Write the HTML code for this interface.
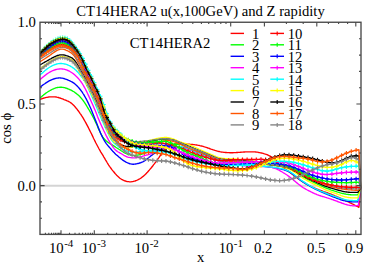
<!DOCTYPE html>
<html><head><meta charset="utf-8"><style>
html,body{margin:0;padding:0;background:#fff}
#w{position:relative;width:374px;height:262px;overflow:hidden;background:#fff;font-family:"Liberation Serif",serif;color:#000}
.t{position:absolute;white-space:nowrap;line-height:1;}
</style></head><body><div id="w">
<svg width="374" height="262" viewBox="0 0 374 262" style="position:absolute;left:0;top:0">
<rect width="374" height="262" fill="#fff"/>
<line x1="40.0" x2="361.0" y1="185.75" y2="185.75" stroke="#d4d4d4" stroke-width="1.9"/>
<clipPath id="c"><rect x="40.0" y="22.25" width="321.6" height="212.15"/></clipPath><g clip-path="url(#c)" fill="none" stroke-linejoin="round">
<path d="M40.0,99.4 L40.8,99.1 L41.6,98.8 L42.4,98.5 L43.2,98.3 L44.0,98.0 L44.8,97.8 L45.6,97.6 L46.4,97.4 L47.2,97.3 L48.0,97.1 L48.8,97.0 L49.6,96.9 L50.4,96.9 L51.2,96.8 L52.0,96.8 L52.8,96.8 L53.6,96.8 L54.4,96.9 L55.2,96.9 L56.0,97.0 L56.8,97.2 L57.6,97.3 L58.4,97.5 L59.2,97.8 L60.0,98.0 L60.8,98.3 L61.6,98.6 L62.4,98.9 L63.2,99.2 L64.0,99.6 L64.8,99.9 L65.6,100.2 L66.4,100.5 L67.2,100.9 L68.0,101.2 L68.8,101.6 L69.6,102.0 L70.4,102.5 L71.2,103.1 L72.0,103.8 L72.8,104.5 L73.6,105.3 L74.4,106.1 L75.2,107.0 L76.0,108.0 L76.8,108.9 L77.6,110.0 L78.4,111.0 L79.2,112.1 L80.0,113.3 L80.8,114.4 L81.6,115.7 L82.4,116.9 L83.2,118.2 L84.0,119.6 L84.8,121.0 L85.6,122.4 L86.4,123.9 L87.2,125.4 L88.0,126.9 L88.8,128.5 L89.6,130.1 L90.4,131.7 L91.2,133.3 L92.0,134.9 L92.8,136.6 L93.5,138.2 L94.3,139.8 L95.1,141.4 L95.9,143.0 L96.7,144.5 L97.5,146.0 L98.3,147.5 L99.1,149.0 L99.9,150.4 L100.7,151.8 L101.5,153.1 L102.3,154.4 L103.1,155.7 L103.9,157.1 L104.7,158.4 L105.5,159.8 L106.3,161.1 L107.1,162.5 L107.9,163.8 L108.7,165.1 L109.5,166.3 L110.3,167.4 L111.1,168.5 L111.9,169.6 L112.7,170.6 L113.5,171.5 L114.3,172.5 L115.1,173.5 L115.9,174.4 L116.7,175.3 L117.5,176.1 L118.3,176.8 L119.1,177.5 L119.9,178.2 L120.7,178.7 L121.5,179.3 L122.3,179.7 L123.1,180.1 L123.9,180.5 L124.7,180.8 L125.5,181.0 L126.3,181.3 L127.1,181.5 L127.9,181.6 L128.7,181.7 L129.5,181.8 L130.3,181.8 L131.1,181.8 L131.9,181.7 L132.7,181.6 L133.5,181.4 L134.3,181.2 L135.1,181.0 L135.9,180.7 L136.7,180.4 L137.5,180.0 L138.3,179.6 L139.1,179.2 L139.9,178.7 L140.7,178.2 L141.5,177.6 L142.3,177.0 L143.1,176.4 L143.9,175.7 L144.7,175.0 L145.5,174.2 L146.3,173.4 L147.1,172.6 L147.9,171.7 L148.7,170.8 L149.5,169.9 L150.3,168.9 L151.1,168.0 L151.9,167.0 L152.7,166.0 L153.5,164.9 L154.3,163.9 L155.1,162.8 L155.9,161.8 L156.7,160.7 L157.5,159.6 L158.3,158.4 L159.1,157.3 L159.9,156.1 L160.7,154.9 L161.5,153.7 L162.3,152.4 L163.1,151.2 L163.9,150.1 L164.7,149.1 L165.5,148.3 L166.3,147.6 L167.1,147.0 L167.9,146.5 L168.7,146.1 L169.5,145.7 L170.3,145.4 L171.1,145.1 L171.9,144.9 L172.7,144.6 L173.5,144.4 L174.3,144.3 L175.1,144.1 L175.9,144.0 L176.7,143.9 L177.5,143.8 L178.3,143.8 L179.1,143.8 L179.9,143.7 L180.7,143.7 L181.5,143.8 L182.3,143.8 L183.1,143.8 L183.9,143.8 L184.7,143.9 L185.5,143.9 L186.3,144.0 L187.1,144.1 L187.9,144.1 L188.7,144.2 L189.5,144.2 L190.3,144.3 L191.1,144.4 L191.9,144.4 L192.7,144.5 L193.5,144.6 L194.3,144.7 L195.1,144.8 L195.9,144.9 L196.7,145.0 L197.5,145.2 L198.3,145.3 L199.1,145.4 L199.8,145.6 L200.6,145.8 L201.4,146.0 L202.2,146.2 L203.0,146.4 L203.8,146.7 L204.6,146.9 L205.4,147.2 L206.2,147.4 L207.0,147.7 L207.8,148.0 L208.6,148.2 L209.4,148.5 L210.2,148.8 L211.0,149.1 L211.8,149.3 L212.6,149.6 L213.4,149.9 L214.2,150.1 L215.0,150.4 L215.8,150.6 L216.6,150.9 L217.4,151.1 L218.2,151.3 L219.0,151.5 L219.8,151.7 L220.6,151.8 L221.4,152.0 L222.2,152.1 L223.0,152.2 L223.8,152.3 L224.6,152.4 L225.4,152.5 L226.2,152.5 L227.0,152.6 L227.8,152.6 L228.6,152.6 L229.4,152.7 L230.2,152.7 L231.0,152.7 L231.8,152.7 L232.6,152.7 L233.4,152.7 L234.2,152.6 L235.0,152.6 L235.8,152.6 L236.6,152.5 L237.4,152.5 L238.2,152.4 L239.0,152.4 L239.8,152.3 L240.6,152.2 L241.4,152.2 L242.2,152.1 L243.0,152.1 L243.8,152.0 L244.6,152.0 L245.4,151.9 L246.2,151.9 L247.0,151.8 L247.8,151.8 L248.6,151.8 L249.4,151.8 L250.2,151.8 L251.0,151.8 L251.8,151.8 L252.6,151.8 L253.4,151.8 L254.2,151.9 L255.0,151.9 L255.8,152.0 L256.6,152.1 L257.4,152.2 L258.2,152.3 L259.0,152.5 L259.8,152.6 L260.6,152.8 L261.4,153.0 L262.2,153.2 L263.0,153.4 L263.8,153.7 L264.6,153.9 L265.4,154.2 L266.2,154.4 L267.0,154.7 L267.8,155.0 L268.6,155.4 L269.4,155.8 L270.2,156.2 L271.0,156.6 L271.8,157.1 L272.6,157.6 L273.4,158.2 L274.2,158.8 L275.0,159.5 L275.8,160.2 L276.6,161.0 L277.4,161.8 L278.2,162.6 L279.0,163.5 L279.8,164.3 L280.6,165.0 L281.4,165.8 L282.2,166.5 L283.0,167.1 L283.8,167.8 L284.6,168.4 L285.4,169.0 L286.2,169.6 L287.0,170.2 L287.8,170.8 L288.6,171.4 L289.4,172.0 L290.2,172.6 L291.0,173.2 L291.8,173.9 L292.6,174.5 L293.4,175.1 L294.2,175.7 L295.0,176.3 L295.8,176.9 L296.6,177.5 L297.4,178.1 L298.2,178.7 L299.0,179.3 L299.8,179.8 L300.6,180.4 L301.4,180.9 L302.2,181.4 L303.0,181.9 L303.8,182.4 L304.6,182.9 L305.4,183.4 L306.1,183.8 L306.9,184.3 L307.7,184.7 L308.5,185.1 L309.3,185.5 L310.1,185.9 L310.9,186.3 L311.7,186.7 L312.5,187.1 L313.3,187.4 L314.1,187.8 L314.9,188.2 L315.7,188.5 L316.5,188.8 L317.3,189.2 L318.1,189.5 L318.9,189.8 L319.7,190.1 L320.5,190.4 L321.3,190.7 L322.1,191.0 L322.9,191.3 L323.7,191.6 L324.5,191.8 L325.3,192.1 L326.1,192.4 L326.9,192.7 L327.7,193.0 L328.5,193.3 L329.3,193.6 L330.1,193.9 L330.9,194.2 L331.7,194.5 L332.5,194.8 L333.3,195.1 L334.1,195.4 L334.9,195.8 L335.7,196.1 L336.5,196.4 L337.3,196.8 L338.1,197.1 L338.9,197.5 L339.7,197.8 L340.5,198.2 L341.3,198.5 L342.1,198.9 L342.9,199.2 L343.7,199.6 L344.5,200.0 L345.3,200.4 L346.1,200.8 L346.9,201.2 L347.7,201.6 L348.5,202.0 L349.3,202.4 L350.1,202.8 L350.9,203.2 L351.7,203.6 L352.5,204.0 L353.3,204.4 L354.1,204.8 L354.9,205.2 L355.7,205.7 L356.5,206.1 L357.3,206.5 L358.1,206.9 L358.9,207.3 L360.8,188.0" stroke="#ff0000" stroke-width="1.35"/>
<path d="M40.0,97.9 L40.8,97.2 L41.6,96.6 L42.4,95.9 L43.2,95.3 L44.0,94.6 L44.8,94.0 L45.6,93.4 L46.4,92.8 L47.2,92.3 L48.0,91.7 L48.8,91.2 L49.6,90.8 L50.4,90.3 L51.2,89.9 L51.9,89.5 L52.7,89.1 L53.5,88.8 L54.3,88.4 L55.1,88.2 L55.9,87.9 L56.7,87.7 L57.5,87.5 L58.3,87.4 L59.1,87.3 L59.9,87.2 L60.7,87.2 L61.5,87.2 L62.3,87.3 L63.1,87.4 L63.9,87.6 L64.7,87.7 L65.5,88.0 L66.3,88.2 L67.1,88.5 L67.9,88.8 L68.7,89.1 L69.5,89.5 L70.3,89.8 L71.1,90.2 L71.9,90.6 L72.7,91.1 L73.5,91.5 L74.3,92.0 L75.0,92.6 L75.8,93.1 L76.6,93.7 L77.4,94.4 L78.2,95.1 L79.0,95.8 L79.8,96.6 L80.6,97.5 L81.4,98.4 L82.2,99.4 L83.0,100.4 L83.8,101.5 L84.6,102.7 L85.4,103.9 L86.2,105.2 L87.0,106.5 L87.8,107.8 L88.6,109.2 L89.4,110.5 L90.2,111.9 L91.0,113.3 L91.8,114.7 L92.6,116.2 L93.4,117.7 L94.2,119.3 L95.0,120.9 L95.8,122.6 L96.6,124.3 L97.4,126.1 L98.1,127.9 L98.9,129.6 L99.7,131.3 L100.5,133.0 L101.3,134.5 L102.1,135.9 L102.9,137.1 L103.7,138.2 L104.5,139.1 L105.3,140.0 L106.1,140.8 L106.9,141.4 L107.7,142.1 L108.5,142.6 L109.3,143.1 L110.1,143.6 L110.9,144.1 L111.7,144.6 L112.5,145.1 L113.3,145.6 L114.1,146.1 L114.9,146.6 L115.7,147.2 L116.5,147.7 L117.3,148.2 L118.1,148.7 L118.9,149.3 L119.7,149.8 L120.5,150.3 L121.2,150.8 L122.0,151.3 L122.8,151.8 L123.6,152.3 L124.4,152.7 L125.2,153.1 L126.0,153.5 L126.8,153.9 L127.6,154.2 L128.4,154.5 L129.2,154.7 L130.0,154.9 L130.8,155.1 L131.6,155.2 L132.4,155.3 L133.2,155.3 L134.0,155.4 L134.8,155.3 L135.6,155.3 L136.4,155.2 L137.2,155.1 L138.0,155.0 L138.8,154.9 L139.6,154.7 L140.4,154.5 L141.2,154.3 L142.0,154.0 L142.8,153.8 L143.6,153.5 L144.4,153.2 L145.1,152.9 L145.9,152.6 L146.7,152.3 L147.5,152.0 L148.3,151.7 L149.1,151.3 L149.9,151.0 L150.7,150.7 L151.5,150.4 L152.3,150.1 L153.1,149.8 L153.9,149.5 L154.7,149.3 L155.5,149.0 L156.3,148.7 L157.1,148.4 L157.9,148.2 L158.7,147.9 L159.5,147.7 L160.3,147.4 L161.1,147.2 L161.9,146.9 L162.7,146.7 L163.5,146.4 L164.3,146.2 L165.1,146.0 L165.9,145.7 L166.7,145.5 L167.5,145.3 L168.2,145.1 L169.0,145.0 L169.8,144.8 L170.6,144.7 L171.4,144.6 L172.2,144.5 L173.0,144.4 L173.8,144.3 L174.6,144.2 L175.4,144.2 L176.2,144.2 L177.0,144.2 L177.8,144.2 L178.6,144.2 L179.4,144.2 L180.2,144.3 L181.0,144.4 L181.8,144.6 L182.6,144.7 L183.4,144.9 L184.2,145.1 L185.0,145.3 L185.8,145.5 L186.6,145.8 L187.4,146.0 L188.2,146.3 L189.0,146.6 L189.8,146.9 L190.6,147.2 L191.3,147.5 L192.1,147.9 L192.9,148.2 L193.7,148.6 L194.5,148.9 L195.3,149.3 L196.1,149.7 L196.9,150.0 L197.7,150.4 L198.5,150.8 L199.3,151.2 L200.1,151.6 L200.9,151.9 L201.7,152.3 L202.5,152.7 L203.3,153.1 L204.1,153.5 L204.9,153.8 L205.7,154.2 L206.5,154.6 L207.3,154.9 L208.1,155.3 L208.9,155.7 L209.7,156.0 L210.5,156.4 L211.3,156.7 L212.1,157.0 L212.9,157.3 L213.7,157.6 L214.4,157.9 L215.2,158.2 L216.0,158.4 L216.8,158.7 L217.6,158.9 L218.4,159.1 L219.2,159.3 L220.0,159.5 L220.8,159.7 L221.6,159.8 L222.4,159.9 L223.2,160.1 L224.0,160.2 L224.8,160.3 L225.6,160.3 L226.4,160.4 L227.2,160.5 L228.0,160.6 L228.8,160.6 L229.6,160.7 L230.4,160.7 L231.2,160.8 L232.0,160.8 L232.8,160.9 L233.6,160.9 L234.4,161.0 L235.2,161.0 L236.0,161.1 L236.8,161.1 L237.5,161.2 L238.3,161.3 L239.1,161.3 L239.9,161.4 L240.7,161.5 L241.5,161.5 L242.3,161.6 L243.1,161.7 L243.9,161.8 L244.7,161.9 L245.5,162.0 L246.3,162.1 L247.1,162.1 L247.9,162.2 L248.7,162.3 L249.5,162.4 L250.3,162.5 L251.1,162.6 L251.9,162.7 L252.7,162.9 L253.5,163.0 L254.3,163.1 L255.1,163.2 L255.9,163.3 L256.7,163.4 L257.5,163.5 L258.3,163.6 L259.1,163.7 L259.9,163.8 L260.6,163.9 L261.4,164.0 L262.2,164.2 L263.0,164.3 L263.8,164.4 L264.6,164.5 L265.4,164.6 L266.2,164.6 L267.0,164.7 L267.8,164.8 L268.6,164.9 L269.4,165.0 L270.2,165.1 L271.0,165.2 L271.8,165.3 L272.6,165.3 L273.4,165.4 L274.2,165.5 L275.0,165.6 L275.8,165.7 L276.6,165.8 L277.4,165.9 L278.2,166.0 L279.0,166.1 L279.8,166.3 L280.6,166.4 L281.4,166.5 L282.2,166.7 L283.0,166.8 L283.7,167.0 L284.5,167.2 L285.3,167.4 L286.1,167.6 L286.9,167.8 L287.7,168.1 L288.5,168.4 L289.3,168.7 L290.1,169.1 L290.9,169.4 L291.7,169.9 L292.5,170.3 L293.3,170.8 L294.1,171.3 L294.9,171.8 L295.7,172.3 L296.5,172.8 L297.3,173.3 L298.1,173.8 L298.9,174.3 L299.7,174.9 L300.5,175.4 L301.3,175.9 L302.1,176.3 L302.9,176.8 L303.7,177.3 L304.5,177.7 L305.3,178.1 L306.1,178.6 L306.9,179.0 L307.6,179.4 L308.4,179.8 L309.2,180.2 L310.0,180.6 L310.8,180.9 L311.6,181.3 L312.4,181.7 L313.2,182.1 L314.0,182.5 L314.8,182.8 L315.6,183.2 L316.4,183.6 L317.2,184.0 L318.0,184.3 L318.8,184.7 L319.6,185.1 L320.4,185.5 L321.2,185.9 L322.0,186.2 L322.8,186.6 L323.6,187.0 L324.4,187.3 L325.2,187.7 L326.0,188.0 L326.8,188.3 L327.6,188.6 L328.4,188.9 L329.2,189.2 L330.0,189.5 L330.7,189.8 L331.5,190.1 L332.3,190.3 L333.1,190.6 L333.9,190.9 L334.7,191.1 L335.5,191.4 L336.3,191.6 L337.1,191.9 L337.9,192.1 L338.7,192.4 L339.5,192.6 L340.3,192.9 L341.1,193.1 L341.9,193.3 L342.7,193.5 L343.5,193.7 L344.3,193.9 L345.1,194.0 L345.9,194.2 L346.7,194.3 L347.5,194.4 L348.3,194.5 L349.1,194.6 L349.9,194.7 L350.7,194.7 L351.5,194.8 L352.3,194.8 L353.1,194.8 L353.8,194.9 L354.6,194.9 L355.4,194.9 L356.2,194.9 L357.0,194.9 L357.8,194.9 L360.8,188.0" stroke="#00ff00" stroke-width="1.35"/>
<path d="M40.0,87.2 L40.8,86.6 L41.6,86.0 L42.4,85.4 L43.2,84.8 L44.0,84.2 L44.8,83.7 L45.6,83.1 L46.4,82.6 L47.2,82.1 L48.0,81.6 L48.8,81.1 L49.6,80.7 L50.4,80.3 L51.2,80.0 L51.9,79.6 L52.7,79.3 L53.5,79.0 L54.3,78.8 L55.1,78.5 L55.9,78.4 L56.7,78.2 L57.5,78.1 L58.3,78.0 L59.1,77.9 L59.9,77.9 L60.7,78.0 L61.5,78.1 L62.3,78.2 L63.1,78.3 L63.9,78.5 L64.7,78.8 L65.5,79.1 L66.3,79.4 L67.1,79.7 L67.9,80.0 L68.7,80.4 L69.5,80.7 L70.3,81.1 L71.1,81.5 L71.9,81.9 L72.7,82.4 L73.5,82.9 L74.3,83.4 L75.0,84.0 L75.8,84.7 L76.6,85.4 L77.4,86.2 L78.2,87.1 L79.0,88.0 L79.8,89.0 L80.6,90.0 L81.4,91.1 L82.2,92.2 L83.0,93.5 L83.8,94.7 L84.6,96.1 L85.4,97.5 L86.2,98.9 L87.0,100.5 L87.8,102.1 L88.6,103.7 L89.4,105.5 L90.2,107.2 L91.0,109.1 L91.8,111.0 L92.6,112.9 L93.4,114.9 L94.2,116.9 L95.0,118.9 L95.8,120.9 L96.6,123.0 L97.4,125.0 L98.1,127.1 L98.9,129.1 L99.7,131.0 L100.5,132.9 L101.3,134.7 L102.1,136.4 L102.9,138.0 L103.7,139.5 L104.5,140.9 L105.3,142.1 L106.1,143.3 L106.9,144.3 L107.7,145.3 L108.5,146.3 L109.3,147.2 L110.1,148.1 L110.9,149.0 L111.7,150.0 L112.5,150.9 L113.3,151.7 L114.1,152.6 L114.9,153.4 L115.7,154.2 L116.5,154.9 L117.3,155.6 L118.1,156.3 L118.9,157.0 L119.7,157.6 L120.5,158.3 L121.2,158.9 L122.0,159.5 L122.8,160.1 L123.6,160.6 L124.4,161.2 L125.2,161.6 L126.0,162.1 L126.8,162.5 L127.6,162.9 L128.4,163.2 L129.2,163.5 L130.0,163.8 L130.8,163.9 L131.6,164.1 L132.4,164.2 L133.2,164.2 L134.0,164.2 L134.8,164.1 L135.6,164.0 L136.4,163.9 L137.2,163.7 L138.0,163.5 L138.8,163.3 L139.6,163.0 L140.4,162.8 L141.2,162.5 L142.0,162.1 L142.8,161.8 L143.6,161.4 L144.4,160.9 L145.1,160.4 L145.9,159.8 L146.7,159.2 L147.5,158.6 L148.3,158.0 L149.1,157.3 L149.9,156.7 L150.7,156.0 L151.5,155.4 L152.3,154.9 L153.1,154.3 L153.9,153.8 L154.7,153.2 L155.5,152.7 L156.3,152.3 L157.1,151.8 L157.9,151.3 L158.7,150.9 L159.5,150.5 L160.3,150.1 L161.1,149.7 L161.9,149.3 L162.7,148.9 L163.5,148.6 L164.3,148.3 L165.1,148.0 L165.9,147.7 L166.7,147.5 L167.5,147.3 L168.2,147.1 L169.0,147.0 L169.8,146.8 L170.6,146.7 L171.4,146.6 L172.2,146.6 L173.0,146.5 L173.8,146.5 L174.6,146.5 L175.4,146.5 L176.2,146.5 L177.0,146.6 L177.8,146.7 L178.6,146.8 L179.4,146.9 L180.2,147.0 L181.0,147.1 L181.8,147.3 L182.6,147.5 L183.4,147.6 L184.2,147.8 L185.0,148.0 L185.8,148.2 L186.6,148.4 L187.4,148.6 L188.2,148.8 L189.0,149.1 L189.8,149.3 L190.6,149.6 L191.3,149.8 L192.1,150.1 L192.9,150.4 L193.7,150.6 L194.5,150.9 L195.3,151.2 L196.1,151.5 L196.9,151.8 L197.7,152.1 L198.5,152.4 L199.3,152.7 L200.1,153.0 L200.9,153.4 L201.7,153.7 L202.5,154.0 L203.3,154.3 L204.1,154.7 L204.9,155.0 L205.7,155.3 L206.5,155.6 L207.3,156.0 L208.1,156.3 L208.9,156.6 L209.7,156.9 L210.5,157.3 L211.3,157.6 L212.1,157.9 L212.9,158.2 L213.7,158.5 L214.4,158.8 L215.2,159.0 L216.0,159.3 L216.8,159.6 L217.6,159.8 L218.4,160.1 L219.2,160.3 L220.0,160.5 L220.8,160.7 L221.6,160.9 L222.4,161.1 L223.2,161.3 L224.0,161.4 L224.8,161.6 L225.6,161.7 L226.4,161.9 L227.2,162.0 L228.0,162.1 L228.8,162.2 L229.6,162.3 L230.4,162.5 L231.2,162.6 L232.0,162.7 L232.8,162.8 L233.6,162.8 L234.4,162.9 L235.2,163.0 L236.0,163.1 L236.8,163.2 L237.5,163.3 L238.3,163.3 L239.1,163.4 L239.9,163.5 L240.7,163.6 L241.5,163.6 L242.3,163.7 L243.1,163.8 L243.9,163.9 L244.7,163.9 L245.5,164.0 L246.3,164.1 L247.1,164.2 L247.9,164.3 L248.7,164.4 L249.5,164.4 L250.3,164.5 L251.1,164.6 L251.9,164.7 L252.7,164.8 L253.5,164.9 L254.3,165.0 L255.1,165.1 L255.9,165.2 L256.7,165.3 L257.5,165.5 L258.3,165.6 L259.1,165.7 L259.9,165.8 L260.6,165.9 L261.4,166.0 L262.2,166.1 L263.0,166.2 L263.8,166.3 L264.6,166.4 L265.4,166.6 L266.2,166.7 L267.0,166.8 L267.8,166.9 L268.6,167.0 L269.4,167.1 L270.2,167.2 L271.0,167.3 L271.8,167.4 L272.6,167.5 L273.4,167.6 L274.2,167.8 L275.0,167.9 L275.8,168.0 L276.6,168.2 L277.4,168.3 L278.2,168.4 L279.0,168.6 L279.8,168.8 L280.6,168.9 L281.4,169.1 L282.2,169.3 L283.0,169.5 L283.7,169.7 L284.5,170.0 L285.3,170.2 L286.1,170.5 L286.9,170.8 L287.7,171.2 L288.5,171.5 L289.3,171.9 L290.1,172.4 L290.9,172.8 L291.7,173.4 L292.5,173.9 L293.3,174.5 L294.1,175.1 L294.9,175.7 L295.7,176.4 L296.5,177.0 L297.3,177.6 L298.1,178.3 L298.9,178.9 L299.7,179.6 L300.5,180.2 L301.3,180.8 L302.1,181.4 L302.9,181.9 L303.7,182.4 L304.5,182.9 L305.3,183.4 L306.1,183.9 L306.9,184.4 L307.6,184.9 L308.4,185.3 L309.2,185.8 L310.0,186.3 L310.8,186.7 L311.6,187.2 L312.4,187.6 L313.2,188.0 L314.0,188.5 L314.8,188.9 L315.6,189.3 L316.4,189.6 L317.2,190.0 L318.0,190.4 L318.8,190.7 L319.6,191.1 L320.4,191.4 L321.2,191.8 L322.0,192.2 L322.8,192.5 L323.6,192.9 L324.4,193.2 L325.2,193.6 L326.0,193.9 L326.8,194.2 L327.6,194.6 L328.4,194.9 L329.2,195.2 L330.0,195.5 L330.7,195.9 L331.5,196.2 L332.3,196.5 L333.1,196.8 L333.9,197.1 L334.7,197.4 L335.5,197.7 L336.3,198.0 L337.1,198.3 L337.9,198.6 L338.7,198.9 L339.5,199.2 L340.3,199.5 L341.1,199.8 L341.9,200.0 L342.7,200.3 L343.5,200.5 L344.3,200.7 L345.1,200.9 L345.9,201.1 L346.7,201.2 L347.5,201.3 L348.3,201.4 L349.1,201.5 L349.9,201.6 L350.7,201.7 L351.5,201.7 L352.3,201.8 L353.1,201.8 L353.8,201.8 L354.6,201.8 L355.4,201.8 L356.2,201.8 L357.0,201.8 L357.8,201.8 L360.8,188.0" stroke="#0000ff" stroke-width="1.35"/>
<path d="M40.0,79.6 L40.8,78.9 L41.6,78.2 L42.4,77.5 L43.2,76.9 L44.0,76.2 L44.8,75.6 L45.6,75.0 L46.4,74.4 L47.2,73.8 L48.0,73.2 L48.8,72.7 L49.6,72.2 L50.4,71.8 L51.2,71.4 L52.0,71.0 L52.8,70.6 L53.6,70.3 L54.4,70.0 L55.2,69.8 L56.0,69.5 L56.8,69.3 L57.6,69.2 L58.4,69.1 L59.1,69.0 L59.9,68.9 L60.7,68.9 L61.5,68.9 L62.3,69.0 L63.1,69.1 L63.9,69.2 L64.7,69.4 L65.5,69.6 L66.3,69.9 L67.1,70.2 L67.9,70.5 L68.7,70.8 L69.5,71.2 L70.3,71.7 L71.1,72.2 L71.9,72.7 L72.7,73.3 L73.5,73.9 L74.3,74.5 L75.1,75.2 L75.9,76.0 L76.7,76.7 L77.5,77.6 L78.3,78.4 L79.1,79.4 L79.9,80.4 L80.7,81.4 L81.5,82.5 L82.3,83.7 L83.1,85.0 L83.9,86.4 L84.7,87.8 L85.5,89.3 L86.3,90.9 L87.1,92.5 L87.9,94.2 L88.7,95.9 L89.5,97.7 L90.3,99.4 L91.1,101.2 L91.9,103.0 L92.7,104.7 L93.5,106.6 L94.3,108.4 L95.1,110.3 L95.9,112.3 L96.7,114.3 L97.4,116.2 L98.2,118.2 L99.0,120.1 L99.8,122.0 L100.6,123.8 L101.4,125.5 L102.2,127.3 L103.0,129.0 L103.8,130.7 L104.6,132.3 L105.4,134.0 L106.2,135.6 L107.0,137.1 L107.8,138.6 L108.6,140.1 L109.4,141.4 L110.2,142.8 L111.0,144.0 L111.8,145.3 L112.6,146.5 L113.4,147.6 L114.2,148.6 L115.0,149.5 L115.8,150.3 L116.6,150.9 L117.4,151.5 L118.2,152.0 L119.0,152.4 L119.8,152.9 L120.6,153.3 L121.4,153.8 L122.2,154.3 L123.0,154.8 L123.8,155.3 L124.6,155.7 L125.4,156.1 L126.2,156.5 L127.0,156.8 L127.8,157.1 L128.6,157.3 L129.4,157.4 L130.2,157.6 L131.0,157.7 L131.8,157.8 L132.6,157.8 L133.4,157.8 L134.2,157.8 L135.0,157.8 L135.7,157.7 L136.5,157.6 L137.3,157.5 L138.1,157.4 L138.9,157.2 L139.7,157.1 L140.5,156.9 L141.3,156.6 L142.1,156.4 L142.9,156.1 L143.7,155.9 L144.5,155.6 L145.3,155.4 L146.1,155.2 L146.9,155.0 L147.7,154.8 L148.5,154.6 L149.3,154.3 L150.1,154.0 L150.9,153.6 L151.7,153.1 L152.5,152.6 L153.3,152.1 L154.1,151.6 L154.9,151.0 L155.7,150.5 L156.5,150.1 L157.3,149.7 L158.1,149.3 L158.9,149.0 L159.7,148.7 L160.5,148.4 L161.3,148.2 L162.1,148.0 L162.9,147.8 L163.7,147.7 L164.5,147.6 L165.3,147.5 L166.1,147.4 L166.9,147.3 L167.7,147.2 L168.5,147.1 L169.3,147.1 L170.1,147.0 L170.9,147.0 L171.7,147.0 L172.5,147.0 L173.3,147.0 L174.0,147.0 L174.8,147.0 L175.6,147.0 L176.4,147.1 L177.2,147.1 L178.0,147.2 L178.8,147.3 L179.6,147.4 L180.4,147.6 L181.2,147.7 L182.0,147.8 L182.8,148.0 L183.6,148.2 L184.4,148.4 L185.2,148.6 L186.0,148.8 L186.8,149.0 L187.6,149.2 L188.4,149.5 L189.2,149.7 L190.0,150.0 L190.8,150.3 L191.6,150.6 L192.4,150.9 L193.2,151.2 L194.0,151.5 L194.8,151.8 L195.6,152.2 L196.4,152.5 L197.2,152.8 L198.0,153.2 L198.8,153.5 L199.6,153.8 L200.4,154.2 L201.2,154.5 L202.0,154.8 L202.8,155.2 L203.6,155.5 L204.4,155.8 L205.2,156.1 L206.0,156.5 L206.8,156.8 L207.6,157.1 L208.4,157.4 L209.2,157.8 L210.0,158.1 L210.8,158.4 L211.6,158.7 L212.3,159.0 L213.1,159.3 L213.9,159.6 L214.7,159.9 L215.5,160.1 L216.3,160.4 L217.1,160.6 L217.9,160.9 L218.7,161.1 L219.5,161.4 L220.3,161.6 L221.1,161.8 L221.9,162.0 L222.7,162.2 L223.5,162.4 L224.3,162.6 L225.1,162.7 L225.9,162.9 L226.7,163.1 L227.5,163.2 L228.3,163.4 L229.1,163.5 L229.9,163.7 L230.7,163.8 L231.5,163.9 L232.3,164.1 L233.1,164.2 L233.9,164.3 L234.7,164.5 L235.5,164.6 L236.3,164.7 L237.1,164.8 L237.9,164.9 L238.7,165.0 L239.5,165.2 L240.3,165.3 L241.1,165.4 L241.9,165.5 L242.7,165.6 L243.5,165.7 L244.3,165.8 L245.1,165.9 L245.9,165.9 L246.7,166.0 L247.5,166.1 L248.3,166.2 L249.1,166.2 L249.8,166.3 L250.6,166.3 L251.4,166.4 L252.2,166.4 L253.0,166.5 L253.8,166.5 L254.6,166.5 L255.4,166.6 L256.2,166.6 L257.0,166.6 L257.8,166.6 L258.6,166.6 L259.4,166.6 L260.2,166.6 L261.0,166.6 L261.8,166.6 L262.6,166.6 L263.4,166.6 L264.2,166.6 L265.0,166.6 L265.8,166.6 L266.6,166.6 L267.4,166.7 L268.2,166.8 L269.0,166.9 L269.8,167.0 L270.6,167.1 L271.4,167.3 L272.2,167.4 L273.0,167.6 L273.8,167.9 L274.6,168.1 L275.4,168.4 L276.2,168.8 L277.0,169.2 L277.8,169.6 L278.6,170.0 L279.4,170.4 L280.2,170.9 L281.0,171.3 L281.8,171.8 L282.6,172.3 L283.4,172.8 L284.2,173.2 L285.0,173.7 L285.8,174.2 L286.6,174.8 L287.4,175.3 L288.1,175.9 L288.9,176.4 L289.7,177.0 L290.5,177.6 L291.3,178.2 L292.1,178.9 L292.9,179.5 L293.7,180.2 L294.5,180.9 L295.3,181.5 L296.1,182.2 L296.9,182.9 L297.7,183.5 L298.5,184.2 L299.3,184.8 L300.1,185.4 L300.9,186.0 L301.7,186.6 L302.5,187.1 L303.3,187.7 L304.1,188.2 L304.9,188.6 L305.7,189.1 L306.5,189.5 L307.3,190.0 L308.1,190.4 L308.9,190.8 L309.7,191.2 L310.5,191.6 L311.3,192.0 L312.1,192.4 L312.9,192.8 L313.7,193.2 L314.5,193.6 L315.3,193.9 L316.1,194.2 L316.9,194.6 L317.7,194.9 L318.5,195.2 L319.3,195.5 L320.1,195.7 L320.9,196.0 L321.7,196.2 L322.5,196.5 L323.3,196.7 L324.1,196.9 L324.9,197.2 L325.7,197.4 L326.4,197.6 L327.2,197.9 L328.0,198.1 L328.8,198.4 L329.6,198.7 L330.4,198.9 L331.2,199.2 L332.0,199.5 L332.8,199.7 L333.6,200.0 L334.4,200.3 L335.2,200.6 L336.0,200.9 L336.8,201.2 L337.6,201.5 L338.4,201.8 L339.2,202.1 L340.0,202.4 L340.8,202.7 L341.6,203.0 L342.4,203.3 L343.2,203.5 L344.0,203.8 L344.8,204.1 L345.6,204.3 L346.4,204.5 L347.2,204.8 L348.0,205.0 L348.8,205.1 L349.6,205.3 L350.4,205.5 L351.2,205.6 L352.0,205.7 L352.8,205.8 L353.6,205.8 L354.4,205.8 L355.2,205.8 L356.0,205.7 L356.8,205.6 L357.6,205.5 L358.4,205.4 L360.8,188.0" stroke="#ff00ff" stroke-width="1.35"/>
<path d="M40.0,75.0 L40.8,74.3 L41.6,73.6 L42.4,72.9 L43.2,72.2 L44.0,71.5 L44.8,70.8 L45.6,70.1 L46.4,69.5 L47.2,68.9 L48.0,68.3 L48.8,67.8 L49.6,67.3 L50.4,66.8 L51.2,66.3 L51.9,65.9 L52.7,65.5 L53.5,65.2 L54.3,64.8 L55.1,64.5 L55.9,64.3 L56.7,64.0 L57.5,63.9 L58.3,63.7 L59.1,63.6 L59.9,63.5 L60.7,63.5 L61.5,63.5 L62.3,63.6 L63.1,63.7 L63.9,63.8 L64.7,64.0 L65.5,64.2 L66.3,64.4 L67.1,64.7 L67.9,65.0 L68.7,65.4 L69.5,65.7 L70.3,66.1 L71.1,66.6 L71.9,67.0 L72.7,67.6 L73.5,68.1 L74.3,68.7 L75.0,69.4 L75.8,70.1 L76.6,70.9 L77.4,71.7 L78.2,72.6 L79.0,73.5 L79.8,74.5 L80.6,75.5 L81.4,76.5 L82.2,77.5 L83.0,78.7 L83.8,79.9 L84.6,81.2 L85.4,82.6 L86.2,84.1 L87.0,85.7 L87.8,87.4 L88.6,89.1 L89.4,90.9 L90.2,92.6 L91.0,94.4 L91.8,96.3 L92.6,98.1 L93.4,99.9 L94.2,101.8 L95.0,103.6 L95.8,105.5 L96.6,107.3 L97.4,109.2 L98.1,111.0 L98.9,112.9 L99.7,114.8 L100.5,116.6 L101.3,118.5 L102.1,120.3 L102.9,122.1 L103.7,123.9 L104.5,125.7 L105.3,127.4 L106.1,129.2 L106.9,130.9 L107.7,132.6 L108.5,134.3 L109.3,135.9 L110.1,137.5 L110.9,138.9 L111.7,140.1 L112.5,141.2 L113.3,142.1 L114.1,142.9 L114.9,143.7 L115.7,144.4 L116.5,145.0 L117.3,145.6 L118.1,146.1 L118.9,146.6 L119.7,147.1 L120.5,147.6 L121.2,148.1 L122.0,148.5 L122.8,149.0 L123.6,149.4 L124.4,149.8 L125.2,150.2 L126.0,150.6 L126.8,150.9 L127.6,151.2 L128.4,151.5 L129.2,151.7 L130.0,151.9 L130.8,152.1 L131.6,152.2 L132.4,152.3 L133.2,152.3 L134.0,152.3 L134.8,152.3 L135.6,152.2 L136.4,152.1 L137.2,152.0 L138.0,151.9 L138.8,151.8 L139.6,151.7 L140.4,151.6 L141.2,151.5 L142.0,151.4 L142.8,151.3 L143.6,151.2 L144.4,151.1 L145.1,151.0 L145.9,151.0 L146.7,150.9 L147.5,150.8 L148.3,150.7 L149.1,150.6 L149.9,150.5 L150.7,150.4 L151.5,150.3 L152.3,150.1 L153.1,150.0 L153.9,149.8 L154.7,149.7 L155.5,149.5 L156.3,149.3 L157.1,149.2 L157.9,149.0 L158.7,148.8 L159.5,148.6 L160.3,148.4 L161.1,148.3 L161.9,148.1 L162.7,147.9 L163.5,147.7 L164.3,147.5 L165.1,147.3 L165.9,147.2 L166.7,147.0 L167.5,146.9 L168.2,146.7 L169.0,146.6 L169.8,146.5 L170.6,146.4 L171.4,146.4 L172.2,146.3 L173.0,146.2 L173.8,146.2 L174.6,146.2 L175.4,146.2 L176.2,146.2 L177.0,146.2 L177.8,146.3 L178.6,146.3 L179.4,146.4 L180.2,146.5 L181.0,146.7 L181.8,146.8 L182.6,147.0 L183.4,147.2 L184.2,147.4 L185.0,147.7 L185.8,148.0 L186.6,148.2 L187.4,148.5 L188.2,148.8 L189.0,149.1 L189.8,149.4 L190.6,149.7 L191.3,150.0 L192.1,150.3 L192.9,150.6 L193.7,150.9 L194.5,151.3 L195.3,151.6 L196.1,151.9 L196.9,152.2 L197.7,152.6 L198.5,152.9 L199.3,153.2 L200.1,153.5 L200.9,153.9 L201.7,154.2 L202.5,154.5 L203.3,154.9 L204.1,155.2 L204.9,155.5 L205.7,155.9 L206.5,156.2 L207.3,156.5 L208.1,156.9 L208.9,157.2 L209.7,157.5 L210.5,157.8 L211.3,158.1 L212.1,158.4 L212.9,158.7 L213.7,159.0 L214.4,159.3 L215.2,159.6 L216.0,159.8 L216.8,160.1 L217.6,160.3 L218.4,160.6 L219.2,160.8 L220.0,161.0 L220.8,161.2 L221.6,161.4 L222.4,161.6 L223.2,161.7 L224.0,161.9 L224.8,162.1 L225.6,162.2 L226.4,162.3 L227.2,162.5 L228.0,162.6 L228.8,162.7 L229.6,162.8 L230.4,162.9 L231.2,163.0 L232.0,163.1 L232.8,163.2 L233.6,163.3 L234.4,163.4 L235.2,163.5 L236.0,163.6 L236.8,163.7 L237.5,163.8 L238.3,163.9 L239.1,163.9 L239.9,164.0 L240.7,164.1 L241.5,164.2 L242.3,164.3 L243.1,164.3 L243.9,164.4 L244.7,164.5 L245.5,164.6 L246.3,164.6 L247.1,164.7 L247.9,164.8 L248.7,164.9 L249.5,165.0 L250.3,165.0 L251.1,165.1 L251.9,165.2 L252.7,165.3 L253.5,165.4 L254.3,165.4 L255.1,165.5 L255.9,165.6 L256.7,165.7 L257.5,165.8 L258.3,165.8 L259.1,165.9 L259.9,166.0 L260.6,166.1 L261.4,166.2 L262.2,166.2 L263.0,166.3 L263.8,166.4 L264.6,166.5 L265.4,166.5 L266.2,166.6 L267.0,166.7 L267.8,166.8 L268.6,166.8 L269.4,166.9 L270.2,167.0 L271.0,167.1 L271.8,167.1 L272.6,167.2 L273.4,167.3 L274.2,167.4 L275.0,167.5 L275.8,167.6 L276.6,167.7 L277.4,167.8 L278.2,168.0 L279.0,168.1 L279.8,168.3 L280.6,168.4 L281.4,168.6 L282.2,168.8 L283.0,169.0 L283.7,169.2 L284.5,169.4 L285.3,169.7 L286.1,170.0 L286.9,170.3 L287.7,170.7 L288.5,171.0 L289.3,171.4 L290.1,171.9 L290.9,172.4 L291.7,172.9 L292.5,173.4 L293.3,174.0 L294.1,174.6 L294.9,175.2 L295.7,175.9 L296.5,176.5 L297.3,177.1 L298.1,177.8 L298.9,178.4 L299.7,179.1 L300.5,179.7 L301.3,180.3 L302.1,180.9 L302.9,181.4 L303.7,181.9 L304.5,182.4 L305.3,182.9 L306.1,183.4 L306.9,183.9 L307.6,184.4 L308.4,184.8 L309.2,185.3 L310.0,185.8 L310.8,186.2 L311.6,186.7 L312.4,187.1 L313.2,187.5 L314.0,188.0 L314.8,188.4 L315.6,188.8 L316.4,189.1 L317.2,189.5 L318.0,189.9 L318.8,190.2 L319.6,190.6 L320.4,190.9 L321.2,191.3 L322.0,191.6 L322.8,191.9 L323.6,192.2 L324.4,192.6 L325.2,192.9 L326.0,193.2 L326.8,193.5 L327.6,193.8 L328.4,194.1 L329.2,194.4 L330.0,194.7 L330.7,195.0 L331.5,195.3 L332.3,195.5 L333.1,195.8 L333.9,196.1 L334.7,196.4 L335.5,196.7 L336.3,197.0 L337.1,197.3 L337.9,197.5 L338.7,197.8 L339.5,198.1 L340.3,198.4 L341.1,198.6 L341.9,198.9 L342.7,199.1 L343.5,199.3 L344.3,199.5 L345.1,199.7 L345.9,199.9 L346.7,200.0 L347.5,200.1 L348.3,200.2 L349.1,200.3 L349.9,200.4 L350.7,200.5 L351.5,200.5 L352.3,200.5 L353.1,200.6 L353.8,200.6 L354.6,200.6 L355.4,200.6 L356.2,200.6 L357.0,200.6 L357.8,200.6 L360.8,188.0" stroke="#00ffff" stroke-width="1.35"/>
<path d="M40.0,68.9 L40.8,68.3 L41.6,67.7 L42.4,67.0 L43.2,66.4 L44.0,65.8 L44.8,65.2 L45.6,64.6 L46.4,64.0 L47.2,63.5 L48.0,62.9 L48.8,62.3 L49.6,61.8 L50.4,61.3 L51.2,60.7 L51.9,60.2 L52.7,59.7 L53.5,59.3 L54.3,58.8 L55.1,58.4 L55.9,58.0 L56.7,57.6 L57.5,57.3 L58.3,57.0 L59.1,56.8 L59.9,56.7 L60.7,56.5 L61.5,56.5 L62.3,56.5 L63.1,56.6 L63.9,56.7 L64.7,56.9 L65.5,57.1 L66.3,57.4 L67.1,57.6 L67.9,57.9 L68.7,58.2 L69.5,58.4 L70.3,58.8 L71.1,59.2 L71.9,59.7 L72.7,60.4 L73.5,61.2 L74.3,62.3 L75.0,63.5 L75.8,65.0 L76.6,66.5 L77.4,68.0 L78.2,69.5 L79.0,70.9 L79.8,72.3 L80.6,73.6 L81.4,74.9 L82.2,76.2 L83.0,77.6 L83.8,79.1 L84.6,80.5 L85.4,82.0 L86.2,83.5 L87.0,85.1 L87.8,86.6 L88.6,88.1 L89.4,89.7 L90.2,91.2 L91.0,92.8 L91.8,94.4 L92.6,96.0 L93.4,97.6 L94.2,99.3 L95.0,101.0 L95.8,102.7 L96.6,104.5 L97.4,106.4 L98.1,108.2 L98.9,110.1 L99.7,112.0 L100.5,113.9 L101.3,115.9 L102.1,117.8 L102.9,119.8 L103.7,121.8 L104.5,123.8 L105.3,125.8 L106.1,127.8 L106.9,129.7 L107.7,131.6 L108.5,133.3 L109.3,135.0 L110.1,136.5 L110.9,137.8 L111.7,139.0 L112.5,140.1 L113.3,141.0 L114.1,141.8 L114.9,142.6 L115.7,143.2 L116.5,143.9 L117.3,144.4 L118.1,145.0 L118.9,145.5 L119.7,146.0 L120.5,146.4 L121.2,146.7 L122.0,147.0 L122.8,147.3 L123.6,147.5 L124.4,147.6 L125.2,147.7 L126.0,147.8 L126.8,147.9 L127.6,147.9 L128.4,147.8 L129.2,147.8 L130.0,147.7 L130.8,147.5 L131.6,147.4 L132.4,147.2 L133.2,147.0 L134.0,146.7 L134.8,146.4 L135.6,146.2 L136.4,145.9 L137.2,145.5 L138.0,145.2 L138.8,144.8 L139.6,144.5 L140.4,144.1 L141.2,143.7 L142.0,143.3 L142.8,143.0 L143.6,142.6 L144.4,142.3 L145.1,141.9 L145.9,141.6 L146.7,141.3 L147.5,141.1 L148.3,140.8 L149.1,140.5 L149.9,140.3 L150.7,140.1 L151.5,139.9 L152.3,139.6 L153.1,139.4 L153.9,139.3 L154.7,139.1 L155.5,138.9 L156.3,138.7 L157.1,138.5 L157.9,138.4 L158.7,138.2 L159.5,138.1 L160.3,137.9 L161.1,137.8 L161.9,137.7 L162.7,137.6 L163.5,137.6 L164.3,137.5 L165.1,137.5 L165.9,137.5 L166.7,137.5 L167.5,137.6 L168.2,137.7 L169.0,137.8 L169.8,138.0 L170.6,138.1 L171.4,138.3 L172.2,138.6 L173.0,138.8 L173.8,139.2 L174.6,139.5 L175.4,139.8 L176.2,140.2 L177.0,140.6 L177.8,140.9 L178.6,141.3 L179.4,141.6 L180.2,141.9 L181.0,142.1 L181.8,142.4 L182.6,142.6 L183.4,142.8 L184.2,143.1 L185.0,143.3 L185.8,143.5 L186.6,143.8 L187.4,144.1 L188.2,144.4 L189.0,144.7 L189.8,145.0 L190.6,145.3 L191.3,145.7 L192.1,146.0 L192.9,146.4 L193.7,146.7 L194.5,147.1 L195.3,147.5 L196.1,147.8 L196.9,148.2 L197.7,148.5 L198.5,148.9 L199.3,149.3 L200.1,149.6 L200.9,150.0 L201.7,150.4 L202.5,150.7 L203.3,151.1 L204.1,151.4 L204.9,151.8 L205.7,152.1 L206.5,152.5 L207.3,152.8 L208.1,153.2 L208.9,153.5 L209.7,153.9 L210.5,154.2 L211.3,154.6 L212.1,154.9 L212.9,155.2 L213.7,155.6 L214.4,155.9 L215.2,156.2 L216.0,156.6 L216.8,156.9 L217.6,157.1 L218.4,157.4 L219.2,157.6 L220.0,157.8 L220.8,158.0 L221.6,158.1 L222.4,158.3 L223.2,158.4 L224.0,158.5 L224.8,158.6 L225.6,158.6 L226.4,158.7 L227.2,158.7 L228.0,158.8 L228.8,158.8 L229.6,158.8 L230.4,158.9 L231.2,158.9 L232.0,158.9 L232.8,158.9 L233.6,158.9 L234.4,159.0 L235.2,159.0 L236.0,159.0 L236.8,159.1 L237.5,159.1 L238.3,159.2 L239.1,159.3 L239.9,159.3 L240.7,159.4 L241.5,159.5 L242.3,159.6 L243.1,159.6 L243.9,159.7 L244.7,159.8 L245.5,159.9 L246.3,160.0 L247.1,160.1 L247.9,160.2 L248.7,160.3 L249.5,160.4 L250.3,160.5 L251.1,160.7 L251.9,160.8 L252.7,160.9 L253.5,161.0 L254.3,161.1 L255.1,161.3 L255.9,161.4 L256.7,161.5 L257.5,161.6 L258.3,161.8 L259.1,161.9 L259.9,162.0 L260.6,162.2 L261.4,162.3 L262.2,162.5 L263.0,162.6 L263.8,162.8 L264.6,162.9 L265.4,163.1 L266.2,163.2 L267.0,163.4 L267.8,163.6 L268.6,163.7 L269.4,163.9 L270.2,164.1 L271.0,164.2 L271.8,164.4 L272.6,164.6 L273.4,164.8 L274.2,164.9 L275.0,165.1 L275.8,165.3 L276.6,165.5 L277.4,165.7 L278.2,165.9 L279.0,166.1 L279.8,166.2 L280.6,166.4 L281.4,166.6 L282.2,166.8 L283.0,167.0 L283.7,167.2 L284.5,167.5 L285.3,167.7 L286.1,168.0 L286.9,168.2 L287.7,168.5 L288.5,168.8 L289.3,169.2 L290.1,169.6 L290.9,170.0 L291.7,170.4 L292.5,170.9 L293.3,171.3 L294.1,171.9 L294.9,172.4 L295.7,172.9 L296.5,173.5 L297.3,174.1 L298.1,174.7 L298.9,175.3 L299.7,175.8 L300.5,176.4 L301.3,177.0 L302.1,177.5 L302.9,178.1 L303.7,178.6 L304.5,179.1 L305.3,179.5 L306.1,180.0 L306.9,180.4 L307.6,180.9 L308.4,181.3 L309.2,181.7 L310.0,182.1 L310.8,182.6 L311.6,183.0 L312.4,183.4 L313.2,183.8 L314.0,184.2 L314.8,184.5 L315.6,184.9 L316.4,185.3 L317.2,185.7 L318.0,186.1 L318.8,186.5 L319.6,186.9 L320.4,187.3 L321.2,187.7 L322.0,188.1 L322.8,188.5 L323.6,188.9 L324.4,189.3 L325.2,189.7 L326.0,190.0 L326.8,190.3 L327.6,190.6 L328.4,190.9 L329.2,191.2 L330.0,191.5 L330.7,191.8 L331.5,192.0 L332.3,192.3 L333.1,192.6 L333.9,192.8 L334.7,193.1 L335.5,193.4 L336.3,193.7 L337.1,194.0 L337.9,194.3 L338.7,194.6 L339.5,194.9 L340.3,195.2 L341.1,195.6 L341.9,195.8 L342.7,196.1 L343.5,196.4 L344.3,196.6 L345.1,196.9 L345.9,197.0 L346.7,197.2 L347.5,197.4 L348.3,197.5 L349.1,197.6 L349.9,197.7 L350.7,197.7 L351.5,197.8 L352.3,197.8 L353.1,197.8 L353.8,197.8 L354.6,197.8 L355.4,197.8 L356.2,197.8 L357.0,197.8 L357.8,197.8 L360.8,188.0" stroke="#ffff00" stroke-width="1.35"/>
<path d="M40.0,64.9 L40.8,64.4 L41.6,64.0 L42.4,63.5 L43.2,63.0 L44.0,62.6 L44.8,62.1 L45.6,61.7 L46.4,61.2 L47.2,60.8 L48.0,60.3 L48.8,59.9 L49.6,59.4 L50.4,59.0 L51.2,58.6 L51.9,58.1 L52.7,57.7 L53.5,57.3 L54.3,56.9 L55.1,56.5 L55.9,56.2 L56.7,55.8 L57.5,55.5 L58.3,55.3 L59.1,55.1 L59.9,54.9 L60.7,54.8 L61.5,54.8 L62.3,54.8 L63.1,54.9 L63.9,55.0 L64.7,55.2 L65.5,55.4 L66.3,55.7 L67.1,55.9 L67.9,56.2 L68.7,56.5 L69.5,56.8 L70.3,57.1 L71.1,57.5 L71.9,57.9 L72.7,58.5 L73.5,59.2 L74.3,60.0 L75.0,60.9 L75.8,62.0 L76.6,63.2 L77.4,64.5 L78.2,65.9 L79.0,67.3 L79.8,68.7 L80.6,70.0 L81.4,71.4 L82.2,72.8 L83.0,74.2 L83.8,75.5 L84.6,76.9 L85.4,78.3 L86.2,79.8 L87.0,81.2 L87.8,82.7 L88.6,84.2 L89.4,85.8 L90.2,87.4 L91.0,89.0 L91.8,90.7 L92.6,92.4 L93.4,94.1 L94.2,95.9 L95.0,97.7 L95.8,99.5 L96.6,101.3 L97.4,103.1 L98.1,104.9 L98.9,106.7 L99.7,108.6 L100.5,110.4 L101.3,112.3 L102.1,114.2 L102.9,116.1 L103.7,118.1 L104.5,120.1 L105.3,122.1 L106.1,124.1 L106.9,126.1 L107.7,128.1 L108.5,130.0 L109.3,131.9 L110.1,133.6 L110.9,135.1 L111.7,136.5 L112.5,137.7 L113.3,138.7 L114.1,139.6 L114.9,140.3 L115.7,141.0 L116.5,141.6 L117.3,142.2 L118.1,142.7 L118.9,143.3 L119.7,143.8 L120.5,144.3 L121.2,144.7 L122.0,145.1 L122.8,145.4 L123.6,145.7 L124.4,146.0 L125.2,146.1 L126.0,146.3 L126.8,146.4 L127.6,146.5 L128.4,146.5 L129.2,146.5 L130.0,146.5 L130.8,146.4 L131.6,146.4 L132.4,146.3 L133.2,146.1 L134.0,146.0 L134.8,145.8 L135.6,145.6 L136.4,145.4 L137.2,145.2 L138.0,145.0 L138.8,144.8 L139.6,144.5 L140.4,144.2 L141.2,144.0 L142.0,143.7 L142.8,143.4 L143.6,143.1 L144.4,142.9 L145.1,142.6 L145.9,142.3 L146.7,142.1 L147.5,141.8 L148.3,141.6 L149.1,141.4 L149.9,141.2 L150.7,141.0 L151.5,140.9 L152.3,140.7 L153.1,140.5 L153.9,140.4 L154.7,140.2 L155.5,140.1 L156.3,140.0 L157.1,139.8 L157.9,139.7 L158.7,139.6 L159.5,139.5 L160.3,139.4 L161.1,139.3 L161.9,139.2 L162.7,139.1 L163.5,139.1 L164.3,139.0 L165.1,139.0 L165.9,139.0 L166.7,139.0 L167.5,139.1 L168.2,139.1 L169.0,139.2 L169.8,139.3 L170.6,139.5 L171.4,139.6 L172.2,139.8 L173.0,140.0 L173.8,140.3 L174.6,140.5 L175.4,140.8 L176.2,141.2 L177.0,141.5 L177.8,141.8 L178.6,142.2 L179.4,142.5 L180.2,142.9 L181.0,143.2 L181.8,143.5 L182.6,143.8 L183.4,144.2 L184.2,144.5 L185.0,144.8 L185.8,145.1 L186.6,145.4 L187.4,145.7 L188.2,146.1 L189.0,146.4 L189.8,146.7 L190.6,147.0 L191.3,147.4 L192.1,147.7 L192.9,148.0 L193.7,148.4 L194.5,148.7 L195.3,149.0 L196.1,149.4 L196.9,149.7 L197.7,150.0 L198.5,150.4 L199.3,150.7 L200.1,151.0 L200.9,151.4 L201.7,151.7 L202.5,152.1 L203.3,152.4 L204.1,152.8 L204.9,153.1 L205.7,153.4 L206.5,153.8 L207.3,154.1 L208.1,154.5 L208.9,154.8 L209.7,155.2 L210.5,155.5 L211.3,155.8 L212.1,156.2 L212.9,156.5 L213.7,156.9 L214.4,157.2 L215.2,157.5 L216.0,157.8 L216.8,158.1 L217.6,158.4 L218.4,158.6 L219.2,158.8 L220.0,159.0 L220.8,159.2 L221.6,159.3 L222.4,159.4 L223.2,159.5 L224.0,159.6 L224.8,159.7 L225.6,159.7 L226.4,159.8 L227.2,159.8 L228.0,159.8 L228.8,159.9 L229.6,159.9 L230.4,159.9 L231.2,159.9 L232.0,159.9 L232.8,159.9 L233.6,160.0 L234.4,160.0 L235.2,160.0 L236.0,160.0 L236.8,160.1 L237.5,160.1 L238.3,160.2 L239.1,160.3 L239.9,160.3 L240.7,160.4 L241.5,160.5 L242.3,160.6 L243.1,160.7 L243.9,160.7 L244.7,160.8 L245.5,160.9 L246.3,161.0 L247.1,161.1 L247.9,161.2 L248.7,161.3 L249.5,161.4 L250.3,161.5 L251.1,161.6 L251.9,161.7 L252.7,161.8 L253.5,161.9 L254.3,162.0 L255.1,162.1 L255.9,162.2 L256.7,162.3 L257.5,162.5 L258.3,162.6 L259.1,162.7 L259.9,162.8 L260.6,162.9 L261.4,163.0 L262.2,163.1 L263.0,163.2 L263.8,163.3 L264.6,163.4 L265.4,163.6 L266.2,163.7 L267.0,163.8 L267.8,163.9 L268.6,164.1 L269.4,164.2 L270.2,164.3 L271.0,164.5 L271.8,164.6 L272.6,164.7 L273.4,164.9 L274.2,165.0 L275.0,165.1 L275.8,165.3 L276.6,165.4 L277.4,165.5 L278.2,165.7 L279.0,165.8 L279.8,166.0 L280.6,166.1 L281.4,166.2 L282.2,166.4 L283.0,166.5 L283.7,166.7 L284.5,166.8 L285.3,167.0 L286.1,167.2 L286.9,167.4 L287.7,167.7 L288.5,167.9 L289.3,168.2 L290.1,168.6 L290.9,168.9 L291.7,169.3 L292.5,169.7 L293.3,170.1 L294.1,170.6 L294.9,171.1 L295.7,171.5 L296.5,172.0 L297.3,172.5 L298.1,172.9 L298.9,173.4 L299.7,173.9 L300.5,174.3 L301.3,174.8 L302.1,175.2 L302.9,175.7 L303.7,176.1 L304.5,176.5 L305.3,177.0 L306.1,177.4 L306.9,177.8 L307.6,178.2 L308.4,178.6 L309.2,178.9 L310.0,179.3 L310.8,179.7 L311.6,180.1 L312.4,180.4 L313.2,180.8 L314.0,181.1 L314.8,181.5 L315.6,181.9 L316.4,182.2 L317.2,182.6 L318.0,183.0 L318.8,183.3 L319.6,183.7 L320.4,184.0 L321.2,184.4 L322.0,184.8 L322.8,185.1 L323.6,185.4 L324.4,185.8 L325.2,186.1 L326.0,186.4 L326.8,186.7 L327.6,186.9 L328.4,187.2 L329.2,187.5 L330.0,187.7 L330.7,188.0 L331.5,188.2 L332.3,188.4 L333.1,188.7 L333.9,188.9 L334.7,189.1 L335.5,189.4 L336.3,189.6 L337.1,189.8 L337.9,190.0 L338.7,190.3 L339.5,190.5 L340.3,190.7 L341.1,190.9 L341.9,191.1 L342.7,191.3 L343.5,191.5 L344.3,191.6 L345.1,191.8 L345.9,191.9 L346.7,192.0 L347.5,192.1 L348.3,192.2 L349.1,192.2 L349.9,192.3 L350.7,192.3 L351.5,192.4 L352.3,192.4 L353.1,192.4 L353.8,192.4 L354.6,192.4 L355.4,192.4 L356.2,192.4 L357.0,192.4 L357.8,192.4 L360.8,188.0" stroke="#000000" stroke-width="1.35"/>
<path d="M40.0,61.7 L40.8,61.2 L41.6,60.7 L42.4,60.2 L43.2,59.7 L44.0,59.2 L44.8,58.7 L45.6,58.2 L46.4,57.6 L47.2,57.1 L48.0,56.6 L48.8,56.1 L49.6,55.5 L50.4,55.0 L51.2,54.4 L51.9,53.8 L52.7,53.2 L53.5,52.7 L54.3,52.1 L55.1,51.6 L55.9,51.1 L56.7,50.7 L57.5,50.2 L58.3,49.9 L59.1,49.6 L59.9,49.3 L60.7,49.2 L61.5,49.1 L62.3,49.1 L63.1,49.2 L63.9,49.4 L64.7,49.6 L65.5,49.9 L66.3,50.3 L67.1,50.6 L67.9,51.0 L68.7,51.4 L69.5,51.9 L70.3,52.3 L71.1,52.9 L71.9,53.5 L72.7,54.2 L73.5,55.0 L74.3,56.0 L75.0,57.1 L75.8,58.3 L76.6,59.7 L77.4,61.1 L78.2,62.6 L79.0,64.2 L79.8,65.8 L80.6,67.3 L81.4,68.9 L82.2,70.4 L83.0,71.9 L83.8,73.4 L84.6,74.8 L85.4,76.3 L86.2,77.8 L87.0,79.3 L87.8,80.8 L88.6,82.3 L89.4,83.8 L90.2,85.4 L91.0,87.0 L91.8,88.6 L92.6,90.2 L93.4,91.9 L94.2,93.6 L95.0,95.3 L95.8,97.1 L96.6,99.0 L97.4,100.8 L98.1,102.8 L98.9,104.8 L99.7,106.8 L100.5,108.8 L101.3,110.8 L102.1,112.8 L102.9,114.8 L103.7,116.6 L104.5,118.4 L105.3,120.0 L106.1,121.6 L106.9,123.0 L107.7,124.4 L108.5,125.7 L109.3,126.9 L110.1,128.0 L110.9,129.0 L111.7,130.0 L112.5,131.0 L113.3,131.9 L114.1,132.8 L114.9,133.6 L115.7,134.4 L116.5,135.1 L117.3,135.9 L118.1,136.6 L118.9,137.2 L119.7,137.9 L120.5,138.5 L121.2,139.1 L122.0,139.7 L122.8,140.2 L123.6,140.8 L124.4,141.3 L125.2,141.8 L126.0,142.3 L126.8,142.8 L127.6,143.2 L128.4,143.7 L129.2,144.0 L130.0,144.4 L130.8,144.7 L131.6,145.0 L132.4,145.3 L133.2,145.5 L134.0,145.7 L134.8,145.8 L135.6,146.0 L136.4,146.1 L137.2,146.2 L138.0,146.2 L138.8,146.3 L139.6,146.3 L140.4,146.3 L141.2,146.3 L142.0,146.2 L142.8,146.2 L143.6,146.1 L144.4,146.0 L145.1,145.9 L145.9,145.8 L146.7,145.7 L147.5,145.5 L148.3,145.4 L149.1,145.2 L149.9,145.0 L150.7,144.8 L151.5,144.6 L152.3,144.4 L153.1,144.2 L153.9,143.9 L154.7,143.7 L155.5,143.4 L156.3,143.2 L157.1,142.9 L157.9,142.7 L158.7,142.4 L159.5,142.2 L160.3,141.9 L161.1,141.7 L161.9,141.4 L162.7,141.2 L163.5,141.0 L164.3,140.8 L165.1,140.7 L165.9,140.6 L166.7,140.5 L167.5,140.5 L168.2,140.5 L169.0,140.6 L169.8,140.7 L170.6,140.8 L171.4,141.0 L172.2,141.1 L173.0,141.4 L173.8,141.6 L174.6,141.9 L175.4,142.1 L176.2,142.5 L177.0,142.8 L177.8,143.1 L178.6,143.5 L179.4,143.8 L180.2,144.2 L181.0,144.6 L181.8,145.0 L182.6,145.4 L183.4,145.7 L184.2,146.1 L185.0,146.5 L185.8,146.8 L186.6,147.2 L187.4,147.5 L188.2,147.9 L189.0,148.2 L189.8,148.5 L190.6,148.9 L191.3,149.2 L192.1,149.5 L192.9,149.8 L193.7,150.1 L194.5,150.4 L195.3,150.7 L196.1,151.0 L196.9,151.3 L197.7,151.6 L198.5,151.9 L199.3,152.2 L200.1,152.5 L200.9,152.9 L201.7,153.2 L202.5,153.5 L203.3,153.8 L204.1,154.1 L204.9,154.4 L205.7,154.8 L206.5,155.1 L207.3,155.4 L208.1,155.7 L208.9,156.0 L209.7,156.4 L210.5,156.7 L211.3,157.0 L212.1,157.3 L212.9,157.6 L213.7,158.0 L214.4,158.3 L215.2,158.5 L216.0,158.8 L216.8,159.1 L217.6,159.4 L218.4,159.6 L219.2,159.8 L220.0,160.0 L220.8,160.2 L221.6,160.3 L222.4,160.5 L223.2,160.6 L224.0,160.7 L224.8,160.8 L225.6,160.9 L226.4,161.0 L227.2,161.1 L228.0,161.1 L228.8,161.2 L229.6,161.2 L230.4,161.3 L231.2,161.3 L232.0,161.4 L232.8,161.4 L233.6,161.4 L234.4,161.5 L235.2,161.5 L236.0,161.5 L236.8,161.6 L237.5,161.6 L238.3,161.7 L239.1,161.7 L239.9,161.8 L240.7,161.8 L241.5,161.9 L242.3,161.9 L243.1,162.0 L243.9,162.0 L244.7,162.1 L245.5,162.1 L246.3,162.2 L247.1,162.3 L247.9,162.3 L248.7,162.4 L249.5,162.5 L250.3,162.5 L251.1,162.6 L251.9,162.7 L252.7,162.7 L253.5,162.8 L254.3,162.9 L255.1,163.0 L255.9,163.0 L256.7,163.1 L257.5,163.2 L258.3,163.3 L259.1,163.3 L259.9,163.4 L260.6,163.5 L261.4,163.6 L262.2,163.7 L263.0,163.8 L263.8,163.9 L264.6,164.0 L265.4,164.1 L266.2,164.1 L267.0,164.2 L267.8,164.3 L268.6,164.4 L269.4,164.5 L270.2,164.6 L271.0,164.7 L271.8,164.8 L272.6,164.9 L273.4,165.1 L274.2,165.2 L275.0,165.3 L275.8,165.4 L276.6,165.5 L277.4,165.6 L278.2,165.7 L279.0,165.8 L279.8,166.0 L280.6,166.1 L281.4,166.2 L282.2,166.3 L283.0,166.5 L283.7,166.6 L284.5,166.8 L285.3,166.9 L286.1,167.1 L286.9,167.3 L287.7,167.5 L288.5,167.8 L289.3,168.1 L290.1,168.3 L290.9,168.7 L291.7,169.0 L292.5,169.4 L293.3,169.8 L294.1,170.2 L294.9,170.6 L295.7,171.1 L296.5,171.5 L297.3,171.9 L298.1,172.4 L298.9,172.8 L299.7,173.3 L300.5,173.7 L301.3,174.1 L302.1,174.5 L302.9,174.9 L303.7,175.3 L304.5,175.7 L305.3,176.1 L306.1,176.5 L306.9,176.8 L307.6,177.2 L308.4,177.5 L309.2,177.9 L310.0,178.2 L310.8,178.6 L311.6,178.9 L312.4,179.3 L313.2,179.6 L314.0,179.9 L314.8,180.3 L315.6,180.6 L316.4,180.9 L317.2,181.3 L318.0,181.6 L318.8,181.9 L319.6,182.3 L320.4,182.6 L321.2,183.0 L322.0,183.3 L322.8,183.6 L323.6,183.9 L324.4,184.3 L325.2,184.6 L326.0,184.9 L326.8,185.1 L327.6,185.4 L328.4,185.7 L329.2,186.0 L330.0,186.2 L330.7,186.5 L331.5,186.7 L332.3,186.9 L333.1,187.1 L333.9,187.3 L334.7,187.5 L335.5,187.7 L336.3,187.9 L337.1,188.1 L337.9,188.3 L338.7,188.4 L339.5,188.6 L340.3,188.7 L341.1,188.9 L341.9,189.0 L342.7,189.1 L343.5,189.2 L344.3,189.3 L345.1,189.4 L345.9,189.5 L346.7,189.6 L347.5,189.7 L348.3,189.8 L349.1,189.8 L349.9,189.9 L350.7,189.9 L351.5,190.0 L352.3,190.0 L353.1,190.1 L353.8,190.1 L354.6,190.2 L355.4,190.2 L356.2,190.2 L357.0,190.3 L357.8,190.3 L360.8,188.0" stroke="#ff5500" stroke-width="1.35"/>
<path d="M40.0,59.2 L40.8,58.7 L41.6,58.2 L42.4,57.7 L43.2,57.2 L44.0,56.7 L44.8,56.2 L45.6,55.7 L46.4,55.2 L47.2,54.7 L48.0,54.2 L48.8,53.7 L49.6,53.2 L50.4,52.7 L51.2,52.2 L51.9,51.7 L52.7,51.1 L53.5,50.6 L54.3,50.2 L55.1,49.7 L55.9,49.3 L56.7,48.9 L57.5,48.5 L58.3,48.1 L59.1,47.9 L59.9,47.6 L60.7,47.5 L61.5,47.3 L62.3,47.3 L63.1,47.3 L63.9,47.4 L64.7,47.5 L65.5,47.7 L66.3,48.0 L67.1,48.3 L67.9,48.6 L68.7,49.0 L69.5,49.5 L70.3,50.1 L71.1,50.7 L71.9,51.4 L72.7,52.3 L73.5,53.2 L74.3,54.2 L75.0,55.4 L75.8,56.7 L76.6,58.1 L77.4,59.5 L78.2,61.0 L79.0,62.6 L79.8,64.2 L80.6,65.7 L81.4,67.3 L82.2,68.9 L83.0,70.4 L83.8,71.9 L84.6,73.4 L85.4,74.8 L86.2,76.3 L87.0,77.8 L87.8,79.3 L88.6,80.8 L89.4,82.4 L90.2,83.9 L91.0,85.5 L91.8,87.2 L92.6,88.8 L93.4,90.5 L94.2,92.2 L95.0,93.9 L95.8,95.6 L96.6,97.4 L97.4,99.2 L98.1,101.0 L98.9,102.9 L99.7,104.8 L100.5,106.7 L101.3,108.6 L102.1,110.5 L102.9,112.5 L103.7,114.4 L104.5,116.4 L105.3,118.3 L106.1,120.3 L106.9,122.2 L107.7,124.2 L108.5,126.1 L109.3,128.0 L110.1,129.7 L110.9,131.4 L111.7,132.9 L112.5,134.2 L113.3,135.4 L114.1,136.4 L114.9,137.2 L115.7,137.9 L116.5,138.5 L117.3,139.1 L118.1,139.5 L118.9,139.9 L119.7,140.3 L120.5,140.7 L121.2,141.0 L122.0,141.4 L122.8,141.7 L123.6,141.9 L124.4,142.2 L125.2,142.4 L126.0,142.5 L126.8,142.6 L127.6,142.7 L128.4,142.7 L129.2,142.7 L130.0,142.7 L130.8,142.7 L131.6,142.6 L132.4,142.6 L133.2,142.5 L134.0,142.4 L134.8,142.3 L135.6,142.2 L136.4,142.0 L137.2,141.9 L138.0,141.8 L138.8,141.7 L139.6,141.6 L140.4,141.5 L141.2,141.4 L142.0,141.3 L142.8,141.2 L143.6,141.1 L144.4,141.1 L145.1,141.0 L145.9,140.9 L146.7,140.8 L147.5,140.8 L148.3,140.7 L149.1,140.6 L149.9,140.5 L150.7,140.4 L151.5,140.3 L152.3,140.2 L153.1,140.0 L153.9,139.9 L154.7,139.8 L155.5,139.7 L156.3,139.5 L157.1,139.4 L157.9,139.3 L158.7,139.2 L159.5,139.1 L160.3,139.0 L161.1,138.9 L161.9,138.8 L162.7,138.8 L163.5,138.7 L164.3,138.7 L165.1,138.7 L165.9,138.7 L166.7,138.8 L167.5,138.9 L168.2,139.0 L169.0,139.1 L169.8,139.3 L170.6,139.4 L171.4,139.6 L172.2,139.8 L173.0,140.0 L173.8,140.2 L174.6,140.5 L175.4,140.7 L176.2,141.0 L177.0,141.3 L177.8,141.6 L178.6,141.9 L179.4,142.2 L180.2,142.6 L181.0,143.0 L181.8,143.4 L182.6,143.8 L183.4,144.2 L184.2,144.6 L185.0,145.0 L185.8,145.4 L186.6,145.7 L187.4,146.1 L188.2,146.4 L189.0,146.7 L189.8,147.1 L190.6,147.4 L191.3,147.7 L192.1,148.0 L192.9,148.3 L193.7,148.6 L194.5,148.9 L195.3,149.2 L196.1,149.5 L196.9,149.8 L197.7,150.1 L198.5,150.4 L199.3,150.7 L200.1,151.0 L200.9,151.4 L201.7,151.7 L202.5,152.1 L203.3,152.4 L204.1,152.8 L204.9,153.2 L205.7,153.5 L206.5,153.9 L207.3,154.3 L208.1,154.6 L208.9,155.0 L209.7,155.4 L210.5,155.7 L211.3,156.1 L212.1,156.4 L212.9,156.8 L213.7,157.1 L214.4,157.4 L215.2,157.7 L216.0,158.0 L216.8,158.3 L217.6,158.6 L218.4,158.8 L219.2,159.0 L220.0,159.2 L220.8,159.4 L221.6,159.5 L222.4,159.7 L223.2,159.8 L224.0,159.9 L224.8,160.0 L225.6,160.0 L226.4,160.1 L227.2,160.1 L228.0,160.2 L228.8,160.2 L229.6,160.3 L230.4,160.3 L231.2,160.3 L232.0,160.4 L232.8,160.4 L233.6,160.4 L234.4,160.5 L235.2,160.5 L236.0,160.6 L236.8,160.6 L237.5,160.7 L238.3,160.8 L239.1,160.8 L239.9,160.9 L240.7,161.0 L241.5,161.1 L242.3,161.1 L243.1,161.2 L243.9,161.3 L244.7,161.4 L245.5,161.5 L246.3,161.6 L247.1,161.7 L247.9,161.8 L248.7,161.9 L249.5,161.9 L250.3,162.0 L251.1,162.1 L251.9,162.2 L252.7,162.3 L253.5,162.3 L254.3,162.4 L255.1,162.5 L255.9,162.6 L256.7,162.6 L257.5,162.7 L258.3,162.8 L259.1,162.9 L259.9,162.9 L260.6,163.0 L261.4,163.1 L262.2,163.2 L263.0,163.3 L263.8,163.4 L264.6,163.5 L265.4,163.6 L266.2,163.7 L267.0,163.8 L267.8,163.9 L268.6,164.0 L269.4,164.1 L270.2,164.2 L271.0,164.3 L271.8,164.5 L272.6,164.6 L273.4,164.7 L274.2,164.8 L275.0,165.0 L275.8,165.1 L276.6,165.2 L277.4,165.4 L278.2,165.5 L279.0,165.6 L279.8,165.8 L280.6,165.9 L281.4,166.0 L282.2,166.2 L283.0,166.3 L283.7,166.4 L284.5,166.6 L285.3,166.7 L286.1,166.9 L286.9,167.1 L287.7,167.3 L288.5,167.5 L289.3,167.8 L290.1,168.0 L290.9,168.3 L291.7,168.7 L292.5,169.0 L293.3,169.4 L294.1,169.8 L294.9,170.2 L295.7,170.6 L296.5,171.0 L297.3,171.4 L298.1,171.9 L298.9,172.3 L299.7,172.8 L300.5,173.2 L301.3,173.6 L302.1,174.0 L302.9,174.4 L303.7,174.8 L304.5,175.1 L305.3,175.5 L306.1,175.8 L306.9,176.2 L307.6,176.5 L308.4,176.8 L309.2,177.2 L310.0,177.5 L310.8,177.8 L311.6,178.1 L312.4,178.5 L313.2,178.8 L314.0,179.1 L314.8,179.5 L315.6,179.8 L316.4,180.1 L317.2,180.4 L318.0,180.7 L318.8,181.1 L319.6,181.4 L320.4,181.7 L321.2,182.0 L322.0,182.3 L322.8,182.7 L323.6,183.0 L324.4,183.3 L325.2,183.6 L326.0,183.9 L326.8,184.1 L327.6,184.4 L328.4,184.7 L329.2,184.9 L330.0,185.2 L330.7,185.4 L331.5,185.7 L332.3,185.9 L333.1,186.1 L333.9,186.3 L334.7,186.5 L335.5,186.7 L336.3,186.9 L337.1,187.1 L337.9,187.2 L338.7,187.4 L339.5,187.5 L340.3,187.7 L341.1,187.8 L341.9,187.9 L342.7,188.0 L343.5,188.1 L344.3,188.2 L345.1,188.3 L345.9,188.3 L346.7,188.4 L347.5,188.5 L348.3,188.5 L349.1,188.6 L349.9,188.6 L350.7,188.6 L351.5,188.7 L352.3,188.7 L353.1,188.7 L353.8,188.7 L354.6,188.8 L355.4,188.8 L356.2,188.8 L357.0,188.8 L357.8,188.8 L360.8,188.0" stroke="#858585" stroke-width="1.35"/>
<path d="M40.0,56.8 L40.8,56.1 L41.6,55.4 L42.4,54.8 L43.2,54.1 L44.0,53.5 L44.8,52.8 L45.6,52.2 L46.4,51.6 L47.2,51.0 L48.0,50.4 L48.8,49.8 L49.6,49.3 L50.4,48.7 L51.2,48.2 L52.0,47.8 L52.8,47.3 L53.6,46.8 L54.4,46.4 L55.2,46.1 L56.0,45.7 L56.8,45.4 L57.6,45.1 L58.4,44.9 L59.2,44.7 L60.0,44.6 L60.8,44.5 L61.6,44.5 L62.4,44.5 L63.2,44.6 L64.0,44.8 L64.8,45.0 L65.6,45.2 L66.4,45.5 L67.2,45.8 L68.0,46.1 L68.8,46.5 L69.6,46.8 L70.4,47.3 L71.2,47.8 L72.0,48.3 L72.8,49.0 L73.6,49.7 L74.4,50.5 L75.2,51.4 L76.0,52.5 L76.8,53.7 L77.6,55.0 L78.4,56.4 L79.2,57.9 L80.0,59.5 L80.8,61.2 L81.6,63.0 L82.4,64.9 L83.2,66.9 L84.0,68.8 L84.8,70.6 L85.6,72.2 L86.4,73.8 L87.2,75.3 L88.0,76.9 L88.8,78.4 L89.6,80.0 L90.4,81.6 L91.2,83.2 L92.0,84.9 L92.8,86.5 L93.5,88.1 L94.3,89.8 L95.1,91.5 L95.9,93.2 L96.7,94.9 L97.5,96.7 L98.3,98.5 L99.1,100.3 L99.9,102.3 L100.7,104.2 L101.5,106.2 L102.3,108.3 L103.1,110.3 L103.9,112.4 L104.7,114.4 L105.5,116.4 L106.3,118.4 L107.1,120.3 L107.9,122.2 L108.7,124.1 L109.5,125.8 L110.3,127.5 L111.1,129.2 L111.9,130.7 L112.7,132.1 L113.5,133.3 L114.3,134.4 L115.1,135.4 L115.9,136.3 L116.7,137.1 L117.5,137.8 L118.3,138.4 L119.1,139.0 L119.9,139.5 L120.7,139.9 L121.5,140.3 L122.3,140.7 L123.1,141.0 L123.9,141.3 L124.7,141.6 L125.5,141.9 L126.3,142.1 L127.1,142.3 L127.9,142.4 L128.7,142.6 L129.5,142.7 L130.3,142.8 L131.1,142.9 L131.9,142.9 L132.7,143.0 L133.5,143.0 L134.3,143.0 L135.1,143.0 L135.9,143.1 L136.7,143.1 L137.5,143.0 L138.3,143.0 L139.1,143.0 L139.9,143.0 L140.7,143.0 L141.5,143.0 L142.3,142.9 L143.1,142.9 L143.9,142.9 L144.7,142.9 L145.5,142.9 L146.3,142.9 L147.1,142.8 L147.9,142.8 L148.7,142.8 L149.5,142.8 L150.3,142.8 L151.1,142.8 L151.9,142.8 L152.7,142.8 L153.5,142.8 L154.3,142.8 L155.1,142.8 L155.9,142.8 L156.7,142.9 L157.5,142.9 L158.3,142.9 L159.1,143.0 L159.9,143.0 L160.7,143.0 L161.5,143.1 L162.3,143.2 L163.1,143.3 L163.9,143.3 L164.7,143.5 L165.5,143.6 L166.3,143.7 L167.1,143.9 L167.9,144.0 L168.7,144.2 L169.5,144.4 L170.3,144.6 L171.1,144.8 L171.9,145.0 L172.7,145.3 L173.5,145.5 L174.3,145.8 L175.1,146.0 L175.9,146.3 L176.7,146.6 L177.5,146.9 L178.3,147.1 L179.1,147.4 L179.9,147.8 L180.7,148.1 L181.5,148.4 L182.3,148.7 L183.1,149.0 L183.9,149.3 L184.7,149.7 L185.5,150.0 L186.3,150.3 L187.1,150.6 L187.9,151.0 L188.7,151.3 L189.5,151.6 L190.3,151.9 L191.1,152.3 L191.9,152.6 L192.7,152.9 L193.5,153.2 L194.3,153.5 L195.1,153.8 L195.9,154.1 L196.7,154.4 L197.5,154.7 L198.3,155.0 L199.1,155.3 L199.8,155.6 L200.6,155.8 L201.4,156.1 L202.2,156.3 L203.0,156.6 L203.8,156.8 L204.6,157.0 L205.4,157.3 L206.2,157.5 L207.0,157.7 L207.8,157.9 L208.6,158.1 L209.4,158.4 L210.2,158.6 L211.0,158.8 L211.8,159.0 L212.6,159.2 L213.4,159.4 L214.2,159.6 L215.0,159.8 L215.8,160.0 L216.6,160.1 L217.4,160.3 L218.2,160.4 L219.0,160.5 L219.8,160.6 L220.6,160.6 L221.4,160.7 L222.2,160.7 L223.0,160.7 L223.8,160.7 L224.6,160.7 L225.4,160.6 L226.2,160.6 L227.0,160.5 L227.8,160.4 L228.6,160.4 L229.4,160.3 L230.2,160.2 L231.0,160.1 L231.8,160.1 L232.6,160.0 L233.4,159.9 L234.2,159.9 L235.0,159.8 L235.8,159.7 L236.6,159.7 L237.4,159.7 L238.2,159.6 L239.0,159.6 L239.8,159.6 L240.6,159.6 L241.4,159.5 L242.2,159.5 L243.0,159.5 L243.8,159.5 L244.6,159.5 L245.4,159.5 L246.2,159.5 L247.0,159.5 L247.8,159.5 L248.6,159.5 L249.4,159.5 L250.2,159.5 L251.0,159.5 L251.8,159.5 L252.6,159.5 L253.4,159.5 L254.2,159.5 L255.0,159.5 L255.8,159.5 L256.6,159.5 L257.4,159.5 L258.2,159.4 L259.0,159.4 L259.8,159.4 L260.6,159.4 L261.4,159.4 L262.2,159.5 L263.0,159.5 L263.8,159.5 L264.6,159.6 L265.4,159.7 L266.2,159.8 L267.0,159.9 L267.8,160.1 L268.6,160.2 L269.4,160.4 L270.2,160.6 L271.0,160.8 L271.8,161.0 L272.6,161.3 L273.4,161.5 L274.2,161.8 L275.0,162.0 L275.8,162.2 L276.6,162.5 L277.4,162.7 L278.2,163.0 L279.0,163.2 L279.8,163.5 L280.6,163.8 L281.4,164.0 L282.2,164.3 L283.0,164.6 L283.8,164.9 L284.6,165.2 L285.4,165.5 L286.2,165.8 L287.0,166.1 L287.8,166.5 L288.6,166.8 L289.4,167.2 L290.2,167.6 L291.0,168.0 L291.8,168.4 L292.6,168.8 L293.4,169.2 L294.2,169.7 L295.0,170.1 L295.8,170.6 L296.6,171.0 L297.4,171.5 L298.2,172.0 L299.0,172.4 L299.8,172.9 L300.6,173.4 L301.4,173.8 L302.2,174.3 L303.0,174.8 L303.8,175.2 L304.6,175.7 L305.4,176.1 L306.1,176.6 L306.9,177.0 L307.7,177.4 L308.5,177.8 L309.3,178.2 L310.1,178.6 L310.9,178.9 L311.7,179.3 L312.5,179.6 L313.3,179.9 L314.1,180.2 L314.9,180.5 L315.7,180.8 L316.5,181.1 L317.3,181.3 L318.1,181.6 L318.9,181.8 L319.7,182.1 L320.5,182.3 L321.3,182.5 L322.1,182.8 L322.9,183.0 L323.7,183.2 L324.5,183.4 L325.3,183.6 L326.1,183.8 L326.9,184.0 L327.7,184.2 L328.5,184.4 L329.3,184.6 L330.1,184.7 L330.9,184.9 L331.7,185.1 L332.5,185.3 L333.3,185.4 L334.1,185.6 L334.9,185.7 L335.7,185.9 L336.5,186.0 L337.3,186.1 L338.1,186.3 L338.9,186.4 L339.7,186.5 L340.5,186.6 L341.3,186.6 L342.1,186.7 L342.9,186.8 L343.7,186.9 L344.5,186.9 L345.3,187.0 L346.1,187.0 L346.9,187.1 L347.7,187.1 L348.5,187.2 L349.3,187.2 L350.1,187.2 L350.9,187.3 L351.7,187.3 L352.5,187.3 L353.3,187.3 L354.1,187.3 L354.9,187.4 L355.7,187.4 L356.5,187.4 L357.3,187.4 L358.1,187.4 L358.9,187.4 L360.8,188.0" stroke="#ff0000" stroke-width="1.35"/>
<path d="M39.8,55.2h4.2M41.9,53.1v4.2M42.1,53.3h4.2M44.2,51.2v4.2M44.4,51.5h4.2M46.5,49.4v4.2M46.7,49.8h4.2M48.8,47.7v4.2M49.0,48.3h4.2M51.1,46.2v4.2M51.3,46.9h4.2M53.4,44.8v4.2M53.6,45.8h4.2M55.7,43.7v4.2M55.9,45.0h4.2M58.0,42.9v4.2M58.2,44.6h4.2M60.3,42.5v4.2M60.5,44.5h4.2M62.6,42.4v4.2M62.8,45.0h4.2M64.9,42.9v4.2M65.2,45.8h4.2M67.3,43.7v4.2M67.6,46.9h4.2M69.7,44.8v4.2M70.1,48.5h4.2M72.2,46.4v4.2M72.6,50.9h4.2M74.7,48.8v4.2M75.2,54.6h4.2M77.3,52.5v4.2M77.9,59.5h4.2M80.0,57.4v4.2M80.6,65.8h4.2M82.7,63.7v4.2M83.4,72.1h4.2M85.5,70.0v4.2M86.2,77.6h4.2M88.3,75.5v4.2M89.2,83.5h4.2M91.3,81.4v4.2M92.2,89.6h4.2M94.3,87.5v4.2" stroke="#ff0000" stroke-width="0.8"/>
<path d="M95.2,96.1h4.2M97.3,94.0v4.2M98.3,103.5h4.2M100.4,101.4v4.2M101.5,111.6h4.2M103.6,109.5v4.2M104.8,119.8h4.2M106.9,117.7v4.2M108.2,127.4h4.2M110.3,125.3v4.2M111.6,133.6h4.2M113.7,131.5v4.2M115.1,137.6h4.2M117.2,135.5v4.2M118.7,140.0h4.2M120.8,137.9v4.2M122.4,141.6h4.2M124.5,139.5v4.2" stroke="#ff0000" stroke-width="0.95"/>
<path d="M126.2,142.5h4.2M128.3,140.4v4.2M130.0,143.0h4.2M132.1,140.9v4.2M134.0,143.1h4.2M136.1,141.0v4.2M138.0,143.0h4.2M140.1,140.9v4.2M142.2,142.9h4.2M144.3,140.8v4.2M146.4,142.8h4.2M148.5,140.7v4.2M150.7,142.8h4.2M152.8,140.7v4.2M155.1,142.9h4.2M157.2,140.8v4.2M159.5,143.1h4.2M161.6,141.0v4.2M163.9,143.7h4.2M166.0,141.6v4.2M168.3,144.6h4.2M170.4,142.5v4.2M172.7,145.9h4.2M174.8,143.8v4.2M177.2,147.5h4.2M179.3,145.4v4.2M181.6,149.3h4.2M183.7,147.2v4.2M186.1,151.1h4.2M188.2,149.0v4.2M190.5,152.9h4.2M192.6,150.8v4.2M195.0,154.6h4.2M197.1,152.5v4.2M199.5,156.1h4.2M201.6,154.0v4.2M204.0,157.4h4.2M206.1,155.3v4.2M208.5,158.7h4.2M210.6,156.6v4.2M213.0,159.8h4.2M215.1,157.7v4.2M217.5,160.6h4.2M219.6,158.5v4.2M222.1,160.7h4.2M224.2,158.6v4.2M226.6,160.4h4.2M228.7,158.3v4.2M231.2,159.9h4.2M233.3,157.8v4.2M235.8,159.6h4.2M237.9,157.5v4.2M240.4,159.5h4.2M242.5,157.4v4.2M245.0,159.5h4.2M247.1,157.4v4.2M249.6,159.5h4.2M251.7,157.4v4.2M254.2,159.5h4.2M256.3,157.4v4.2M258.9,159.4h4.2M261.0,157.3v4.2M263.5,159.7h4.2M265.6,157.6v4.2M268.2,160.6h4.2M270.3,158.5v4.2M272.8,162.0h4.2M274.9,159.9v4.2M277.5,163.4h4.2M279.6,161.3v4.2M282.2,165.1h4.2M284.3,163.0v4.2M286.9,167.0h4.2M289.0,164.9v4.2M291.6,169.4h4.2M293.7,167.3v4.2M296.4,172.1h4.2M298.5,170.0v4.2M301.1,174.9h4.2M303.2,172.8v4.2M305.9,177.5h4.2M308.0,175.4v4.2M310.6,179.7h4.2M312.7,177.6v4.2M315.4,181.4h4.2M317.5,179.3v4.2M320.2,182.8h4.2M322.3,180.7v4.2M325.0,184.0h4.2M327.1,181.9v4.2M329.8,185.1h4.2M331.9,183.0v4.2M334.6,186.0h4.2M336.7,183.9v4.2M339.5,186.7h4.2M341.6,184.6v4.2M344.3,187.1h4.2M346.4,185.0v4.2M349.2,187.3h4.2M351.3,185.2v4.2M354.0,187.4h4.2M356.1,185.3v4.2" stroke="#ff0000" stroke-width="1.15"/>
<path d="M40.0,55.6 L40.8,54.9 L41.6,54.2 L42.4,53.5 L43.2,52.9 L44.0,52.2 L44.8,51.5 L45.6,50.9 L46.4,50.2 L47.2,49.6 L48.0,49.0 L48.8,48.4 L49.6,47.9 L50.4,47.3 L51.2,46.8 L52.0,46.3 L52.8,45.8 L53.6,45.4 L54.4,44.9 L55.2,44.5 L56.0,44.2 L56.8,43.8 L57.6,43.5 L58.4,43.3 L59.2,43.1 L60.0,42.9 L60.8,42.8 L61.6,42.8 L62.4,42.8 L63.2,42.9 L64.0,43.0 L64.8,43.2 L65.6,43.5 L66.4,43.7 L67.2,44.0 L68.0,44.4 L68.8,44.8 L69.6,45.2 L70.4,45.7 L71.2,46.2 L72.0,46.8 L72.8,47.5 L73.6,48.3 L74.4,49.1 L75.2,50.1 L76.0,51.2 L76.8,52.3 L77.6,53.6 L78.4,55.0 L79.2,56.4 L80.0,58.0 L80.8,59.7 L81.6,61.4 L82.4,63.3 L83.2,65.2 L84.0,67.1 L84.8,69.0 L85.6,70.8 L86.4,72.4 L87.2,73.9 L88.0,75.5 L88.8,77.1 L89.6,78.7 L90.4,80.3 L91.2,81.9 L92.0,83.6 L92.8,85.2 L93.5,86.9 L94.3,88.6 L95.1,90.3 L95.9,92.0 L96.7,93.7 L97.5,95.5 L98.3,97.3 L99.1,99.2 L99.9,101.1 L100.7,103.0 L101.5,105.0 L102.3,107.1 L103.1,109.1 L103.9,111.2 L104.7,113.2 L105.5,115.3 L106.3,117.2 L107.1,119.1 L107.9,121.0 L108.7,122.8 L109.5,124.5 L110.3,126.2 L111.1,127.8 L111.9,129.2 L112.7,130.5 L113.5,131.7 L114.3,132.8 L115.1,133.7 L115.9,134.5 L116.7,135.1 L117.5,135.7 L118.3,136.2 L119.1,136.6 L119.9,137.0 L120.7,137.3 L121.5,137.6 L122.3,137.8 L123.1,138.0 L123.9,138.3 L124.7,138.5 L125.5,138.8 L126.3,139.1 L127.1,139.3 L127.9,139.6 L128.7,140.0 L129.5,140.3 L130.3,140.6 L131.1,140.9 L131.9,141.2 L132.7,141.4 L133.5,141.6 L134.3,141.9 L135.1,142.1 L135.9,142.2 L136.7,142.4 L137.5,142.5 L138.3,142.6 L139.1,142.7 L139.9,142.8 L140.7,142.8 L141.5,142.8 L142.3,142.8 L143.1,142.8 L143.9,142.8 L144.7,142.7 L145.5,142.7 L146.3,142.6 L147.1,142.6 L147.9,142.5 L148.7,142.4 L149.5,142.3 L150.3,142.3 L151.1,142.2 L151.9,142.1 L152.7,142.1 L153.5,142.0 L154.3,141.9 L155.1,141.9 L155.9,141.8 L156.7,141.7 L157.5,141.7 L158.3,141.6 L159.1,141.6 L159.9,141.5 L160.7,141.5 L161.5,141.4 L162.3,141.4 L163.1,141.3 L163.9,141.3 L164.7,141.4 L165.5,141.4 L166.3,141.6 L167.1,141.7 L167.9,141.9 L168.7,142.2 L169.5,142.4 L170.3,142.7 L171.1,143.1 L171.9,143.4 L172.7,143.8 L173.5,144.3 L174.3,144.7 L175.1,145.2 L175.9,145.7 L176.7,146.2 L177.5,146.7 L178.3,147.2 L179.1,147.8 L179.9,148.3 L180.7,148.8 L181.5,149.4 L182.3,149.9 L183.1,150.4 L183.9,150.9 L184.7,151.3 L185.5,151.7 L186.3,152.2 L187.1,152.6 L187.9,152.9 L188.7,153.3 L189.5,153.6 L190.3,153.9 L191.1,154.3 L191.9,154.6 L192.7,154.9 L193.5,155.2 L194.3,155.4 L195.1,155.7 L195.9,156.0 L196.7,156.3 L197.5,156.6 L198.3,156.9 L199.1,157.1 L199.8,157.4 L200.6,157.8 L201.4,158.1 L202.2,158.4 L203.0,158.7 L203.8,159.1 L204.6,159.4 L205.4,159.7 L206.2,160.1 L207.0,160.4 L207.8,160.7 L208.6,161.1 L209.4,161.4 L210.2,161.7 L211.0,162.0 L211.8,162.3 L212.6,162.6 L213.4,162.8 L214.2,163.1 L215.0,163.3 L215.8,163.5 L216.6,163.7 L217.4,163.9 L218.2,164.1 L219.0,164.3 L219.8,164.4 L220.6,164.5 L221.4,164.7 L222.2,164.8 L223.0,164.8 L223.8,164.9 L224.6,165.0 L225.4,165.0 L226.2,165.1 L227.0,165.1 L227.8,165.1 L228.6,165.1 L229.4,165.1 L230.2,165.1 L231.0,165.1 L231.8,165.1 L232.6,165.1 L233.4,165.0 L234.2,165.0 L235.0,165.0 L235.8,165.0 L236.6,165.0 L237.4,164.9 L238.2,164.9 L239.0,164.9 L239.8,164.9 L240.6,164.8 L241.4,164.8 L242.2,164.8 L243.0,164.8 L243.8,164.7 L244.6,164.7 L245.4,164.7 L246.2,164.6 L247.0,164.6 L247.8,164.5 L248.6,164.5 L249.4,164.4 L250.2,164.4 L251.0,164.3 L251.8,164.3 L252.6,164.2 L253.4,164.1 L254.2,164.1 L255.0,164.0 L255.8,163.9 L256.6,163.8 L257.4,163.7 L258.2,163.6 L259.0,163.5 L259.8,163.4 L260.6,163.4 L261.4,163.3 L262.2,163.2 L263.0,163.1 L263.8,163.1 L264.6,163.0 L265.4,163.0 L266.2,163.0 L267.0,163.0 L267.8,163.0 L268.6,163.0 L269.4,163.0 L270.2,163.1 L271.0,163.1 L271.8,163.2 L272.6,163.3 L273.4,163.3 L274.2,163.4 L275.0,163.5 L275.8,163.6 L276.6,163.7 L277.4,163.8 L278.2,163.9 L279.0,164.1 L279.8,164.2 L280.6,164.4 L281.4,164.5 L282.2,164.7 L283.0,164.9 L283.8,165.1 L284.6,165.3 L285.4,165.5 L286.2,165.7 L287.0,166.0 L287.8,166.2 L288.6,166.5 L289.4,166.8 L290.2,167.1 L291.0,167.4 L291.8,167.7 L292.6,168.0 L293.4,168.4 L294.2,168.7 L295.0,169.1 L295.8,169.5 L296.6,169.9 L297.4,170.3 L298.2,170.7 L299.0,171.1 L299.8,171.5 L300.6,171.9 L301.4,172.3 L302.2,172.7 L303.0,173.1 L303.8,173.6 L304.6,174.0 L305.4,174.4 L306.1,174.7 L306.9,175.1 L307.7,175.5 L308.5,175.9 L309.3,176.2 L310.1,176.6 L310.9,176.9 L311.7,177.2 L312.5,177.5 L313.3,177.8 L314.1,178.1 L314.9,178.4 L315.7,178.6 L316.5,178.9 L317.3,179.1 L318.1,179.4 L318.9,179.6 L319.7,179.8 L320.5,180.0 L321.3,180.2 L322.1,180.4 L322.9,180.6 L323.7,180.8 L324.5,180.9 L325.3,181.1 L326.1,181.2 L326.9,181.3 L327.7,181.4 L328.5,181.6 L329.3,181.7 L330.1,181.8 L330.9,181.9 L331.7,182.0 L332.5,182.0 L333.3,182.1 L334.1,182.2 L334.9,182.2 L335.7,182.3 L336.5,182.4 L337.3,182.4 L338.1,182.4 L338.9,182.5 L339.7,182.5 L340.5,182.5 L341.3,182.5 L342.1,182.5 L342.9,182.6 L343.7,182.6 L344.5,182.6 L345.3,182.6 L346.1,182.6 L346.9,182.6 L347.7,182.6 L348.5,182.6 L349.3,182.5 L350.1,182.5 L350.9,182.5 L351.7,182.5 L352.5,182.5 L353.3,182.5 L354.1,182.4 L354.9,182.4 L355.7,182.4 L356.5,182.4 L357.3,182.4 L358.1,182.3 L358.9,182.3 L360.8,188.0" stroke="#00ff00" stroke-width="1.35"/>
<path d="M39.8,54.0h4.2M41.9,51.9v4.2M42.1,52.0h4.2M44.2,49.9v4.2M44.4,50.2h4.2M46.5,48.1v4.2M46.7,48.4h4.2M48.8,46.3v4.2M49.0,46.9h4.2M51.1,44.8v4.2M51.3,45.5h4.2M53.4,43.4v4.2M53.6,44.3h4.2M55.7,42.2v4.2M55.9,43.4h4.2M58.0,41.3v4.2M58.2,42.9h4.2M60.3,40.8v4.2M60.5,42.8h4.2M62.6,40.7v4.2M62.8,43.3h4.2M64.9,41.2v4.2M65.2,44.1h4.2M67.3,42.0v4.2M67.6,45.3h4.2M69.7,43.2v4.2M70.1,47.0h4.2M72.2,44.9v4.2M72.6,49.5h4.2M74.7,47.4v4.2M75.2,53.2h4.2M77.3,51.1v4.2M77.9,58.0h4.2M80.0,55.9v4.2M80.6,64.1h4.2M82.7,62.0v4.2M83.4,70.6h4.2M85.5,68.5v4.2M86.2,76.3h4.2M88.3,74.2v4.2M89.2,82.2h4.2M91.3,80.1v4.2M92.2,88.4h4.2M94.3,86.3v4.2" stroke="#00ff00" stroke-width="0.8"/>
<path d="M95.2,95.0h4.2M97.3,92.9v4.2M98.3,102.3h4.2M100.4,100.2v4.2M101.5,110.4h4.2M103.6,108.3v4.2M104.8,118.6h4.2M106.9,116.5v4.2M108.2,126.1h4.2M110.3,124.0v4.2M111.6,132.0h4.2M113.7,129.9v4.2M115.1,135.5h4.2M117.2,133.4v4.2M118.7,137.3h4.2M120.8,135.2v4.2M122.4,138.5h4.2M124.5,136.4v4.2" stroke="#00ff00" stroke-width="0.95"/>
<path d="M126.2,139.8h4.2M128.3,137.7v4.2M130.0,141.2h4.2M132.1,139.1v4.2M134.0,142.3h4.2M136.1,140.2v4.2M138.0,142.8h4.2M140.1,140.7v4.2M142.2,142.8h4.2M144.3,140.7v4.2M146.4,142.4h4.2M148.5,140.3v4.2M150.7,142.1h4.2M152.8,140.0v4.2M155.1,141.7h4.2M157.2,139.6v4.2M159.5,141.4h4.2M161.6,139.3v4.2M163.9,141.5h4.2M166.0,139.4v4.2M168.3,142.8h4.2M170.4,140.7v4.2M172.7,145.0h4.2M174.8,142.9v4.2M177.2,147.9h4.2M179.3,145.8v4.2M181.6,150.8h4.2M183.7,148.7v4.2M186.1,153.1h4.2M188.2,151.0v4.2M190.5,154.8h4.2M192.6,152.7v4.2M195.0,156.4h4.2M197.1,154.3v4.2M199.5,158.1h4.2M201.6,156.0v4.2M204.0,160.0h4.2M206.1,157.9v4.2M208.5,161.8h4.2M210.6,159.7v4.2M213.0,163.3h4.2M215.1,161.2v4.2M217.5,164.4h4.2M219.6,162.3v4.2M222.1,164.9h4.2M224.2,162.8v4.2M226.6,165.1h4.2M228.7,163.0v4.2M231.2,165.0h4.2M233.3,162.9v4.2M235.8,164.9h4.2M237.9,162.8v4.2M240.4,164.8h4.2M242.5,162.7v4.2M245.0,164.6h4.2M247.1,162.5v4.2M249.6,164.3h4.2M251.7,162.2v4.2M254.2,163.8h4.2M256.3,161.7v4.2M258.9,163.3h4.2M261.0,161.2v4.2M263.5,163.0h4.2M265.6,160.9v4.2M268.2,163.1h4.2M270.3,161.0v4.2M272.8,163.5h4.2M274.9,161.4v4.2M277.5,164.2h4.2M279.6,162.1v4.2M282.2,165.2h4.2M284.3,163.1v4.2M286.9,166.6h4.2M289.0,164.5v4.2M291.6,168.5h4.2M293.7,166.4v4.2M296.4,170.8h4.2M298.5,168.7v4.2M301.1,173.3h4.2M303.2,171.2v4.2M305.9,175.6h4.2M308.0,173.5v4.2M310.6,177.6h4.2M312.7,175.5v4.2M315.4,179.2h4.2M317.5,177.1v4.2M320.2,180.5h4.2M322.3,178.4v4.2M325.0,181.3h4.2M327.1,179.2v4.2M329.8,182.0h4.2M331.9,179.9v4.2M334.6,182.4h4.2M336.7,180.3v4.2M339.5,182.5h4.2M341.6,180.4v4.2M344.3,182.6h4.2M346.4,180.5v4.2M349.2,182.5h4.2M351.3,180.4v4.2M354.0,182.4h4.2M356.1,180.3v4.2" stroke="#00ff00" stroke-width="1.15"/>
<path d="M40.0,54.6 L40.8,53.9 L41.6,53.2 L42.4,52.5 L43.2,51.8 L44.0,51.1 L44.8,50.4 L45.6,49.8 L46.4,49.1 L47.2,48.5 L48.0,47.8 L48.8,47.2 L49.6,46.6 L50.4,46.0 L51.2,45.4 L52.0,44.9 L52.8,44.3 L53.6,43.8 L54.4,43.3 L55.2,42.9 L56.0,42.5 L56.8,42.1 L57.6,41.7 L58.4,41.4 L59.2,41.2 L60.0,41.0 L60.8,40.9 L61.6,40.8 L62.4,40.8 L63.2,40.9 L64.0,41.0 L64.8,41.2 L65.6,41.5 L66.4,41.8 L67.2,42.1 L68.0,42.6 L68.8,43.1 L69.6,43.6 L70.4,44.2 L71.2,44.9 L72.0,45.7 L72.8,46.5 L73.6,47.4 L74.4,48.3 L75.2,49.3 L76.0,50.3 L76.8,51.5 L77.6,52.7 L78.4,54.0 L79.2,55.4 L80.0,56.9 L80.8,58.4 L81.6,60.1 L82.4,61.9 L83.2,63.7 L84.0,65.7 L84.8,67.6 L85.6,69.5 L86.4,71.2 L87.2,72.8 L88.0,74.3 L88.8,75.9 L89.6,77.5 L90.4,79.1 L91.2,80.7 L92.0,82.3 L92.8,84.0 L93.5,85.6 L94.3,87.3 L95.1,89.0 L95.9,90.7 L96.7,92.5 L97.5,94.3 L98.3,96.1 L99.1,98.0 L99.9,99.9 L100.7,101.8 L101.5,103.8 L102.3,105.9 L103.1,107.9 L103.9,110.0 L104.7,112.1 L105.5,114.1 L106.3,116.1 L107.1,118.0 L107.9,119.9 L108.7,121.6 L109.5,123.3 L110.3,125.0 L111.1,126.5 L111.9,127.9 L112.7,129.3 L113.5,130.5 L114.3,131.7 L115.1,132.7 L115.9,133.5 L116.7,134.3 L117.5,135.0 L118.3,135.6 L119.1,136.2 L119.9,136.7 L120.7,137.1 L121.5,137.5 L122.3,137.9 L123.1,138.3 L123.9,138.6 L124.7,139.0 L125.5,139.3 L126.3,139.6 L127.1,140.0 L127.9,140.4 L128.7,140.7 L129.5,141.1 L130.3,141.5 L131.1,141.8 L131.9,142.1 L132.7,142.4 L133.5,142.7 L134.3,142.9 L135.1,143.1 L135.9,143.3 L136.7,143.4 L137.5,143.6 L138.3,143.7 L139.1,143.8 L139.9,143.9 L140.7,144.0 L141.5,144.1 L142.3,144.2 L143.1,144.3 L143.9,144.4 L144.7,144.5 L145.5,144.6 L146.3,144.7 L147.1,144.7 L147.9,144.8 L148.7,144.9 L149.5,145.0 L150.3,145.0 L151.1,145.1 L151.9,145.1 L152.7,145.2 L153.5,145.3 L154.3,145.3 L155.1,145.4 L155.9,145.4 L156.7,145.4 L157.5,145.5 L158.3,145.5 L159.1,145.5 L159.9,145.5 L160.7,145.5 L161.5,145.5 L162.3,145.5 L163.1,145.5 L163.9,145.5 L164.7,145.6 L165.5,145.6 L166.3,145.8 L167.1,145.9 L167.9,146.1 L168.7,146.3 L169.5,146.5 L170.3,146.8 L171.1,147.1 L171.9,147.4 L172.7,147.8 L173.5,148.2 L174.3,148.6 L175.1,149.0 L175.9,149.5 L176.7,150.0 L177.5,150.4 L178.3,150.9 L179.1,151.4 L179.9,151.9 L180.7,152.5 L181.5,152.9 L182.3,153.4 L183.1,153.9 L183.9,154.4 L184.7,154.8 L185.5,155.2 L186.3,155.6 L187.1,156.0 L187.9,156.4 L188.7,156.8 L189.5,157.1 L190.3,157.4 L191.1,157.7 L191.9,158.0 L192.7,158.3 L193.5,158.6 L194.3,158.9 L195.1,159.1 L195.9,159.4 L196.7,159.6 L197.5,159.8 L198.3,160.0 L199.1,160.3 L199.8,160.5 L200.6,160.7 L201.4,160.9 L202.2,161.0 L203.0,161.2 L203.8,161.4 L204.6,161.6 L205.4,161.7 L206.2,161.9 L207.0,162.1 L207.8,162.2 L208.6,162.4 L209.4,162.5 L210.2,162.7 L211.0,162.8 L211.8,162.9 L212.6,163.1 L213.4,163.2 L214.2,163.3 L215.0,163.4 L215.8,163.5 L216.6,163.6 L217.4,163.7 L218.2,163.8 L219.0,163.9 L219.8,164.0 L220.6,164.1 L221.4,164.1 L222.2,164.2 L223.0,164.3 L223.8,164.3 L224.6,164.4 L225.4,164.4 L226.2,164.5 L227.0,164.5 L227.8,164.6 L228.6,164.6 L229.4,164.6 L230.2,164.7 L231.0,164.7 L231.8,164.7 L232.6,164.7 L233.4,164.7 L234.2,164.7 L235.0,164.7 L235.8,164.7 L236.6,164.7 L237.4,164.7 L238.2,164.6 L239.0,164.6 L239.8,164.6 L240.6,164.5 L241.4,164.5 L242.2,164.4 L243.0,164.4 L243.8,164.3 L244.6,164.3 L245.4,164.2 L246.2,164.2 L247.0,164.1 L247.8,164.0 L248.6,164.0 L249.4,163.9 L250.2,163.9 L251.0,163.8 L251.8,163.7 L252.6,163.7 L253.4,163.6 L254.2,163.5 L255.0,163.5 L255.8,163.4 L256.6,163.4 L257.4,163.3 L258.2,163.3 L259.0,163.2 L259.8,163.2 L260.6,163.1 L261.4,163.1 L262.2,163.1 L263.0,163.0 L263.8,163.0 L264.6,163.0 L265.4,163.0 L266.2,163.0 L267.0,163.0 L267.8,163.0 L268.6,163.1 L269.4,163.1 L270.2,163.2 L271.0,163.2 L271.8,163.3 L272.6,163.3 L273.4,163.4 L274.2,163.4 L275.0,163.5 L275.8,163.6 L276.6,163.6 L277.4,163.7 L278.2,163.8 L279.0,163.9 L279.8,164.0 L280.6,164.1 L281.4,164.2 L282.2,164.3 L283.0,164.4 L283.8,164.6 L284.6,164.7 L285.4,164.9 L286.2,165.0 L287.0,165.2 L287.8,165.4 L288.6,165.6 L289.4,165.8 L290.2,166.0 L291.0,166.3 L291.8,166.6 L292.6,166.8 L293.4,167.1 L294.2,167.4 L295.0,167.7 L295.8,168.1 L296.6,168.4 L297.4,168.8 L298.2,169.1 L299.0,169.5 L299.8,169.8 L300.6,170.2 L301.4,170.5 L302.2,170.9 L303.0,171.3 L303.8,171.6 L304.6,172.0 L305.4,172.4 L306.1,172.7 L306.9,173.1 L307.7,173.4 L308.5,173.7 L309.3,174.0 L310.1,174.4 L310.9,174.7 L311.7,174.9 L312.5,175.2 L313.3,175.5 L314.1,175.8 L314.9,176.0 L315.7,176.3 L316.5,176.5 L317.3,176.7 L318.1,177.0 L318.9,177.2 L319.7,177.4 L320.5,177.6 L321.3,177.8 L322.1,177.9 L322.9,178.1 L323.7,178.3 L324.5,178.4 L325.3,178.6 L326.1,178.7 L326.9,178.8 L327.7,179.0 L328.5,179.1 L329.3,179.2 L330.1,179.3 L330.9,179.4 L331.7,179.5 L332.5,179.6 L333.3,179.7 L334.1,179.7 L334.9,179.8 L335.7,179.8 L336.5,179.9 L337.3,179.9 L338.1,180.0 L338.9,180.0 L339.7,180.0 L340.5,180.0 L341.3,180.0 L342.1,180.0 L342.9,180.0 L343.7,179.9 L344.5,179.9 L345.3,179.9 L346.1,179.8 L346.9,179.8 L347.7,179.7 L348.5,179.6 L349.3,179.6 L350.1,179.5 L350.9,179.4 L351.7,179.4 L352.5,179.3 L353.3,179.2 L354.1,179.1 L354.9,179.0 L355.7,178.9 L356.5,178.8 L357.3,178.7 L358.1,178.6 L358.9,178.5 L360.8,188.0" stroke="#0000ff" stroke-width="1.35"/>
<path d="M39.8,52.9h4.2M41.9,50.8v4.2M42.1,50.9h4.2M44.2,48.8v4.2M44.4,49.0h4.2M46.5,46.9v4.2M46.7,47.2h4.2M48.8,45.1v4.2M49.0,45.5h4.2M51.1,43.4v4.2M51.3,44.0h4.2M53.4,41.9v4.2M53.6,42.6h4.2M55.7,40.5v4.2M55.9,41.6h4.2M58.0,39.5v4.2M58.2,41.0h4.2M60.3,38.9v4.2M60.5,40.8h4.2M62.6,38.7v4.2M62.8,41.2h4.2M64.9,39.1v4.2M65.2,42.2h4.2M67.3,40.1v4.2M67.6,43.7h4.2M69.7,41.6v4.2M70.1,45.9h4.2M72.2,43.8v4.2M72.6,48.7h4.2M74.7,46.6v4.2M75.2,52.3h4.2M77.3,50.2v4.2M77.9,56.9h4.2M80.0,54.8v4.2M80.6,62.7h4.2M82.7,60.6v4.2M83.4,69.3h4.2M85.5,67.2v4.2M86.2,75.1h4.2M88.3,73.0v4.2M89.2,80.9h4.2M91.3,78.8v4.2M92.2,87.1h4.2M94.3,85.0v4.2" stroke="#0000ff" stroke-width="0.8"/>
<path d="M95.2,93.8h4.2M97.3,91.7v4.2M98.3,101.1h4.2M100.4,99.0v4.2M101.5,109.2h4.2M103.6,107.1v4.2M104.8,117.5h4.2M106.9,115.4v4.2M108.2,124.9h4.2M110.3,122.8v4.2M111.6,130.8h4.2M113.7,128.7v4.2M115.1,134.8h4.2M117.2,132.7v4.2M118.7,137.2h4.2M120.8,135.1v4.2M122.4,138.9h4.2M124.5,136.8v4.2" stroke="#0000ff" stroke-width="0.95"/>
<path d="M126.2,140.5h4.2M128.3,138.4v4.2M130.0,142.2h4.2M132.1,140.1v4.2M134.0,143.3h4.2M136.1,141.2v4.2M138.0,144.0h4.2M140.1,141.9v4.2M142.2,144.4h4.2M144.3,142.3v4.2M146.4,144.9h4.2M148.5,142.8v4.2M150.7,145.2h4.2M152.8,143.1v4.2M155.1,145.4h4.2M157.2,143.3v4.2M159.5,145.5h4.2M161.6,143.4v4.2M163.9,145.7h4.2M166.0,143.6v4.2M168.3,146.9h4.2M170.4,144.8v4.2M172.7,148.9h4.2M174.8,146.8v4.2M177.2,151.6h4.2M179.3,149.5v4.2M181.6,154.3h4.2M183.7,152.2v4.2M186.1,156.5h4.2M188.2,154.4v4.2M190.5,158.3h4.2M192.6,156.2v4.2M195.0,159.7h4.2M197.1,157.6v4.2M199.5,160.9h4.2M201.6,158.8v4.2M204.0,161.9h4.2M206.1,159.8v4.2M208.5,162.7h4.2M210.6,160.6v4.2M213.0,163.4h4.2M215.1,161.3v4.2M217.5,164.0h4.2M219.6,161.9v4.2M222.1,164.4h4.2M224.2,162.3v4.2M226.6,164.6h4.2M228.7,162.5v4.2M231.2,164.7h4.2M233.3,162.6v4.2M235.8,164.6h4.2M237.9,162.5v4.2M240.4,164.4h4.2M242.5,162.3v4.2M245.0,164.1h4.2M247.1,162.0v4.2M249.6,163.7h4.2M251.7,161.6v4.2M254.2,163.4h4.2M256.3,161.3v4.2M258.9,163.1h4.2M261.0,161.0v4.2M263.5,163.0h4.2M265.6,160.9v4.2M268.2,163.2h4.2M270.3,161.1v4.2M272.8,163.5h4.2M274.9,161.4v4.2M277.5,164.0h4.2M279.6,161.9v4.2M282.2,164.7h4.2M284.3,162.6v4.2M286.9,165.7h4.2M289.0,163.6v4.2M291.6,167.3h4.2M293.7,165.2v4.2M296.4,169.2h4.2M298.5,167.1v4.2M301.1,171.4h4.2M303.2,169.3v4.2M305.9,173.5h4.2M308.0,171.4v4.2M310.6,175.3h4.2M312.7,173.2v4.2M315.4,176.8h4.2M317.5,174.7v4.2M320.2,178.0h4.2M322.3,175.9v4.2M325.0,178.9h4.2M327.1,176.8v4.2M329.8,179.5h4.2M331.9,177.4v4.2M334.6,179.9h4.2M336.7,177.8v4.2M339.5,180.0h4.2M341.6,177.9v4.2M344.3,179.8h4.2M346.4,177.7v4.2M349.2,179.4h4.2M351.3,177.3v4.2M354.0,178.9h4.2M356.1,176.8v4.2" stroke="#0000ff" stroke-width="1.15"/>
<path d="M40.0,53.6 L40.8,52.8 L41.6,51.9 L42.4,51.1 L43.2,50.3 L44.0,49.5 L44.8,48.7 L45.6,47.9 L46.4,47.2 L47.2,46.5 L48.0,45.8 L48.8,45.1 L49.6,44.5 L50.4,43.9 L51.2,43.4 L52.0,42.8 L52.8,42.4 L53.6,41.9 L54.4,41.5 L55.2,41.1 L56.0,40.7 L56.8,40.4 L57.6,40.0 L58.4,39.8 L59.2,39.5 L60.0,39.3 L60.8,39.1 L61.6,39.0 L62.4,38.9 L63.2,38.9 L64.0,39.0 L64.8,39.1 L65.6,39.3 L66.4,39.6 L67.2,40.0 L68.0,40.4 L68.8,41.0 L69.6,41.7 L70.4,42.5 L71.2,43.4 L72.0,44.4 L72.8,45.4 L73.6,46.4 L74.4,47.5 L75.2,48.5 L76.0,49.7 L76.8,50.8 L77.6,52.0 L78.4,53.3 L79.2,54.6 L80.0,56.0 L80.8,57.5 L81.6,59.1 L82.4,60.8 L83.2,62.5 L84.0,64.5 L84.8,66.4 L85.6,68.3 L86.4,70.1 L87.2,71.8 L88.0,73.4 L88.8,74.9 L89.6,76.5 L90.4,78.0 L91.2,79.6 L92.0,81.3 L92.8,82.9 L93.5,84.6 L94.3,86.3 L95.1,88.0 L95.9,89.7 L96.7,91.5 L97.5,93.3 L98.3,95.1 L99.1,97.0 L99.9,98.9 L100.7,100.8 L101.5,102.9 L102.3,104.9 L103.1,107.0 L103.9,109.1 L104.7,111.2 L105.5,113.2 L106.3,115.2 L107.1,117.1 L107.9,119.0 L108.7,120.7 L109.5,122.4 L110.3,124.0 L111.1,125.4 L111.9,126.8 L112.7,128.2 L113.5,129.4 L114.3,130.5 L115.1,131.5 L115.9,132.5 L116.7,133.4 L117.5,134.2 L118.3,134.9 L119.1,135.6 L119.9,136.2 L120.7,136.8 L121.5,137.4 L122.3,137.9 L123.1,138.4 L123.9,138.8 L124.7,139.3 L125.5,139.7 L126.3,140.1 L127.1,140.6 L127.9,141.0 L128.7,141.4 L129.5,141.9 L130.3,142.3 L131.1,142.7 L131.9,143.0 L132.7,143.4 L133.5,143.7 L134.3,144.0 L135.1,144.2 L135.9,144.5 L136.7,144.7 L137.5,144.9 L138.3,145.1 L139.1,145.2 L139.9,145.4 L140.7,145.5 L141.5,145.7 L142.3,145.8 L143.1,145.9 L143.9,146.1 L144.7,146.2 L145.5,146.3 L146.3,146.4 L147.1,146.5 L147.9,146.6 L148.7,146.7 L149.5,146.7 L150.3,146.8 L151.1,146.9 L151.9,147.0 L152.7,147.0 L153.5,147.1 L154.3,147.2 L155.1,147.2 L155.9,147.3 L156.7,147.3 L157.5,147.4 L158.3,147.4 L159.1,147.5 L159.9,147.5 L160.7,147.5 L161.5,147.6 L162.3,147.6 L163.1,147.7 L163.9,147.7 L164.7,147.8 L165.5,147.8 L166.3,147.9 L167.1,148.0 L167.9,148.1 L168.7,148.3 L169.5,148.4 L170.3,148.6 L171.1,148.8 L171.9,149.0 L172.7,149.2 L173.5,149.4 L174.3,149.7 L175.1,149.9 L175.9,150.2 L176.7,150.5 L177.5,150.8 L178.3,151.2 L179.1,151.5 L179.9,151.8 L180.7,152.2 L181.5,152.5 L182.3,152.8 L183.1,153.2 L183.9,153.5 L184.7,153.9 L185.5,154.2 L186.3,154.5 L187.1,154.8 L187.9,155.2 L188.7,155.5 L189.5,155.8 L190.3,156.1 L191.1,156.4 L191.9,156.7 L192.7,157.0 L193.5,157.3 L194.3,157.5 L195.1,157.8 L195.9,158.1 L196.7,158.4 L197.5,158.6 L198.3,158.9 L199.1,159.1 L199.8,159.4 L200.6,159.6 L201.4,159.8 L202.2,160.0 L203.0,160.3 L203.8,160.5 L204.6,160.7 L205.4,160.9 L206.2,161.1 L207.0,161.3 L207.8,161.5 L208.6,161.7 L209.4,161.8 L210.2,162.0 L211.0,162.1 L211.8,162.3 L212.6,162.4 L213.4,162.6 L214.2,162.7 L215.0,162.8 L215.8,162.9 L216.6,163.0 L217.4,163.0 L218.2,163.1 L219.0,163.2 L219.8,163.2 L220.6,163.2 L221.4,163.2 L222.2,163.2 L223.0,163.2 L223.8,163.2 L224.6,163.2 L225.4,163.2 L226.2,163.2 L227.0,163.1 L227.8,163.1 L228.6,163.1 L229.4,163.0 L230.2,163.0 L231.0,162.9 L231.8,162.9 L232.6,162.8 L233.4,162.8 L234.2,162.7 L235.0,162.7 L235.8,162.7 L236.6,162.6 L237.4,162.6 L238.2,162.6 L239.0,162.5 L239.8,162.5 L240.6,162.5 L241.4,162.4 L242.2,162.4 L243.0,162.4 L243.8,162.4 L244.6,162.3 L245.4,162.3 L246.2,162.3 L247.0,162.3 L247.8,162.2 L248.6,162.2 L249.4,162.2 L250.2,162.2 L251.0,162.1 L251.8,162.1 L252.6,162.1 L253.4,162.1 L254.2,162.0 L255.0,162.0 L255.8,162.0 L256.6,161.9 L257.4,161.9 L258.2,161.8 L259.0,161.8 L259.8,161.7 L260.6,161.7 L261.4,161.7 L262.2,161.6 L263.0,161.6 L263.8,161.6 L264.6,161.5 L265.4,161.5 L266.2,161.5 L267.0,161.5 L267.8,161.5 L268.6,161.4 L269.4,161.4 L270.2,161.4 L271.0,161.4 L271.8,161.4 L272.6,161.4 L273.4,161.5 L274.2,161.5 L275.0,161.5 L275.8,161.5 L276.6,161.6 L277.4,161.6 L278.2,161.7 L279.0,161.7 L279.8,161.8 L280.6,161.9 L281.4,161.9 L282.2,162.0 L283.0,162.1 L283.8,162.3 L284.6,162.4 L285.4,162.5 L286.2,162.7 L287.0,162.8 L287.8,163.0 L288.6,163.2 L289.4,163.3 L290.2,163.5 L291.0,163.8 L291.8,164.0 L292.6,164.2 L293.4,164.5 L294.2,164.8 L295.0,165.0 L295.8,165.3 L296.6,165.6 L297.4,165.9 L298.2,166.2 L299.0,166.6 L299.8,166.9 L300.6,167.2 L301.4,167.5 L302.2,167.9 L303.0,168.2 L303.8,168.5 L304.6,168.9 L305.4,169.2 L306.1,169.5 L306.9,169.8 L307.7,170.2 L308.5,170.5 L309.3,170.8 L310.1,171.1 L310.9,171.3 L311.7,171.6 L312.5,171.9 L313.3,172.2 L314.1,172.4 L314.9,172.7 L315.7,172.9 L316.5,173.1 L317.3,173.3 L318.1,173.5 L318.9,173.7 L319.7,173.9 L320.5,174.0 L321.3,174.2 L322.1,174.3 L322.9,174.4 L323.7,174.4 L324.5,174.5 L325.3,174.5 L326.1,174.5 L326.9,174.5 L327.7,174.5 L328.5,174.4 L329.3,174.4 L330.1,174.3 L330.9,174.2 L331.7,174.1 L332.5,174.0 L333.3,173.9 L334.1,173.8 L334.9,173.7 L335.7,173.6 L336.5,173.5 L337.3,173.4 L338.1,173.2 L338.9,173.1 L339.7,173.0 L340.5,172.9 L341.3,172.9 L342.1,172.8 L342.9,172.7 L343.7,172.6 L344.5,172.6 L345.3,172.5 L346.1,172.4 L346.9,172.4 L347.7,172.4 L348.5,172.3 L349.3,172.3 L350.1,172.2 L350.9,172.2 L351.7,172.2 L352.5,172.1 L353.3,172.1 L354.1,172.1 L354.9,172.1 L355.7,172.1 L356.5,172.0 L357.3,172.0 L358.1,172.0 L358.9,172.0 L360.8,188.0" stroke="#ff00ff" stroke-width="1.35"/>
<path d="M39.8,51.6h4.2M41.9,49.5v4.2M42.1,49.3h4.2M44.2,47.2v4.2M44.4,47.1h4.2M46.5,45.0v4.2M46.7,45.1h4.2M48.8,43.0v4.2M49.0,43.4h4.2M51.1,41.3v4.2M51.3,42.0h4.2M53.4,39.9v4.2M53.6,40.8h4.2M55.7,38.7v4.2M55.9,39.9h4.2M58.0,37.8v4.2M58.2,39.2h4.2M60.3,37.1v4.2M60.5,38.9h4.2M62.6,36.8v4.2M62.8,39.1h4.2M64.9,37.0v4.2M65.2,40.0h4.2M67.3,37.9v4.2M67.6,41.9h4.2M69.7,39.8v4.2M70.1,44.7h4.2M72.2,42.6v4.2M72.6,48.0h4.2M74.7,45.9v4.2M75.2,51.6h4.2M77.3,49.5v4.2M77.9,56.0h4.2M80.0,53.9v4.2M80.6,61.5h4.2M82.7,59.4v4.2M83.4,68.2h4.2M85.5,66.1v4.2M86.2,74.1h4.2M88.3,72.0v4.2M89.2,79.9h4.2M91.3,77.8v4.2M92.2,86.1h4.2M94.3,84.0v4.2" stroke="#ff00ff" stroke-width="0.8"/>
<path d="M95.2,92.7h4.2M97.3,90.6v4.2M98.3,100.1h4.2M100.4,98.0v4.2M101.5,108.3h4.2M103.6,106.2v4.2M104.8,116.6h4.2M106.9,114.5v4.2M108.2,123.9h4.2M110.3,121.8v4.2M111.6,129.6h4.2M113.7,127.5v4.2M115.1,133.9h4.2M117.2,131.8v4.2M118.7,136.9h4.2M120.8,134.8v4.2M122.4,139.2h4.2M124.5,137.1v4.2" stroke="#ff00ff" stroke-width="0.95"/>
<path d="M126.2,141.2h4.2M128.3,139.1v4.2M130.0,143.1h4.2M132.1,141.0v4.2M134.0,144.5h4.2M136.1,142.4v4.2M138.0,145.4h4.2M140.1,143.3v4.2M142.2,146.1h4.2M144.3,144.0v4.2M146.4,146.6h4.2M148.5,144.5v4.2M150.7,147.0h4.2M152.8,144.9v4.2M155.1,147.3h4.2M157.2,145.2v4.2M159.5,147.6h4.2M161.6,145.5v4.2M163.9,147.9h4.2M166.0,145.8v4.2M168.3,148.6h4.2M170.4,146.5v4.2M172.7,149.9h4.2M174.8,147.8v4.2M177.2,151.6h4.2M179.3,149.5v4.2M181.6,153.5h4.2M183.7,151.4v4.2M186.1,155.3h4.2M188.2,153.2v4.2M190.5,157.0h4.2M192.6,154.9v4.2M195.0,158.5h4.2M197.1,156.4v4.2M199.5,159.9h4.2M201.6,157.8v4.2M204.0,161.1h4.2M206.1,159.0v4.2M208.5,162.1h4.2M210.6,160.0v4.2M213.0,162.8h4.2M215.1,160.7v4.2M217.5,163.2h4.2M219.6,161.1v4.2M222.1,163.2h4.2M224.2,161.1v4.2M226.6,163.1h4.2M228.7,161.0v4.2M231.2,162.8h4.2M233.3,160.7v4.2M235.8,162.6h4.2M237.9,160.5v4.2M240.4,162.4h4.2M242.5,160.3v4.2M245.0,162.3h4.2M247.1,160.2v4.2M249.6,162.1h4.2M251.7,160.0v4.2M254.2,161.9h4.2M256.3,159.8v4.2M258.9,161.7h4.2M261.0,159.6v4.2M263.5,161.5h4.2M265.6,159.4v4.2M268.2,161.4h4.2M270.3,159.3v4.2M272.8,161.5h4.2M274.9,159.4v4.2M277.5,161.8h4.2M279.6,159.7v4.2M282.2,162.3h4.2M284.3,160.2v4.2M286.9,163.3h4.2M289.0,161.2v4.2M291.6,164.6h4.2M293.7,162.5v4.2M296.4,166.4h4.2M298.5,164.3v4.2M301.1,168.3h4.2M303.2,166.2v4.2M305.9,170.2h4.2M308.0,168.1v4.2M310.6,171.9h4.2M312.7,169.8v4.2M315.4,173.4h4.2M317.5,171.3v4.2M320.2,174.3h4.2M322.3,172.2v4.2M325.0,174.5h4.2M327.1,172.4v4.2M329.8,174.1h4.2M331.9,172.0v4.2M334.6,173.4h4.2M336.7,171.3v4.2M339.5,172.8h4.2M341.6,170.7v4.2M344.3,172.4h4.2M346.4,170.3v4.2M349.2,172.2h4.2M351.3,170.1v4.2M354.0,172.1h4.2M356.1,170.0v4.2" stroke="#ff00ff" stroke-width="1.15"/>
<path d="M40.0,53.3 L40.8,52.4 L41.6,51.5 L42.4,50.6 L43.2,49.8 L44.0,48.9 L44.8,48.1 L45.6,47.3 L46.4,46.5 L47.2,45.7 L48.0,45.0 L48.8,44.3 L49.6,43.6 L50.4,43.0 L51.2,42.4 L52.0,41.8 L52.8,41.3 L53.6,40.8 L54.4,40.3 L55.2,39.9 L56.0,39.5 L56.8,39.1 L57.6,38.8 L58.4,38.5 L59.2,38.2 L60.0,38.0 L60.8,37.8 L61.6,37.7 L62.4,37.6 L63.2,37.6 L64.0,37.6 L64.8,37.8 L65.6,38.0 L66.4,38.2 L67.2,38.6 L68.0,39.1 L68.8,39.6 L69.6,40.3 L70.4,41.1 L71.2,41.9 L72.0,42.9 L72.8,43.8 L73.6,44.8 L74.4,45.8 L75.2,46.9 L76.0,47.9 L76.8,49.0 L77.6,50.1 L78.4,51.2 L79.2,52.4 L80.0,53.7 L80.8,55.0 L81.6,56.3 L82.4,57.7 L83.2,59.2 L84.0,60.8 L84.8,62.5 L85.6,64.2 L86.4,66.0 L87.2,67.8 L88.0,69.5 L88.8,71.1 L89.6,72.7 L90.4,74.3 L91.2,75.9 L92.0,77.6 L92.8,79.4 L93.5,81.1 L94.3,82.9 L95.1,84.7 L95.9,86.4 L96.7,88.2 L97.5,89.9 L98.3,91.6 L99.1,93.3 L99.9,95.1 L100.7,96.9 L101.5,98.9 L102.3,100.9 L103.1,103.0 L103.9,105.3 L104.7,107.6 L105.5,109.9 L106.3,112.2 L107.1,114.4 L107.9,116.6 L108.7,118.6 L109.5,120.4 L110.3,122.1 L111.1,123.5 L111.9,124.8 L112.7,125.9 L113.5,126.9 L114.3,127.9 L115.1,128.7 L115.9,129.5 L116.7,130.3 L117.5,131.1 L118.3,131.8 L119.1,132.5 L119.9,133.3 L120.7,134.0 L121.5,134.8 L122.3,135.6 L123.1,136.5 L123.9,137.3 L124.7,138.2 L125.5,139.0 L126.3,139.8 L127.1,140.6 L127.9,141.4 L128.7,142.1 L129.5,142.8 L130.3,143.5 L131.1,144.1 L131.9,144.7 L132.7,145.3 L133.5,145.9 L134.3,146.4 L135.1,146.9 L135.9,147.4 L136.7,147.8 L137.5,148.2 L138.3,148.6 L139.1,149.0 L139.9,149.3 L140.7,149.6 L141.5,149.8 L142.3,150.0 L143.1,150.2 L143.9,150.4 L144.7,150.5 L145.5,150.6 L146.3,150.7 L147.1,150.8 L147.9,150.9 L148.7,150.9 L149.5,151.0 L150.3,151.0 L151.1,151.1 L151.9,151.1 L152.7,151.1 L153.5,151.2 L154.3,151.2 L155.1,151.2 L155.9,151.3 L156.7,151.3 L157.5,151.3 L158.3,151.4 L159.1,151.4 L159.9,151.5 L160.7,151.6 L161.5,151.6 L162.3,151.7 L163.1,151.8 L163.9,151.9 L164.7,152.0 L165.5,152.1 L166.3,152.2 L167.1,152.3 L167.9,152.5 L168.7,152.6 L169.5,152.8 L170.3,153.0 L171.1,153.2 L171.9,153.5 L172.7,153.7 L173.5,154.0 L174.3,154.2 L175.1,154.5 L175.9,154.8 L176.7,155.2 L177.5,155.5 L178.3,155.8 L179.1,156.1 L179.9,156.5 L180.7,156.8 L181.5,157.1 L182.3,157.5 L183.1,157.8 L183.9,158.1 L184.7,158.4 L185.5,158.7 L186.3,158.9 L187.1,159.2 L187.9,159.5 L188.7,159.7 L189.5,159.9 L190.3,160.2 L191.1,160.4 L191.9,160.6 L192.7,160.8 L193.5,161.0 L194.3,161.2 L195.1,161.4 L195.9,161.6 L196.7,161.8 L197.5,162.0 L198.3,162.1 L199.1,162.3 L199.8,162.5 L200.6,162.6 L201.4,162.8 L202.2,163.0 L203.0,163.1 L203.8,163.3 L204.6,163.4 L205.4,163.6 L206.2,163.7 L207.0,163.9 L207.8,164.0 L208.6,164.2 L209.4,164.3 L210.2,164.4 L211.0,164.6 L211.8,164.7 L212.6,164.8 L213.4,164.9 L214.2,165.0 L215.0,165.1 L215.8,165.2 L216.6,165.3 L217.4,165.3 L218.2,165.4 L219.0,165.4 L219.8,165.5 L220.6,165.5 L221.4,165.6 L222.2,165.6 L223.0,165.6 L223.8,165.6 L224.6,165.6 L225.4,165.6 L226.2,165.6 L227.0,165.6 L227.8,165.6 L228.6,165.6 L229.4,165.6 L230.2,165.6 L231.0,165.6 L231.8,165.6 L232.6,165.6 L233.4,165.5 L234.2,165.5 L235.0,165.5 L235.8,165.5 L236.6,165.5 L237.4,165.4 L238.2,165.4 L239.0,165.4 L239.8,165.4 L240.6,165.3 L241.4,165.3 L242.2,165.3 L243.0,165.3 L243.8,165.2 L244.6,165.2 L245.4,165.2 L246.2,165.1 L247.0,165.1 L247.8,165.0 L248.6,165.0 L249.4,164.9 L250.2,164.9 L251.0,164.8 L251.8,164.8 L252.6,164.7 L253.4,164.6 L254.2,164.6 L255.0,164.5 L255.8,164.4 L256.6,164.3 L257.4,164.2 L258.2,164.1 L259.0,164.0 L259.8,163.9 L260.6,163.8 L261.4,163.7 L262.2,163.5 L263.0,163.4 L263.8,163.3 L264.6,163.2 L265.4,163.0 L266.2,162.9 L267.0,162.7 L267.8,162.6 L268.6,162.5 L269.4,162.3 L270.2,162.2 L271.0,162.0 L271.8,161.9 L272.6,161.8 L273.4,161.7 L274.2,161.6 L275.0,161.5 L275.8,161.4 L276.6,161.4 L277.4,161.3 L278.2,161.3 L279.0,161.3 L279.8,161.2 L280.6,161.2 L281.4,161.2 L282.2,161.2 L283.0,161.3 L283.8,161.3 L284.6,161.3 L285.4,161.4 L286.2,161.4 L287.0,161.5 L287.8,161.6 L288.6,161.6 L289.4,161.7 L290.2,161.8 L291.0,161.9 L291.8,162.0 L292.6,162.2 L293.4,162.3 L294.2,162.5 L295.0,162.6 L295.8,162.8 L296.6,163.0 L297.4,163.2 L298.2,163.4 L299.0,163.6 L299.8,163.8 L300.6,164.0 L301.4,164.3 L302.2,164.5 L303.0,164.7 L303.8,165.0 L304.6,165.2 L305.4,165.5 L306.1,165.7 L306.9,166.0 L307.7,166.3 L308.5,166.5 L309.3,166.8 L310.1,167.0 L310.9,167.3 L311.7,167.6 L312.5,167.9 L313.3,168.1 L314.1,168.4 L314.9,168.7 L315.7,168.9 L316.5,169.2 L317.3,169.4 L318.1,169.7 L318.9,169.9 L319.7,170.1 L320.5,170.3 L321.3,170.5 L322.1,170.6 L322.9,170.8 L323.7,170.9 L324.5,171.0 L325.3,171.0 L326.1,171.1 L326.9,171.1 L327.7,171.1 L328.5,171.0 L329.3,170.9 L330.1,170.8 L330.9,170.6 L331.7,170.4 L332.5,170.2 L333.3,170.0 L334.1,169.8 L334.9,169.5 L335.7,169.3 L336.5,169.0 L337.3,168.8 L338.1,168.5 L338.9,168.3 L339.7,168.1 L340.5,167.9 L341.3,167.7 L342.1,167.5 L342.9,167.4 L343.7,167.2 L344.5,167.1 L345.3,167.0 L346.1,166.9 L346.9,166.8 L347.7,166.7 L348.5,166.6 L349.3,166.6 L350.1,166.5 L350.9,166.4 L351.7,166.4 L352.5,166.4 L353.3,166.3 L354.1,166.3 L354.9,166.3 L355.7,166.2 L356.5,166.2 L357.3,166.2 L358.1,166.2 L358.9,166.2 L360.8,188.0" stroke="#00ffff" stroke-width="1.35"/>
<path d="M39.8,51.2h4.2M41.9,49.1v4.2M42.1,48.7h4.2M44.2,46.6v4.2M44.4,46.4h4.2M46.5,44.3v4.2M46.7,44.3h4.2M48.8,42.2v4.2M49.0,42.5h4.2M51.1,40.4v4.2M51.3,40.9h4.2M53.4,38.8v4.2M53.6,39.6h4.2M55.7,37.5v4.2M55.9,38.6h4.2M58.0,36.5v4.2M58.2,37.9h4.2M60.3,35.8v4.2M60.5,37.6h4.2M62.6,35.5v4.2M62.8,37.8h4.2M64.9,35.7v4.2M65.2,38.7h4.2M67.3,36.6v4.2M67.6,40.4h4.2M69.7,38.3v4.2M70.1,43.1h4.2M72.2,41.0v4.2M72.6,46.3h4.2M74.7,44.2v4.2M75.2,49.8h4.2M77.3,47.7v4.2M77.9,53.7h4.2M80.0,51.6v4.2M80.6,58.4h4.2M82.7,56.3v4.2M83.4,64.1h4.2M85.5,62.0v4.2M86.2,70.3h4.2M88.3,68.2v4.2M89.2,76.2h4.2M91.3,74.1v4.2M92.2,82.7h4.2M94.3,80.6v4.2" stroke="#00ffff" stroke-width="1.15"/>
<path d="M95.2,89.4h4.2M97.3,87.3v4.2M98.3,96.2h4.2M100.4,94.1v4.2M101.5,104.5h4.2M103.6,102.4v4.2M104.8,113.8h4.2M106.9,111.7v4.2M108.2,122.0h4.2M110.3,119.9v4.2M111.6,127.2h4.2M113.7,125.1v4.2M115.1,130.8h4.2M117.2,128.7v4.2M118.7,134.1h4.2M120.8,132.0v4.2M122.4,137.9h4.2M124.5,135.8v4.2" stroke="#00ffff" stroke-width="0.95"/>
<path d="M126.2,141.7h4.2M128.3,139.6v4.2M130.0,144.9h4.2M132.1,142.8v4.2M134.0,147.5h4.2M136.1,145.4v4.2M138.0,149.4h4.2M140.1,147.3v4.2M142.2,150.4h4.2M144.3,148.3v4.2M146.4,150.9h4.2M148.5,148.8v4.2M150.7,151.1h4.2M152.8,149.0v4.2M155.1,151.3h4.2M157.2,149.2v4.2M159.5,151.6h4.2M161.6,149.5v4.2M163.9,152.1h4.2M166.0,150.0v4.2M168.3,153.1h4.2M170.4,151.0v4.2M172.7,154.4h4.2M174.8,152.3v4.2M177.2,156.2h4.2M179.3,154.1v4.2M181.6,158.0h4.2M183.7,155.9v4.2M186.1,159.6h4.2M188.2,157.5v4.2M190.5,160.8h4.2M192.6,158.7v4.2M195.0,161.9h4.2M197.1,159.8v4.2M199.5,162.8h4.2M201.6,160.7v4.2M204.0,163.7h4.2M206.1,161.6v4.2M208.5,164.5h4.2M210.6,162.4v4.2M213.0,165.1h4.2M215.1,163.0v4.2M217.5,165.5h4.2M219.6,163.4v4.2M222.1,165.6h4.2M224.2,163.5v4.2M226.6,165.6h4.2M228.7,163.5v4.2M231.2,165.5h4.2M233.3,163.4v4.2M235.8,165.4h4.2M237.9,163.3v4.2M240.4,165.3h4.2M242.5,163.2v4.2M245.0,165.1h4.2M247.1,163.0v4.2M249.6,164.8h4.2M251.7,162.7v4.2M254.2,164.3h4.2M256.3,162.2v4.2M258.9,163.7h4.2M261.0,161.6v4.2M263.5,163.0h4.2M265.6,160.9v4.2M268.2,162.2h4.2M270.3,160.1v4.2M272.8,161.5h4.2M274.9,159.4v4.2M277.5,161.2h4.2M279.6,159.1v4.2M282.2,161.3h4.2M284.3,159.2v4.2M286.9,161.7h4.2M289.0,159.6v4.2M291.6,162.4h4.2M293.7,160.3v4.2M296.4,163.5h4.2M298.5,161.4v4.2M301.1,164.8h4.2M303.2,162.7v4.2M305.9,166.3h4.2M308.0,164.2v4.2M310.6,167.9h4.2M312.7,165.8v4.2M315.4,169.5h4.2M317.5,167.4v4.2M320.2,170.6h4.2M322.3,168.5v4.2M325.0,171.1h4.2M327.1,169.0v4.2M329.8,170.4h4.2M331.9,168.3v4.2M334.6,168.9h4.2M336.7,166.8v4.2M339.5,167.6h4.2M341.6,165.5v4.2M344.3,166.8h4.2M346.4,164.7v4.2M349.2,166.4h4.2M351.3,164.3v4.2M354.0,166.2h4.2M356.1,164.1v4.2" stroke="#00ffff" stroke-width="1.15"/>
<path d="M40.0,53.4 L40.8,52.5 L41.6,51.7 L42.4,50.9 L43.2,50.0 L44.0,49.2 L44.8,48.4 L45.6,47.6 L46.4,46.9 L47.2,46.1 L48.0,45.4 L48.8,44.8 L49.6,44.1 L50.4,43.5 L51.2,42.9 L52.0,42.4 L52.8,41.9 L53.6,41.4 L54.4,40.9 L55.2,40.5 L56.0,40.1 L56.8,39.7 L57.6,39.4 L58.4,39.1 L59.2,38.9 L60.0,38.6 L60.8,38.5 L61.6,38.4 L62.4,38.3 L63.2,38.3 L64.0,38.4 L64.8,38.6 L65.6,38.8 L66.4,39.1 L67.2,39.6 L68.0,40.0 L68.8,40.6 L69.6,41.3 L70.4,42.1 L71.2,43.0 L72.0,43.9 L72.8,44.9 L73.6,45.9 L74.4,47.0 L75.2,48.0 L76.0,49.2 L76.8,50.3 L77.6,51.5 L78.4,52.8 L79.2,54.1 L80.0,55.5 L80.8,56.9 L81.6,58.4 L82.4,60.0 L83.2,61.6 L84.0,63.4 L84.8,65.2 L85.6,67.0 L86.4,68.7 L87.2,70.3 L88.0,71.8 L88.8,73.2 L89.6,74.7 L90.4,76.2 L91.2,77.8 L92.0,79.5 L92.8,81.3 L93.5,83.1 L94.3,84.9 L95.1,86.7 L95.9,88.5 L96.7,90.2 L97.5,91.9 L98.3,93.7 L99.1,95.4 L99.9,97.2 L100.7,99.1 L101.5,101.1 L102.3,103.2 L103.1,105.4 L103.9,107.7 L104.7,110.0 L105.5,112.2 L106.3,114.4 L107.1,116.6 L107.9,118.6 L108.7,120.4 L109.5,122.1 L110.3,123.5 L111.1,124.8 L111.9,126.0 L112.7,127.0 L113.5,127.9 L114.3,128.8 L115.1,129.6 L115.9,130.4 L116.7,131.2 L117.5,132.0 L118.3,132.7 L119.1,133.4 L119.9,134.1 L120.7,134.8 L121.5,135.4 L122.3,136.1 L123.1,136.7 L123.9,137.3 L124.7,137.9 L125.5,138.4 L126.3,139.0 L127.1,139.6 L127.9,140.2 L128.7,140.7 L129.5,141.3 L130.3,141.9 L131.1,142.4 L131.9,142.8 L132.7,143.2 L133.5,143.5 L134.3,143.7 L135.1,143.9 L135.9,144.1 L136.7,144.2 L137.5,144.3 L138.3,144.3 L139.1,144.4 L139.9,144.5 L140.7,144.5 L141.5,144.6 L142.3,144.7 L143.1,144.7 L143.9,144.8 L144.7,144.9 L145.5,145.0 L146.3,145.1 L147.1,145.2 L147.9,145.3 L148.7,145.4 L149.5,145.4 L150.3,145.5 L151.1,145.6 L151.9,145.7 L152.7,145.7 L153.5,145.8 L154.3,145.9 L155.1,146.0 L155.9,146.0 L156.7,146.1 L157.5,146.2 L158.3,146.3 L159.1,146.4 L159.9,146.5 L160.7,146.6 L161.5,146.7 L162.3,146.9 L163.1,147.0 L163.9,147.2 L164.7,147.4 L165.5,147.6 L166.3,147.9 L167.1,148.1 L167.9,148.4 L168.7,148.7 L169.5,149.1 L170.3,149.5 L171.1,149.9 L171.9,150.4 L172.7,151.0 L173.5,151.6 L174.3,152.2 L175.1,152.9 L175.9,153.6 L176.7,154.4 L177.5,155.2 L178.3,155.9 L179.1,156.7 L179.9,157.5 L180.7,158.3 L181.5,159.1 L182.3,159.8 L183.1,160.5 L183.9,161.1 L184.7,161.8 L185.5,162.3 L186.3,162.8 L187.1,163.3 L187.9,163.7 L188.7,164.1 L189.5,164.5 L190.3,164.8 L191.1,165.1 L191.9,165.4 L192.7,165.6 L193.5,165.9 L194.3,166.1 L195.1,166.2 L195.9,166.4 L196.7,166.5 L197.5,166.7 L198.3,166.8 L199.1,166.9 L199.8,167.0 L200.6,167.1 L201.4,167.2 L202.2,167.3 L203.0,167.4 L203.8,167.4 L204.6,167.5 L205.4,167.6 L206.2,167.7 L207.0,167.8 L207.8,167.8 L208.6,167.9 L209.4,168.0 L210.2,168.0 L211.0,168.1 L211.8,168.2 L212.6,168.3 L213.4,168.3 L214.2,168.4 L215.0,168.5 L215.8,168.6 L216.6,168.6 L217.4,168.7 L218.2,168.8 L219.0,168.9 L219.8,169.0 L220.6,169.1 L221.4,169.2 L222.2,169.3 L223.0,169.4 L223.8,169.5 L224.6,169.6 L225.4,169.7 L226.2,169.8 L227.0,169.9 L227.8,170.0 L228.6,170.1 L229.4,170.2 L230.2,170.3 L231.0,170.4 L231.8,170.4 L232.6,170.5 L233.4,170.5 L234.2,170.6 L235.0,170.6 L235.8,170.6 L236.6,170.6 L237.4,170.6 L238.2,170.6 L239.0,170.6 L239.8,170.5 L240.6,170.5 L241.4,170.4 L242.2,170.4 L243.0,170.3 L243.8,170.2 L244.6,170.1 L245.4,170.0 L246.2,169.9 L247.0,169.8 L247.8,169.6 L248.6,169.5 L249.4,169.4 L250.2,169.2 L251.0,169.1 L251.8,168.9 L252.6,168.7 L253.4,168.5 L254.2,168.3 L255.0,168.1 L255.8,167.8 L256.6,167.5 L257.4,167.2 L258.2,166.9 L259.0,166.6 L259.8,166.2 L260.6,165.8 L261.4,165.4 L262.2,165.0 L263.0,164.6 L263.8,164.2 L264.6,163.8 L265.4,163.4 L266.2,163.0 L267.0,162.6 L267.8,162.2 L268.6,161.8 L269.4,161.5 L270.2,161.2 L271.0,160.8 L271.8,160.5 L272.6,160.2 L273.4,160.0 L274.2,159.7 L275.0,159.5 L275.8,159.3 L276.6,159.1 L277.4,159.0 L278.2,158.8 L279.0,158.7 L279.8,158.6 L280.6,158.5 L281.4,158.4 L282.2,158.3 L283.0,158.3 L283.8,158.3 L284.6,158.3 L285.4,158.3 L286.2,158.3 L287.0,158.4 L287.8,158.4 L288.6,158.5 L289.4,158.5 L290.2,158.6 L291.0,158.7 L291.8,158.8 L292.6,158.9 L293.4,159.1 L294.2,159.2 L295.0,159.3 L295.8,159.5 L296.6,159.7 L297.4,159.8 L298.2,160.0 L299.0,160.2 L299.8,160.4 L300.6,160.6 L301.4,160.8 L302.2,161.0 L303.0,161.2 L303.8,161.5 L304.6,161.7 L305.4,161.9 L306.1,162.2 L306.9,162.4 L307.7,162.6 L308.5,162.9 L309.3,163.1 L310.1,163.3 L310.9,163.6 L311.7,163.8 L312.5,164.1 L313.3,164.3 L314.1,164.6 L314.9,164.8 L315.7,165.0 L316.5,165.3 L317.3,165.5 L318.1,165.7 L318.9,165.9 L319.7,166.1 L320.5,166.3 L321.3,166.5 L322.1,166.7 L322.9,166.8 L323.7,167.0 L324.5,167.1 L325.3,167.2 L326.1,167.3 L326.9,167.3 L327.7,167.4 L328.5,167.4 L329.3,167.4 L330.1,167.4 L330.9,167.3 L331.7,167.2 L332.5,167.1 L333.3,167.0 L334.1,166.9 L334.9,166.7 L335.7,166.5 L336.5,166.3 L337.3,166.0 L338.1,165.7 L338.9,165.4 L339.7,165.1 L340.5,164.8 L341.3,164.4 L342.1,164.0 L342.9,163.6 L343.7,163.2 L344.5,162.8 L345.3,162.4 L346.1,162.0 L346.9,161.6 L347.7,161.3 L348.5,161.0 L349.3,160.8 L350.1,160.6 L350.9,160.5 L351.7,160.5 L352.5,160.5 L353.3,160.6 L354.1,160.9 L354.9,161.2 L355.7,161.5 L356.5,161.9 L357.3,162.4 L358.1,162.8 L358.9,163.3 L360.8,188.0" stroke="#ffff00" stroke-width="1.35"/>
<path d="M39.8,51.4h4.2M41.9,49.3v4.2M42.1,49.0h4.2M44.2,46.9v4.2M44.4,46.8h4.2M46.5,44.7v4.2M46.7,44.8h4.2M48.8,42.7v4.2M49.0,43.0h4.2M51.1,40.9v4.2M51.3,41.5h4.2M53.4,39.4v4.2M53.6,40.2h4.2M55.7,38.1v4.2M55.9,39.3h4.2M58.0,37.2v4.2M58.2,38.6h4.2M60.3,36.5v4.2M60.5,38.3h4.2M62.6,36.2v4.2M62.8,38.6h4.2M64.9,36.5v4.2M65.2,39.6h4.2M67.3,37.5v4.2M67.6,41.5h4.2M69.7,39.4v4.2M70.1,44.2h4.2M72.2,42.1v4.2M72.6,47.5h4.2M74.7,45.4v4.2M75.2,51.2h4.2M77.3,49.1v4.2M77.9,55.5h4.2M80.0,53.4v4.2M80.6,60.7h4.2M82.7,58.6v4.2M83.4,66.8h4.2M85.5,64.7v4.2M86.2,72.5h4.2M88.3,70.4v4.2M89.2,78.1h4.2M91.3,76.0v4.2M92.2,84.7h4.2M94.3,82.6v4.2" stroke="#ffff00" stroke-width="0.8"/>
<path d="M95.2,91.4h4.2M97.3,89.3v4.2M98.3,98.4h4.2M100.4,96.3v4.2M101.5,106.9h4.2M103.6,104.8v4.2M104.8,116.0h4.2M106.9,113.9v4.2M108.2,123.4h4.2M110.3,121.3v4.2M111.6,128.1h4.2M113.7,126.0v4.2M115.1,131.7h4.2M117.2,129.6v4.2M118.7,134.9h4.2M120.8,132.8v4.2M122.4,137.7h4.2M124.5,135.6v4.2" stroke="#ffff00" stroke-width="0.95"/>
<path d="M126.2,140.4h4.2M128.3,138.3v4.2M130.0,142.9h4.2M132.1,140.8v4.2M134.0,144.1h4.2M136.1,142.0v4.2M138.0,144.5h4.2M140.1,142.4v4.2M142.2,144.9h4.2M144.3,142.8v4.2M146.4,145.3h4.2M148.5,143.2v4.2M150.7,145.8h4.2M152.8,143.7v4.2M155.1,146.2h4.2M157.2,144.1v4.2M159.5,146.8h4.2M161.6,144.7v4.2M163.9,147.8h4.2M166.0,145.7v4.2M168.3,149.6h4.2M170.4,147.5v4.2M172.7,152.7h4.2M174.8,150.6v4.2M177.2,156.9h4.2M179.3,154.8v4.2M181.6,161.0h4.2M183.7,158.9v4.2M186.1,163.9h4.2M188.2,161.8v4.2M190.5,165.6h4.2M192.6,163.5v4.2M195.0,166.6h4.2M197.1,164.5v4.2M199.5,167.2h4.2M201.6,165.1v4.2M204.0,167.7h4.2M206.1,165.6v4.2M208.5,168.1h4.2M210.6,166.0v4.2M213.0,168.5h4.2M215.1,166.4v4.2M217.5,169.0h4.2M219.6,166.9v4.2M222.1,169.5h4.2M224.2,167.4v4.2M226.6,170.1h4.2M228.7,168.0v4.2M231.2,170.5h4.2M233.3,168.4v4.2M235.8,170.6h4.2M237.9,168.5v4.2M240.4,170.3h4.2M242.5,168.2v4.2M245.0,169.8h4.2M247.1,167.7v4.2M249.6,168.9h4.2M251.7,166.8v4.2M254.2,167.6h4.2M256.3,165.5v4.2M258.9,165.6h4.2M261.0,163.5v4.2M263.5,163.2h4.2M265.6,161.1v4.2M268.2,161.1h4.2M270.3,159.0v4.2M272.8,159.5h4.2M274.9,157.4v4.2M277.5,158.6h4.2M279.6,156.5v4.2M282.2,158.3h4.2M284.3,156.2v4.2M286.9,158.5h4.2M289.0,156.4v4.2M291.6,159.1h4.2M293.7,157.0v4.2M296.4,160.1h4.2M298.5,158.0v4.2M301.1,161.3h4.2M303.2,159.2v4.2M305.9,162.7h4.2M308.0,160.6v4.2M310.6,164.1h4.2M312.7,162.0v4.2M315.4,165.5h4.2M317.5,163.4v4.2M320.2,166.7h4.2M322.3,164.6v4.2M325.0,167.3h4.2M327.1,165.2v4.2M329.8,167.2h4.2M331.9,165.1v4.2M334.6,166.2h4.2M336.7,164.1v4.2M339.5,164.3h4.2M341.6,162.2v4.2M344.3,161.8h4.2M346.4,159.7v4.2M349.2,160.5h4.2M351.3,158.4v4.2M354.0,161.7h4.2M356.1,159.6v4.2" stroke="#ffff00" stroke-width="1.15"/>
<path d="M40.0,53.7 L40.8,52.9 L41.6,52.1 L42.4,51.3 L43.2,50.5 L44.0,49.7 L44.8,48.9 L45.6,48.2 L46.4,47.4 L47.2,46.7 L48.0,46.1 L48.8,45.4 L49.6,44.8 L50.4,44.2 L51.2,43.7 L52.0,43.2 L52.8,42.7 L53.6,42.2 L54.4,41.8 L55.2,41.4 L56.0,41.0 L56.8,40.7 L57.6,40.3 L58.4,40.0 L59.2,39.8 L60.0,39.6 L60.8,39.4 L61.6,39.3 L62.4,39.2 L63.2,39.2 L64.0,39.3 L64.8,39.4 L65.6,39.6 L66.4,39.9 L67.2,40.3 L68.0,40.8 L68.8,41.3 L69.6,41.9 L70.4,42.7 L71.2,43.5 L72.0,44.4 L72.8,45.3 L73.6,46.2 L74.4,47.2 L75.2,48.2 L76.0,49.3 L76.8,50.4 L77.6,51.5 L78.4,52.7 L79.2,54.0 L80.0,55.3 L80.8,56.8 L81.6,58.3 L82.4,59.9 L83.2,61.6 L84.0,63.5 L84.8,65.4 L85.6,67.3 L86.4,69.1 L87.2,70.7 L88.0,72.2 L88.8,73.6 L89.6,75.1 L90.4,76.7 L91.2,78.3 L92.0,80.0 L92.8,81.7 L93.5,83.5 L94.3,85.2 L95.1,86.9 L95.9,88.5 L96.7,90.1 L97.5,91.8 L98.3,93.5 L99.1,95.4 L99.9,97.5 L100.7,99.8 L101.5,102.5 L102.3,105.4 L103.1,108.2 L103.9,110.8 L104.7,113.0 L105.5,114.9 L106.3,116.5 L107.1,117.9 L107.9,119.2 L108.7,120.5 L109.5,121.9 L110.3,123.4 L111.1,124.9 L111.9,126.5 L112.7,128.0 L113.5,129.4 L114.3,130.8 L115.1,132.1 L115.9,133.2 L116.7,134.2 L117.5,135.0 L118.3,135.7 L119.1,136.4 L119.9,137.0 L120.7,137.7 L121.5,138.4 L122.3,139.1 L123.1,139.8 L123.9,140.6 L124.7,141.2 L125.5,141.9 L126.3,142.4 L127.1,143.0 L127.9,143.4 L128.7,143.9 L129.5,144.3 L130.3,144.6 L131.1,145.0 L131.9,145.3 L132.7,145.5 L133.5,145.7 L134.3,146.0 L135.1,146.1 L135.9,146.3 L136.7,146.5 L137.5,146.6 L138.3,146.7 L139.1,146.8 L139.9,146.9 L140.7,147.0 L141.5,147.1 L142.3,147.2 L143.1,147.3 L143.9,147.3 L144.7,147.4 L145.5,147.5 L146.3,147.6 L147.1,147.6 L147.9,147.7 L148.7,147.8 L149.5,147.9 L150.3,148.0 L151.1,148.2 L151.9,148.3 L152.7,148.5 L153.5,148.6 L154.3,148.8 L155.1,149.0 L155.9,149.1 L156.7,149.3 L157.5,149.5 L158.3,149.6 L159.1,149.8 L159.9,150.0 L160.7,150.1 L161.5,150.3 L162.3,150.4 L163.1,150.6 L163.9,150.8 L164.7,150.9 L165.5,151.1 L166.3,151.3 L167.1,151.5 L167.9,151.7 L168.7,151.9 L169.5,152.1 L170.3,152.3 L171.1,152.6 L171.9,152.8 L172.7,153.1 L173.5,153.3 L174.3,153.6 L175.1,153.9 L175.9,154.1 L176.7,154.4 L177.5,154.7 L178.3,155.0 L179.1,155.3 L179.9,155.6 L180.7,155.9 L181.5,156.2 L182.3,156.5 L183.1,156.8 L183.9,157.1 L184.7,157.4 L185.5,157.7 L186.3,157.9 L187.1,158.2 L187.9,158.5 L188.7,158.7 L189.5,159.0 L190.3,159.2 L191.1,159.4 L191.9,159.7 L192.7,159.9 L193.5,160.1 L194.3,160.3 L195.1,160.6 L195.9,160.8 L196.7,161.0 L197.5,161.2 L198.3,161.3 L199.1,161.5 L199.8,161.7 L200.6,161.9 L201.4,162.1 L202.2,162.2 L203.0,162.4 L203.8,162.5 L204.6,162.7 L205.4,162.9 L206.2,163.0 L207.0,163.2 L207.8,163.3 L208.6,163.5 L209.4,163.7 L210.2,163.9 L211.0,164.0 L211.8,164.2 L212.6,164.4 L213.4,164.6 L214.2,164.8 L215.0,164.9 L215.8,165.1 L216.6,165.3 L217.4,165.5 L218.2,165.6 L219.0,165.8 L219.8,166.0 L220.6,166.1 L221.4,166.3 L222.2,166.4 L223.0,166.5 L223.8,166.7 L224.6,166.8 L225.4,166.9 L226.2,167.0 L227.0,167.2 L227.8,167.3 L228.6,167.4 L229.4,167.5 L230.2,167.6 L231.0,167.7 L231.8,167.8 L232.6,167.9 L233.4,168.0 L234.2,168.1 L235.0,168.2 L235.8,168.3 L236.6,168.4 L237.4,168.5 L238.2,168.6 L239.0,168.7 L239.8,168.7 L240.6,168.8 L241.4,168.8 L242.2,168.8 L243.0,168.8 L243.8,168.8 L244.6,168.7 L245.4,168.6 L246.2,168.5 L247.0,168.4 L247.8,168.2 L248.6,168.0 L249.4,167.8 L250.2,167.5 L251.0,167.3 L251.8,167.0 L252.6,166.7 L253.4,166.4 L254.2,166.1 L255.0,165.7 L255.8,165.4 L256.6,165.0 L257.4,164.7 L258.2,164.3 L259.0,163.9 L259.8,163.6 L260.6,163.2 L261.4,162.8 L262.2,162.4 L263.0,162.1 L263.8,161.7 L264.6,161.3 L265.4,161.0 L266.2,160.6 L267.0,160.2 L267.8,159.9 L268.6,159.5 L269.4,159.2 L270.2,158.9 L271.0,158.5 L271.8,158.2 L272.6,157.9 L273.4,157.6 L274.2,157.3 L275.0,157.0 L275.8,156.7 L276.6,156.4 L277.4,156.2 L278.2,155.9 L279.0,155.7 L279.8,155.5 L280.6,155.3 L281.4,155.1 L282.2,155.0 L283.0,154.9 L283.8,154.9 L284.6,154.8 L285.4,154.8 L286.2,154.8 L287.0,154.8 L287.8,154.8 L288.6,154.8 L289.4,154.9 L290.2,154.9 L291.0,155.0 L291.8,155.1 L292.6,155.2 L293.4,155.3 L294.2,155.4 L295.0,155.5 L295.8,155.6 L296.6,155.7 L297.4,155.9 L298.2,156.0 L299.0,156.1 L299.8,156.3 L300.6,156.4 L301.4,156.5 L302.2,156.6 L303.0,156.8 L303.8,156.9 L304.6,157.0 L305.4,157.1 L306.1,157.3 L306.9,157.4 L307.7,157.6 L308.5,157.7 L309.3,157.9 L310.1,158.0 L310.9,158.2 L311.7,158.4 L312.5,158.6 L313.3,158.8 L314.1,159.0 L314.9,159.2 L315.7,159.4 L316.5,159.6 L317.3,159.8 L318.1,160.0 L318.9,160.3 L319.7,160.5 L320.5,160.7 L321.3,160.9 L322.1,161.1 L322.9,161.3 L323.7,161.5 L324.5,161.7 L325.3,161.9 L326.1,162.0 L326.9,162.2 L327.7,162.3 L328.5,162.5 L329.3,162.6 L330.1,162.7 L330.9,162.8 L331.7,162.8 L332.5,162.8 L333.3,162.8 L334.1,162.8 L334.9,162.7 L335.7,162.6 L336.5,162.4 L337.3,162.2 L338.1,161.9 L338.9,161.7 L339.7,161.4 L340.5,161.0 L341.3,160.7 L342.1,160.3 L342.9,159.9 L343.7,159.5 L344.5,159.2 L345.3,158.8 L346.1,158.4 L346.9,158.1 L347.7,157.7 L348.5,157.4 L349.3,157.1 L350.1,156.8 L350.9,156.5 L351.7,156.3 L352.5,156.1 L353.3,156.0 L354.1,155.9 L354.9,155.8 L355.7,155.8 L356.5,155.8 L357.3,155.8 L358.1,155.9 L358.9,155.9 L360.8,188.0" stroke="#000000" stroke-width="1.35"/>
<path d="M39.8,51.8h4.2M41.9,49.7v4.2M42.1,49.5h4.2M44.2,47.4v4.2M44.4,47.3h4.2M46.5,45.2v4.2M46.7,45.4h4.2M48.8,43.3v4.2M49.0,43.7h4.2M51.1,41.6v4.2M51.3,42.3h4.2M53.4,40.2v4.2M53.6,41.1h4.2M55.7,39.0v4.2M55.9,40.2h4.2M58.0,38.1v4.2M58.2,39.5h4.2M60.3,37.4v4.2M60.5,39.2h4.2M62.6,37.1v4.2M62.8,39.5h4.2M64.9,37.4v4.2M65.2,40.4h4.2M67.3,38.3v4.2M67.6,42.1h4.2M69.7,40.0v4.2M70.1,44.6h4.2M72.2,42.5v4.2M72.6,47.7h4.2M74.7,45.6v4.2M75.2,51.2h4.2M77.3,49.1v4.2M77.9,55.4h4.2M80.0,53.3v4.2M80.6,60.7h4.2M82.7,58.6v4.2M83.4,67.1h4.2M85.5,65.0v4.2M86.2,72.9h4.2M88.3,70.8v4.2M89.2,78.6h4.2M91.3,76.5v4.2M92.2,85.0h4.2M94.3,82.9v4.2" stroke="#000000" stroke-width="0.8"/>
<path d="M95.2,91.3h4.2M97.3,89.2v4.2M98.3,98.9h4.2M100.4,96.8v4.2M101.5,109.9h4.2M103.6,107.8v4.2M104.8,117.5h4.2M106.9,115.4v4.2M108.2,123.3h4.2M110.3,121.2v4.2M111.6,129.8h4.2M113.7,127.7v4.2M115.1,134.7h4.2M117.2,132.6v4.2M118.7,137.8h4.2M120.8,135.7v4.2M122.4,141.1h4.2M124.5,139.0v4.2" stroke="#000000" stroke-width="0.95"/>
<path d="M126.2,143.7h4.2M128.3,141.6v4.2M130.0,145.3h4.2M132.1,143.2v4.2M134.0,146.3h4.2M136.1,144.2v4.2M138.0,147.0h4.2M140.1,144.9v4.2M142.2,147.4h4.2M144.3,145.3v4.2M146.4,147.8h4.2M148.5,145.7v4.2M150.7,148.5h4.2M152.8,146.4v4.2M155.1,149.4h4.2M157.2,147.3v4.2M159.5,150.3h4.2M161.6,148.2v4.2M163.9,151.2h4.2M166.0,149.1v4.2M168.3,152.4h4.2M170.4,150.3v4.2M172.7,153.8h4.2M174.8,151.7v4.2M177.2,155.4h4.2M179.3,153.3v4.2M181.6,157.0h4.2M183.7,154.9v4.2M186.1,158.6h4.2M188.2,156.5v4.2M190.5,159.9h4.2M192.6,157.8v4.2M195.0,161.1h4.2M197.1,159.0v4.2M199.5,162.1h4.2M201.6,160.0v4.2M204.0,163.0h4.2M206.1,160.9v4.2M208.5,163.9h4.2M210.6,161.8v4.2M213.0,165.0h4.2M215.1,162.9v4.2M217.5,165.9h4.2M219.6,163.8v4.2M222.1,166.7h4.2M224.2,164.6v4.2M226.6,167.4h4.2M228.7,165.3v4.2M231.2,168.0h4.2M233.3,165.9v4.2M235.8,168.5h4.2M237.9,166.4v4.2M240.4,168.8h4.2M242.5,166.7v4.2M245.0,168.3h4.2M247.1,166.2v4.2M249.6,167.0h4.2M251.7,164.9v4.2M254.2,165.2h4.2M256.3,163.1v4.2M258.9,163.0h4.2M261.0,160.9v4.2M263.5,160.9h4.2M265.6,158.8v4.2M268.2,158.8h4.2M270.3,156.7v4.2M272.8,157.0h4.2M274.9,154.9v4.2M277.5,155.5h4.2M279.6,153.4v4.2M282.2,154.8h4.2M284.3,152.7v4.2M286.9,154.8h4.2M289.0,152.7v4.2M291.6,155.3h4.2M293.7,153.2v4.2M296.4,156.1h4.2M298.5,154.0v4.2M301.1,156.8h4.2M303.2,154.7v4.2M305.9,157.6h4.2M308.0,155.5v4.2M310.6,158.6h4.2M312.7,156.5v4.2M315.4,159.9h4.2M317.5,157.8v4.2M320.2,161.1h4.2M322.3,159.0v4.2M325.0,162.2h4.2M327.1,160.1v4.2M329.8,162.8h4.2M331.9,160.7v4.2M334.6,162.4h4.2M336.7,160.3v4.2M339.5,160.6h4.2M341.6,158.5v4.2M344.3,158.3h4.2M346.4,156.2v4.2M349.2,156.4h4.2M351.3,154.3v4.2M354.0,155.8h4.2M356.1,153.7v4.2" stroke="#000000" stroke-width="1.15"/>
<path d="M40.0,57.2 L40.8,56.6 L41.6,56.0 L42.4,55.4 L43.2,54.9 L44.0,54.3 L44.8,53.7 L45.6,53.2 L46.4,52.6 L47.2,52.1 L48.0,51.6 L48.8,51.1 L49.6,50.6 L50.4,50.1 L51.2,49.6 L52.0,49.1 L52.8,48.7 L53.6,48.2 L54.4,47.8 L55.2,47.5 L56.0,47.1 L56.8,46.8 L57.6,46.5 L58.4,46.3 L59.2,46.1 L60.0,45.9 L60.8,45.8 L61.6,45.8 L62.4,45.8 L63.2,45.9 L64.0,46.0 L64.8,46.2 L65.6,46.4 L66.4,46.7 L67.2,47.0 L68.0,47.4 L68.8,47.8 L69.6,48.2 L70.4,48.7 L71.2,49.3 L72.0,49.9 L72.8,50.6 L73.6,51.4 L74.4,52.2 L75.2,53.1 L76.0,54.1 L76.8,55.3 L77.6,56.5 L78.4,57.9 L79.2,59.3 L80.0,61.0 L80.8,62.8 L81.6,64.7 L82.4,66.7 L83.2,68.6 L84.0,70.3 L84.8,71.9 L85.6,73.3 L86.4,74.7 L87.2,76.2 L88.0,77.7 L88.8,79.3 L89.6,80.9 L90.4,82.6 L91.2,84.2 L92.0,85.9 L92.8,87.5 L93.5,89.1 L94.3,90.8 L95.1,92.4 L95.9,94.1 L96.7,95.9 L97.5,97.7 L98.3,99.6 L99.1,101.6 L99.9,103.8 L100.7,106.0 L101.5,108.3 L102.3,110.7 L103.1,113.0 L103.9,115.4 L104.7,117.8 L105.5,120.1 L106.3,122.4 L107.1,124.6 L107.9,126.8 L108.7,128.7 L109.5,130.5 L110.3,132.1 L111.1,133.5 L111.9,134.7 L112.7,135.9 L113.5,136.9 L114.3,137.9 L115.1,138.9 L115.9,139.9 L116.7,140.9 L117.5,141.8 L118.3,142.6 L119.1,143.4 L119.9,144.1 L120.7,144.8 L121.5,145.4 L122.3,146.0 L123.1,146.5 L123.9,147.0 L124.7,147.5 L125.5,147.9 L126.3,148.4 L127.1,148.8 L127.9,149.3 L128.7,149.7 L129.5,150.1 L130.3,150.5 L131.1,150.9 L131.9,151.3 L132.7,151.6 L133.5,151.9 L134.3,152.1 L135.1,152.4 L135.9,152.6 L136.7,152.8 L137.5,152.9 L138.3,153.0 L139.1,153.1 L139.9,153.2 L140.7,153.2 L141.5,153.2 L142.3,153.1 L143.1,153.1 L143.9,153.0 L144.7,152.9 L145.5,152.8 L146.3,152.7 L147.1,152.6 L147.9,152.5 L148.7,152.5 L149.5,152.4 L150.3,152.4 L151.1,152.4 L151.9,152.4 L152.7,152.5 L153.5,152.6 L154.3,152.7 L155.1,152.8 L155.9,152.9 L156.7,153.0 L157.5,153.1 L158.3,153.2 L159.1,153.4 L159.9,153.5 L160.7,153.6 L161.5,153.7 L162.3,153.8 L163.1,153.9 L163.9,154.1 L164.7,154.2 L165.5,154.4 L166.3,154.6 L167.1,154.8 L167.9,155.1 L168.7,155.3 L169.5,155.6 L170.3,155.9 L171.1,156.2 L171.9,156.5 L172.7,156.8 L173.5,157.1 L174.3,157.4 L175.1,157.6 L175.9,157.9 L176.7,158.2 L177.5,158.5 L178.3,158.7 L179.1,159.0 L179.9,159.2 L180.7,159.5 L181.5,159.7 L182.3,160.0 L183.1,160.2 L183.9,160.5 L184.7,160.7 L185.5,160.9 L186.3,161.2 L187.1,161.4 L187.9,161.7 L188.7,162.0 L189.5,162.2 L190.3,162.5 L191.1,162.7 L191.9,163.0 L192.7,163.2 L193.5,163.5 L194.3,163.7 L195.1,163.9 L195.9,164.2 L196.7,164.4 L197.5,164.6 L198.3,164.8 L199.1,165.0 L199.8,165.2 L200.6,165.4 L201.4,165.6 L202.2,165.7 L203.0,165.9 L203.8,166.0 L204.6,166.2 L205.4,166.3 L206.2,166.4 L207.0,166.6 L207.8,166.7 L208.6,166.8 L209.4,166.9 L210.2,167.0 L211.0,167.1 L211.8,167.2 L212.6,167.2 L213.4,167.3 L214.2,167.4 L215.0,167.5 L215.8,167.5 L216.6,167.6 L217.4,167.6 L218.2,167.7 L219.0,167.7 L219.8,167.8 L220.6,167.8 L221.4,167.9 L222.2,167.9 L223.0,168.0 L223.8,168.0 L224.6,168.0 L225.4,168.1 L226.2,168.1 L227.0,168.2 L227.8,168.2 L228.6,168.2 L229.4,168.3 L230.2,168.3 L231.0,168.4 L231.8,168.4 L232.6,168.5 L233.4,168.6 L234.2,168.6 L235.0,168.7 L235.8,168.8 L236.6,168.9 L237.4,168.9 L238.2,169.0 L239.0,169.1 L239.8,169.1 L240.6,169.2 L241.4,169.2 L242.2,169.2 L243.0,169.2 L243.8,169.2 L244.6,169.1 L245.4,169.0 L246.2,168.9 L247.0,168.8 L247.8,168.6 L248.6,168.4 L249.4,168.2 L250.2,167.9 L251.0,167.7 L251.8,167.4 L252.6,167.1 L253.4,166.8 L254.2,166.5 L255.0,166.1 L255.8,165.8 L256.6,165.4 L257.4,165.1 L258.2,164.7 L259.0,164.3 L259.8,164.0 L260.6,163.6 L261.4,163.2 L262.2,162.9 L263.0,162.5 L263.8,162.1 L264.6,161.7 L265.4,161.4 L266.2,161.0 L267.0,160.6 L267.8,160.2 L268.6,159.9 L269.4,159.5 L270.2,159.2 L271.0,158.9 L271.8,158.6 L272.6,158.3 L273.4,158.0 L274.2,157.7 L275.0,157.5 L275.8,157.3 L276.6,157.1 L277.4,157.0 L278.2,156.8 L279.0,156.7 L279.8,156.6 L280.6,156.5 L281.4,156.5 L282.2,156.5 L283.0,156.4 L283.8,156.4 L284.6,156.5 L285.4,156.5 L286.2,156.5 L287.0,156.6 L287.8,156.6 L288.6,156.7 L289.4,156.8 L290.2,156.8 L291.0,156.9 L291.8,157.0 L292.6,157.1 L293.4,157.2 L294.2,157.3 L295.0,157.4 L295.8,157.5 L296.6,157.6 L297.4,157.7 L298.2,157.8 L299.0,157.9 L299.8,158.0 L300.6,158.1 L301.4,158.2 L302.2,158.3 L303.0,158.3 L303.8,158.4 L304.6,158.5 L305.4,158.7 L306.1,158.8 L306.9,158.9 L307.7,159.0 L308.5,159.2 L309.3,159.4 L310.1,159.5 L310.9,159.7 L311.7,160.0 L312.5,160.2 L313.3,160.4 L314.1,160.7 L314.9,160.9 L315.7,161.1 L316.5,161.3 L317.3,161.4 L318.1,161.5 L318.9,161.6 L319.7,161.7 L320.5,161.8 L321.3,161.8 L322.1,161.8 L322.9,161.8 L323.7,161.7 L324.5,161.7 L325.3,161.6 L326.1,161.5 L326.9,161.4 L327.7,161.2 L328.5,161.0 L329.3,160.8 L330.1,160.6 L330.9,160.3 L331.7,160.0 L332.5,159.7 L333.3,159.4 L334.1,159.1 L334.9,158.7 L335.7,158.4 L336.5,158.0 L337.3,157.6 L338.1,157.2 L338.9,156.8 L339.7,156.4 L340.5,156.0 L341.3,155.5 L342.1,155.1 L342.9,154.7 L343.7,154.3 L344.5,153.9 L345.3,153.6 L346.1,153.2 L346.9,152.9 L347.7,152.6 L348.5,152.3 L349.3,152.0 L350.1,151.7 L350.9,151.5 L351.7,151.3 L352.5,151.1 L353.3,150.8 L354.1,150.6 L354.9,150.5 L355.7,150.3 L356.5,150.1 L357.3,149.9 L358.1,149.8 L358.9,149.6 L360.8,188.0" stroke="#ff5500" stroke-width="1.35"/>
<path d="M39.8,55.8h4.2M41.9,53.7v4.2M42.1,54.2h4.2M44.2,52.1v4.2M44.4,52.6h4.2M46.5,50.5v4.2M46.7,51.0h4.2M48.8,48.9v4.2M49.0,49.6h4.2M51.1,47.5v4.2M51.3,48.3h4.2M53.4,46.2v4.2M53.6,47.2h4.2M55.7,45.1v4.2M55.9,46.4h4.2M58.0,44.3v4.2M58.2,45.9h4.2M60.3,43.8v4.2M60.5,45.8h4.2M62.6,43.7v4.2M62.8,46.2h4.2M64.9,44.1v4.2M65.2,47.1h4.2M67.3,45.0v4.2M67.6,48.3h4.2M69.7,46.2v4.2M70.1,50.1h4.2M72.2,48.0v4.2M72.6,52.6h4.2M74.7,50.5v4.2M75.2,56.1h4.2M77.3,54.0v4.2M77.9,61.0h4.2M80.0,58.9v4.2M80.6,67.5h4.2M82.7,65.4v4.2M83.4,73.2h4.2M85.5,71.1v4.2M86.2,78.5h4.2M88.3,76.4v4.2M89.2,84.5h4.2M91.3,82.4v4.2M92.2,90.6h4.2M94.3,88.5v4.2" stroke="#ff5500" stroke-width="0.8"/>
<path d="M95.2,97.2h4.2M97.3,95.1v4.2M98.3,105.2h4.2M100.4,103.1v4.2M101.5,114.5h4.2M103.6,112.4v4.2M104.8,124.0h4.2M106.9,121.9v4.2M108.2,132.0h4.2M110.3,129.9v4.2M111.6,137.1h4.2M113.7,135.0v4.2M115.1,141.4h4.2M117.2,139.3v4.2M118.7,144.9h4.2M120.8,142.8v4.2M122.4,147.3h4.2M124.5,145.2v4.2" stroke="#ff5500" stroke-width="0.95"/>
<path d="M126.2,149.5h4.2M128.3,147.4v4.2M130.0,151.4h4.2M132.1,149.3v4.2M134.0,152.6h4.2M136.1,150.5v4.2M138.0,153.2h4.2M140.1,151.1v4.2M142.2,153.0h4.2M144.3,150.9v4.2M146.4,152.5h4.2M148.5,150.4v4.2M150.7,152.5h4.2M152.8,150.4v4.2M155.1,153.1h4.2M157.2,151.0v4.2M159.5,153.7h4.2M161.6,151.6v4.2M163.9,154.5h4.2M166.0,152.4v4.2M168.3,155.9h4.2M170.4,153.8v4.2M172.7,157.6h4.2M174.8,155.5v4.2M177.2,159.0h4.2M179.3,156.9v4.2M181.6,160.4h4.2M183.7,158.3v4.2M186.1,161.8h4.2M188.2,159.7v4.2M190.5,163.2h4.2M192.6,161.1v4.2M195.0,164.5h4.2M197.1,162.4v4.2M199.5,165.6h4.2M201.6,163.5v4.2M204.0,166.4h4.2M206.1,164.3v4.2M208.5,167.0h4.2M210.6,164.9v4.2M213.0,167.5h4.2M215.1,165.4v4.2M217.5,167.8h4.2M219.6,165.7v4.2M222.1,168.0h4.2M224.2,165.9v4.2M226.6,168.3h4.2M228.7,166.2v4.2M231.2,168.6h4.2M233.3,166.5v4.2M235.8,169.0h4.2M237.9,166.9v4.2M240.4,169.2h4.2M242.5,167.1v4.2M245.0,168.7h4.2M247.1,166.6v4.2M249.6,167.4h4.2M251.7,165.3v4.2M254.2,165.6h4.2M256.3,163.5v4.2M258.9,163.4h4.2M261.0,161.3v4.2M263.5,161.3h4.2M265.6,159.2v4.2M268.2,159.2h4.2M270.3,157.1v4.2M272.8,157.5h4.2M274.9,155.4v4.2M277.5,156.6h4.2M279.6,154.5v4.2M282.2,156.5h4.2M284.3,154.4v4.2M286.9,156.7h4.2M289.0,154.6v4.2M291.6,157.2h4.2M293.7,155.1v4.2M296.4,157.8h4.2M298.5,155.7v4.2M301.1,158.4h4.2M303.2,156.3v4.2M305.9,159.1h4.2M308.0,157.0v4.2M310.6,160.2h4.2M312.7,158.1v4.2M315.4,161.5h4.2M317.5,159.4v4.2M320.2,161.8h4.2M322.3,159.7v4.2M325.0,161.3h4.2M327.1,159.2v4.2M329.8,160.0h4.2M331.9,157.9v4.2M334.6,157.9h4.2M336.7,155.8v4.2M339.5,155.4h4.2M341.6,153.3v4.2M344.3,153.1h4.2M346.4,151.0v4.2M349.2,151.4h4.2M351.3,149.3v4.2M354.0,150.2h4.2M356.1,148.1v4.2" stroke="#ff5500" stroke-width="1.15"/>
<path d="M40.0,70.0 L40.8,69.4 L41.6,68.7 L42.4,68.1 L43.2,67.5 L44.0,66.8 L44.8,66.2 L45.6,65.6 L46.4,65.0 L47.2,64.4 L48.0,63.9 L48.8,63.3 L49.6,62.8 L50.4,62.2 L51.2,61.7 L52.0,61.2 L52.8,60.7 L53.6,60.3 L54.4,59.8 L55.2,59.4 L56.0,59.1 L56.8,58.7 L57.6,58.4 L58.4,58.1 L59.2,57.9 L60.0,57.8 L60.8,57.7 L61.6,57.6 L62.4,57.6 L63.2,57.7 L64.0,57.8 L64.8,58.0 L65.6,58.2 L66.4,58.5 L67.2,58.8 L68.0,59.1 L68.8,59.5 L69.6,59.9 L70.4,60.3 L71.2,60.8 L72.0,61.4 L72.8,62.0 L73.6,62.7 L74.4,63.4 L75.2,64.3 L76.0,65.2 L76.8,66.2 L77.6,67.2 L78.4,68.3 L79.2,69.5 L80.0,70.7 L80.8,72.0 L81.6,73.4 L82.4,74.8 L83.2,76.2 L84.0,77.6 L84.8,79.0 L85.6,80.5 L86.4,82.0 L87.2,83.5 L88.0,85.0 L88.8,86.5 L89.6,88.1 L90.4,89.6 L91.2,91.2 L92.0,92.8 L92.8,94.5 L93.5,96.1 L94.3,97.9 L95.1,99.7 L95.9,101.5 L96.7,103.4 L97.5,105.4 L98.3,107.3 L99.1,109.3 L99.9,111.4 L100.7,113.4 L101.5,115.3 L102.3,117.3 L103.1,119.2 L103.9,121.0 L104.7,122.8 L105.5,124.5 L106.3,126.2 L107.1,127.8 L107.9,129.3 L108.7,130.8 L109.5,132.2 L110.3,133.6 L111.1,134.9 L111.9,136.1 L112.7,137.3 L113.5,138.5 L114.3,139.6 L115.1,140.7 L115.9,141.7 L116.7,142.8 L117.5,143.8 L118.3,144.8 L119.1,145.7 L119.9,146.7 L120.7,147.5 L121.5,148.4 L122.3,149.2 L123.1,149.9 L123.9,150.6 L124.7,151.3 L125.5,151.9 L126.3,152.4 L127.1,152.9 L127.9,153.3 L128.7,153.7 L129.5,154.1 L130.3,154.5 L131.1,154.8 L131.9,155.1 L132.7,155.4 L133.5,155.7 L134.3,155.9 L135.1,156.2 L135.9,156.5 L136.7,156.7 L137.5,156.9 L138.3,157.2 L139.1,157.4 L139.9,157.6 L140.7,157.9 L141.5,158.1 L142.3,158.3 L143.1,158.5 L143.9,158.7 L144.7,158.9 L145.5,159.1 L146.3,159.3 L147.1,159.5 L147.9,159.6 L148.7,159.8 L149.5,159.9 L150.3,160.0 L151.1,160.2 L151.9,160.3 L152.7,160.3 L153.5,160.4 L154.3,160.5 L155.1,160.6 L155.9,160.6 L156.7,160.7 L157.5,160.7 L158.3,160.7 L159.1,160.8 L159.9,160.8 L160.7,160.8 L161.5,160.8 L162.3,160.9 L163.1,160.9 L163.9,160.9 L164.7,161.0 L165.5,161.0 L166.3,161.1 L167.1,161.2 L167.9,161.4 L168.7,161.5 L169.5,161.7 L170.3,161.8 L171.1,162.0 L171.9,162.2 L172.7,162.4 L173.5,162.6 L174.3,162.8 L175.1,163.0 L175.9,163.2 L176.7,163.5 L177.5,163.7 L178.3,163.9 L179.1,164.1 L179.9,164.4 L180.7,164.6 L181.5,164.9 L182.3,165.1 L183.1,165.4 L183.9,165.6 L184.7,165.9 L185.5,166.2 L186.3,166.4 L187.1,166.7 L187.9,167.0 L188.7,167.2 L189.5,167.5 L190.3,167.8 L191.1,168.1 L191.9,168.3 L192.7,168.6 L193.5,168.9 L194.3,169.1 L195.1,169.4 L195.9,169.6 L196.7,169.9 L197.5,170.1 L198.3,170.4 L199.1,170.6 L199.8,170.8 L200.6,171.0 L201.4,171.2 L202.2,171.4 L203.0,171.6 L203.8,171.8 L204.6,171.9 L205.4,172.1 L206.2,172.3 L207.0,172.4 L207.8,172.6 L208.6,172.7 L209.4,172.8 L210.2,173.0 L211.0,173.1 L211.8,173.2 L212.6,173.3 L213.4,173.4 L214.2,173.5 L215.0,173.6 L215.8,173.7 L216.6,173.7 L217.4,173.8 L218.2,173.9 L219.0,173.9 L219.8,174.0 L220.6,174.0 L221.4,174.1 L222.2,174.1 L223.0,174.2 L223.8,174.2 L224.6,174.2 L225.4,174.3 L226.2,174.3 L227.0,174.3 L227.8,174.4 L228.6,174.4 L229.4,174.4 L230.2,174.4 L231.0,174.5 L231.8,174.5 L232.6,174.5 L233.4,174.5 L234.2,174.6 L235.0,174.6 L235.8,174.6 L236.6,174.7 L237.4,174.7 L238.2,174.8 L239.0,174.8 L239.8,174.9 L240.6,174.9 L241.4,175.0 L242.2,175.0 L243.0,175.1 L243.8,175.2 L244.6,175.2 L245.4,175.3 L246.2,175.4 L247.0,175.5 L247.8,175.6 L248.6,175.7 L249.4,175.8 L250.2,175.9 L251.0,176.0 L251.8,176.1 L252.6,176.2 L253.4,176.4 L254.2,176.5 L255.0,176.6 L255.8,176.8 L256.6,176.9 L257.4,177.1 L258.2,177.3 L259.0,177.4 L259.8,177.6 L260.6,177.8 L261.4,177.9 L262.2,178.1 L263.0,178.3 L263.8,178.5 L264.6,178.7 L265.4,178.8 L266.2,179.0 L267.0,179.2 L267.8,179.3 L268.6,179.5 L269.4,179.6 L270.2,179.8 L271.0,179.9 L271.8,180.0 L272.6,180.1 L273.4,180.2 L274.2,180.3 L275.0,180.4 L275.8,180.5 L276.6,180.5 L277.4,180.6 L278.2,180.6 L279.0,180.6 L279.8,180.6 L280.6,180.6 L281.4,180.6 L282.2,180.6 L283.0,180.5 L283.8,180.4 L284.6,180.4 L285.4,180.2 L286.2,180.1 L287.0,180.0 L287.8,179.8 L288.6,179.7 L289.4,179.5 L290.2,179.3 L291.0,179.1 L291.8,178.9 L292.6,178.7 L293.4,178.4 L294.2,178.2 L295.0,177.9 L295.8,177.6 L296.6,177.4 L297.4,177.1 L298.2,176.8 L299.0,176.4 L299.8,176.1 L300.6,175.8 L301.4,175.4 L302.2,175.0 L303.0,174.7 L303.8,174.3 L304.6,173.9 L305.4,173.5 L306.1,173.1 L306.9,172.7 L307.7,172.3 L308.5,171.9 L309.3,171.5 L310.1,171.2 L310.9,170.8 L311.7,170.4 L312.5,170.0 L313.3,169.6 L314.1,169.2 L314.9,168.9 L315.7,168.5 L316.5,168.2 L317.3,167.8 L318.1,167.5 L318.9,167.2 L319.7,166.9 L320.5,166.6 L321.3,166.3 L322.1,166.0 L322.9,165.8 L323.7,165.5 L324.5,165.3 L325.3,165.1 L326.1,164.9 L326.9,164.8 L327.7,164.6 L328.5,164.5 L329.3,164.3 L330.1,164.2 L330.9,164.1 L331.7,163.9 L332.5,163.8 L333.3,163.6 L334.1,163.5 L334.9,163.3 L335.7,163.1 L336.5,162.9 L337.3,162.7 L338.1,162.5 L338.9,162.2 L339.7,162.0 L340.5,161.7 L341.3,161.4 L342.1,161.1 L342.9,160.8 L343.7,160.5 L344.5,160.2 L345.3,159.8 L346.1,159.5 L346.9,159.2 L347.7,158.8 L348.5,158.5 L349.3,158.2 L350.1,157.9 L350.9,157.7 L351.7,157.6 L352.5,157.5 L353.3,157.5 L354.1,157.7 L354.9,157.9 L355.7,158.3 L356.5,158.8 L357.3,159.3 L358.1,159.9 L358.9,160.5 L360.8,188.0" stroke="#858585" stroke-width="1.35"/>
<path d="M39.8,68.5h4.2M41.9,66.4v4.2M42.1,66.7h4.2M44.2,64.6v4.2M44.4,64.9h4.2M46.5,62.8v4.2M46.7,63.3h4.2M48.8,61.2v4.2M49.0,61.8h4.2M51.1,59.7v4.2M51.3,60.4h4.2M53.4,58.3v4.2M53.6,59.2h4.2M55.7,57.1v4.2M55.9,58.3h4.2M58.0,56.2v4.2M58.2,57.7h4.2M60.3,55.6v4.2M60.5,57.6h4.2M62.6,55.5v4.2M62.8,58.0h4.2M64.9,55.9v4.2M65.2,58.8h4.2M67.3,56.7v4.2M67.6,59.9h4.2M69.7,57.8v4.2M70.1,61.5h4.2M72.2,59.4v4.2M72.6,63.8h4.2M74.7,61.7v4.2M75.2,66.9h4.2M77.3,64.8v4.2M77.9,70.8h4.2M80.0,68.7v4.2M80.6,75.4h4.2M82.7,73.3v4.2M83.4,80.4h4.2M85.5,78.3v4.2M86.2,85.7h4.2M88.3,83.6v4.2M89.2,91.4h4.2M91.3,89.3v4.2M92.2,97.7h4.2M94.3,95.6v4.2" stroke="#858585" stroke-width="0.8"/>
<path d="M95.2,104.8h4.2M97.3,102.7v4.2M98.3,112.6h4.2M100.4,110.5v4.2M101.5,120.3h4.2M103.6,118.2v4.2M104.8,127.3h4.2M106.9,125.2v4.2M108.2,133.5h4.2M110.3,131.4v4.2M111.6,138.7h4.2M113.7,136.6v4.2M115.1,143.4h4.2M117.2,141.3v4.2M118.7,147.6h4.2M120.8,145.5v4.2M122.4,151.1h4.2M124.5,149.0v4.2" stroke="#858585" stroke-width="0.95"/>
<path d="M126.2,153.5h4.2M128.3,151.4v4.2M130.0,155.2h4.2M132.1,153.1v4.2M134.0,156.5h4.2M136.1,154.4v4.2M138.0,157.7h4.2M140.1,155.6v4.2M142.2,158.8h4.2M144.3,156.7v4.2M146.4,159.7h4.2M148.5,157.6v4.2M150.7,160.4h4.2M152.8,158.3v4.2M155.1,160.7h4.2M157.2,158.6v4.2M159.5,160.8h4.2M161.6,158.7v4.2M163.9,161.1h4.2M166.0,159.0v4.2M168.3,161.9h4.2M170.4,159.8v4.2M172.7,163.0h4.2M174.8,160.9v4.2M177.2,164.2h4.2M179.3,162.1v4.2M181.6,165.6h4.2M183.7,163.5v4.2M186.1,167.1h4.2M188.2,165.0v4.2M190.5,168.6h4.2M192.6,166.5v4.2M195.0,170.0h4.2M197.1,167.9v4.2M199.5,171.3h4.2M201.6,169.2v4.2M204.0,172.2h4.2M206.1,170.1v4.2M208.5,173.0h4.2M210.6,170.9v4.2M213.0,173.6h4.2M215.1,171.5v4.2M217.5,174.0h4.2M219.6,171.9v4.2M222.1,174.2h4.2M224.2,172.1v4.2M226.6,174.4h4.2M228.7,172.3v4.2M231.2,174.5h4.2M233.3,172.4v4.2M235.8,174.7h4.2M237.9,172.6v4.2M240.4,175.1h4.2M242.5,173.0v4.2M245.0,175.5h4.2M247.1,173.4v4.2M249.6,176.1h4.2M251.7,174.0v4.2M254.2,176.9h4.2M256.3,174.8v4.2M258.9,177.8h4.2M261.0,175.7v4.2M263.5,178.9h4.2M265.6,176.8v4.2M268.2,179.8h4.2M270.3,177.7v4.2M272.8,180.4h4.2M274.9,178.3v4.2M277.5,180.6h4.2M279.6,178.5v4.2M282.2,180.4h4.2M284.3,178.3v4.2M286.9,179.6h4.2M289.0,177.5v4.2M291.6,178.3h4.2M293.7,176.2v4.2M296.4,176.6h4.2M298.5,174.5v4.2M301.1,174.6h4.2M303.2,172.5v4.2M305.9,172.2h4.2M308.0,170.1v4.2M310.6,169.9h4.2M312.7,167.8v4.2M315.4,167.8h4.2M317.5,165.7v4.2M320.2,166.0h4.2M322.3,163.9v4.2M325.0,164.7h4.2M327.1,162.6v4.2M329.8,163.9h4.2M331.9,161.8v4.2M334.6,162.9h4.2M336.7,160.8v4.2M339.5,161.3h4.2M341.6,159.2v4.2M344.3,159.4h4.2M346.4,157.3v4.2M349.2,157.6h4.2M351.3,155.5v4.2M354.0,158.5h4.2M356.1,156.4v4.2" stroke="#858585" stroke-width="1.15"/>
</g>
<g stroke="#484848" stroke-width="1.35" fill="none">
<rect x="40.0" y="22.25" width="321.0" height="212.15"/>
<path d="M45.4,234.4v-1.7M45.4,22.25v1.7M48.8,234.4v-1.7M48.8,22.25v1.7M51.5,234.4v-1.7M51.5,22.25v1.7M53.7,234.4v-1.7M53.7,22.25v1.7M55.5,234.4v-1.7M55.5,22.25v1.7M57.1,234.4v-1.7M57.1,22.25v1.7M58.5,234.4v-1.7M58.5,22.25v1.7M59.8,234.4v-1.7M59.8,22.25v1.7M61.0,234.4v-4.2M61.0,22.25v4.2M69.5,234.4v-1.7M69.5,22.25v1.7M75.0,234.4v-1.7M75.0,22.25v1.7M79.2,234.4v-1.7M79.2,22.25v1.7M82.6,234.4v-1.7M82.6,22.25v1.7M85.6,234.4v-1.7M85.6,22.25v1.7M88.1,234.4v-1.7M88.1,22.25v1.7M90.4,234.4v-1.7M90.4,22.25v1.7M92.4,234.4v-1.7M92.4,22.25v1.7M94.3,234.4v-4.2M94.3,22.25v4.2M107.7,234.4v-1.7M107.7,22.25v1.7M116.5,234.4v-1.7M116.5,22.25v1.7M123.2,234.4v-1.7M123.2,22.25v1.7M128.6,234.4v-1.7M128.6,22.25v1.7M133.2,234.4v-1.7M133.2,22.25v1.7M137.3,234.4v-1.7M137.3,22.25v1.7M140.9,234.4v-1.7M140.9,22.25v1.7M144.1,234.4v-1.7M144.1,22.25v1.7M147.1,234.4v-4.2M147.1,22.25v4.2M168.4,234.4v-1.7M168.4,22.25v1.7M182.2,234.4v-1.7M182.2,22.25v1.7M192.8,234.4v-1.7M192.8,22.25v1.7M201.4,234.4v-1.7M201.4,22.25v1.7M208.7,234.4v-1.7M208.7,22.25v1.7M215.1,234.4v-1.7M215.1,22.25v1.7M220.8,234.4v-1.7M220.8,22.25v1.7M226.0,234.4v-1.7M226.0,22.25v1.7M230.7,234.4v-4.2M230.7,22.25v4.2M264.4,234.4v-4.2M264.4,22.25v4.2M286.4,234.4v-1.7M286.4,22.25v1.7M303.2,234.4v-1.7M303.2,22.25v1.7M316.8,234.4v-4.2M316.8,22.25v4.2M328.4,234.4v-1.7M328.4,22.25v1.7M338.6,234.4v-1.7M338.6,22.25v1.7M347.6,234.4v-1.7M347.6,22.25v1.7M355.8,234.4v-4.2M355.8,22.25v4.2M40.0,218.2h2.0M361.0,218.2h-2.0M40.0,201.9h2.0M361.0,201.9h-2.0M40.0,185.6h4.6M361.0,185.6h-4.6M40.0,169.3h2.0M361.0,169.3h-2.0M40.0,153.0h2.0M361.0,153.0h-2.0M40.0,136.7h2.0M361.0,136.7h-2.0M40.0,120.4h2.0M361.0,120.4h-2.0M40.0,104.0h4.6M361.0,104.0h-4.6M40.0,87.7h2.0M361.0,87.7h-2.0M40.0,71.4h2.0M361.0,71.4h-2.0M40.0,55.1h2.0M361.0,55.1h-2.0M40.0,38.8h2.0M361.0,38.8h-2.0" stroke-width="1.1"/>
</g>
<line x1="230.6" x2="244" y1="33.4" y2="33.4" stroke="#ff0000" stroke-width="1.4"/>
<line x1="270.3" x2="284" y1="33.4" y2="33.4" stroke="#ff0000" stroke-width="1.4"/>
<line x1="277.2" x2="277.2" y1="31.4" y2="35.4" stroke="#ff0000" stroke-width="1.15"/>
<line x1="230.6" x2="244" y1="44.8" y2="44.8" stroke="#00ff00" stroke-width="1.4"/>
<line x1="270.3" x2="284" y1="44.8" y2="44.8" stroke="#00ff00" stroke-width="1.4"/>
<line x1="277.2" x2="277.2" y1="42.8" y2="46.8" stroke="#00ff00" stroke-width="1.15"/>
<line x1="230.6" x2="244" y1="56.3" y2="56.3" stroke="#0000ff" stroke-width="1.4"/>
<line x1="270.3" x2="284" y1="56.3" y2="56.3" stroke="#0000ff" stroke-width="1.4"/>
<line x1="277.2" x2="277.2" y1="54.3" y2="58.3" stroke="#0000ff" stroke-width="1.15"/>
<line x1="230.6" x2="244" y1="67.7" y2="67.7" stroke="#ff00ff" stroke-width="1.4"/>
<line x1="270.3" x2="284" y1="67.7" y2="67.7" stroke="#ff00ff" stroke-width="1.4"/>
<line x1="277.2" x2="277.2" y1="65.7" y2="69.7" stroke="#ff00ff" stroke-width="1.15"/>
<line x1="230.6" x2="244" y1="79.2" y2="79.2" stroke="#00ffff" stroke-width="1.4"/>
<line x1="270.3" x2="284" y1="79.2" y2="79.2" stroke="#00ffff" stroke-width="1.4"/>
<line x1="277.2" x2="277.2" y1="77.2" y2="81.2" stroke="#00ffff" stroke-width="1.15"/>
<line x1="230.6" x2="244" y1="90.6" y2="90.6" stroke="#ffff00" stroke-width="1.4"/>
<line x1="270.3" x2="284" y1="90.6" y2="90.6" stroke="#ffff00" stroke-width="1.4"/>
<line x1="277.2" x2="277.2" y1="88.6" y2="92.6" stroke="#ffff00" stroke-width="1.15"/>
<line x1="230.6" x2="244" y1="102.0" y2="102.0" stroke="#000000" stroke-width="1.4"/>
<line x1="270.3" x2="284" y1="102.0" y2="102.0" stroke="#000000" stroke-width="1.4"/>
<line x1="277.2" x2="277.2" y1="100.0" y2="104.0" stroke="#000000" stroke-width="1.15"/>
<line x1="230.6" x2="244" y1="113.5" y2="113.5" stroke="#ff5500" stroke-width="1.4"/>
<line x1="270.3" x2="284" y1="113.5" y2="113.5" stroke="#ff5500" stroke-width="1.4"/>
<line x1="277.2" x2="277.2" y1="111.5" y2="115.5" stroke="#ff5500" stroke-width="1.15"/>
<line x1="230.6" x2="244" y1="124.9" y2="124.9" stroke="#858585" stroke-width="1.4"/>
<line x1="270.3" x2="284" y1="124.9" y2="124.9" stroke="#858585" stroke-width="1.4"/>
<line x1="277.2" x2="277.2" y1="122.9" y2="126.9" stroke="#858585" stroke-width="1.15"/>
</svg>
<div class="t" style="left:76.3px;top:4.3px;font-size:14.65px;">CT14HERA2 u(x,100GeV) and Z rapidity</div>
<div class="t" style="left:17.6px;top:15.4px;font-size:14.65px;">1.0</div>
<div class="t" style="left:17.5px;top:97.2px;font-size:14.65px;">0.5</div>
<div class="t" style="left:17.6px;top:179.4px;font-size:14.65px;">0.0</div>
<div class="t" style="left:129.8px;top:35.6px;font-size:14.65px;">CT14HERA2</div>
<div class="t" style="left:252px;top:26.799999999999997px;font-size:14.65px;">1</div>
<div class="t" style="left:287.8px;top:26.799999999999997px;font-size:14.65px;">10</div>
<div class="t" style="left:252px;top:38.239999999999995px;font-size:14.65px;">2</div>
<div class="t" style="left:287.8px;top:38.239999999999995px;font-size:14.65px;">11</div>
<div class="t" style="left:252px;top:49.68px;font-size:14.65px;">3</div>
<div class="t" style="left:287.8px;top:49.68px;font-size:14.65px;">12</div>
<div class="t" style="left:252px;top:61.12px;font-size:14.65px;">4</div>
<div class="t" style="left:287.8px;top:61.12px;font-size:14.65px;">13</div>
<div class="t" style="left:252px;top:72.56px;font-size:14.65px;">5</div>
<div class="t" style="left:287.8px;top:72.56px;font-size:14.65px;">14</div>
<div class="t" style="left:252px;top:84.0px;font-size:14.65px;">6</div>
<div class="t" style="left:287.8px;top:84.0px;font-size:14.65px;">15</div>
<div class="t" style="left:252px;top:95.44px;font-size:14.65px;">7</div>
<div class="t" style="left:287.8px;top:95.44px;font-size:14.65px;">16</div>
<div class="t" style="left:252px;top:106.88px;font-size:14.65px;">8</div>
<div class="t" style="left:287.8px;top:106.88px;font-size:14.65px;">17</div>
<div class="t" style="left:252px;top:118.32px;font-size:14.65px;">9</div>
<div class="t" style="left:287.8px;top:118.32px;font-size:14.65px;">18</div>
<div class="t" style="left:49px;top:241.3px;font-size:14.65px">10<span style="font-size:11px;position:relative;top:-6.8px;left:0.5px">-4</span></div>
<div class="t" style="left:81.8px;top:241.3px;font-size:14.65px">10<span style="font-size:11px;position:relative;top:-6.8px;left:0.5px">-3</span></div>
<div class="t" style="left:134.5px;top:241.3px;font-size:14.65px">10<span style="font-size:11px;position:relative;top:-6.8px;left:0.5px">-2</span></div>
<div class="t" style="left:218.7px;top:241.3px;font-size:14.65px">10<span style="font-size:11px;position:relative;top:-6.8px;left:0.5px">-1</span></div>
<div class="t" style="left:254px;top:241.3px;font-size:14.65px;">0.2</div>
<div class="t" style="left:307px;top:241.3px;font-size:14.65px;">0.5</div>
<div class="t" style="left:345px;top:241.3px;font-size:14.65px;">0.9</div>
<div class="t" style="left:197px;top:250px;font-size:14.65px;">x</div>
<div class="t" style="left:-16px;top:120.6px;width:44px;text-align:center;font-size:14.65px;transform:rotate(-90deg);transform-origin:center">cos &#x3d5;</div>
</div></body></html>
